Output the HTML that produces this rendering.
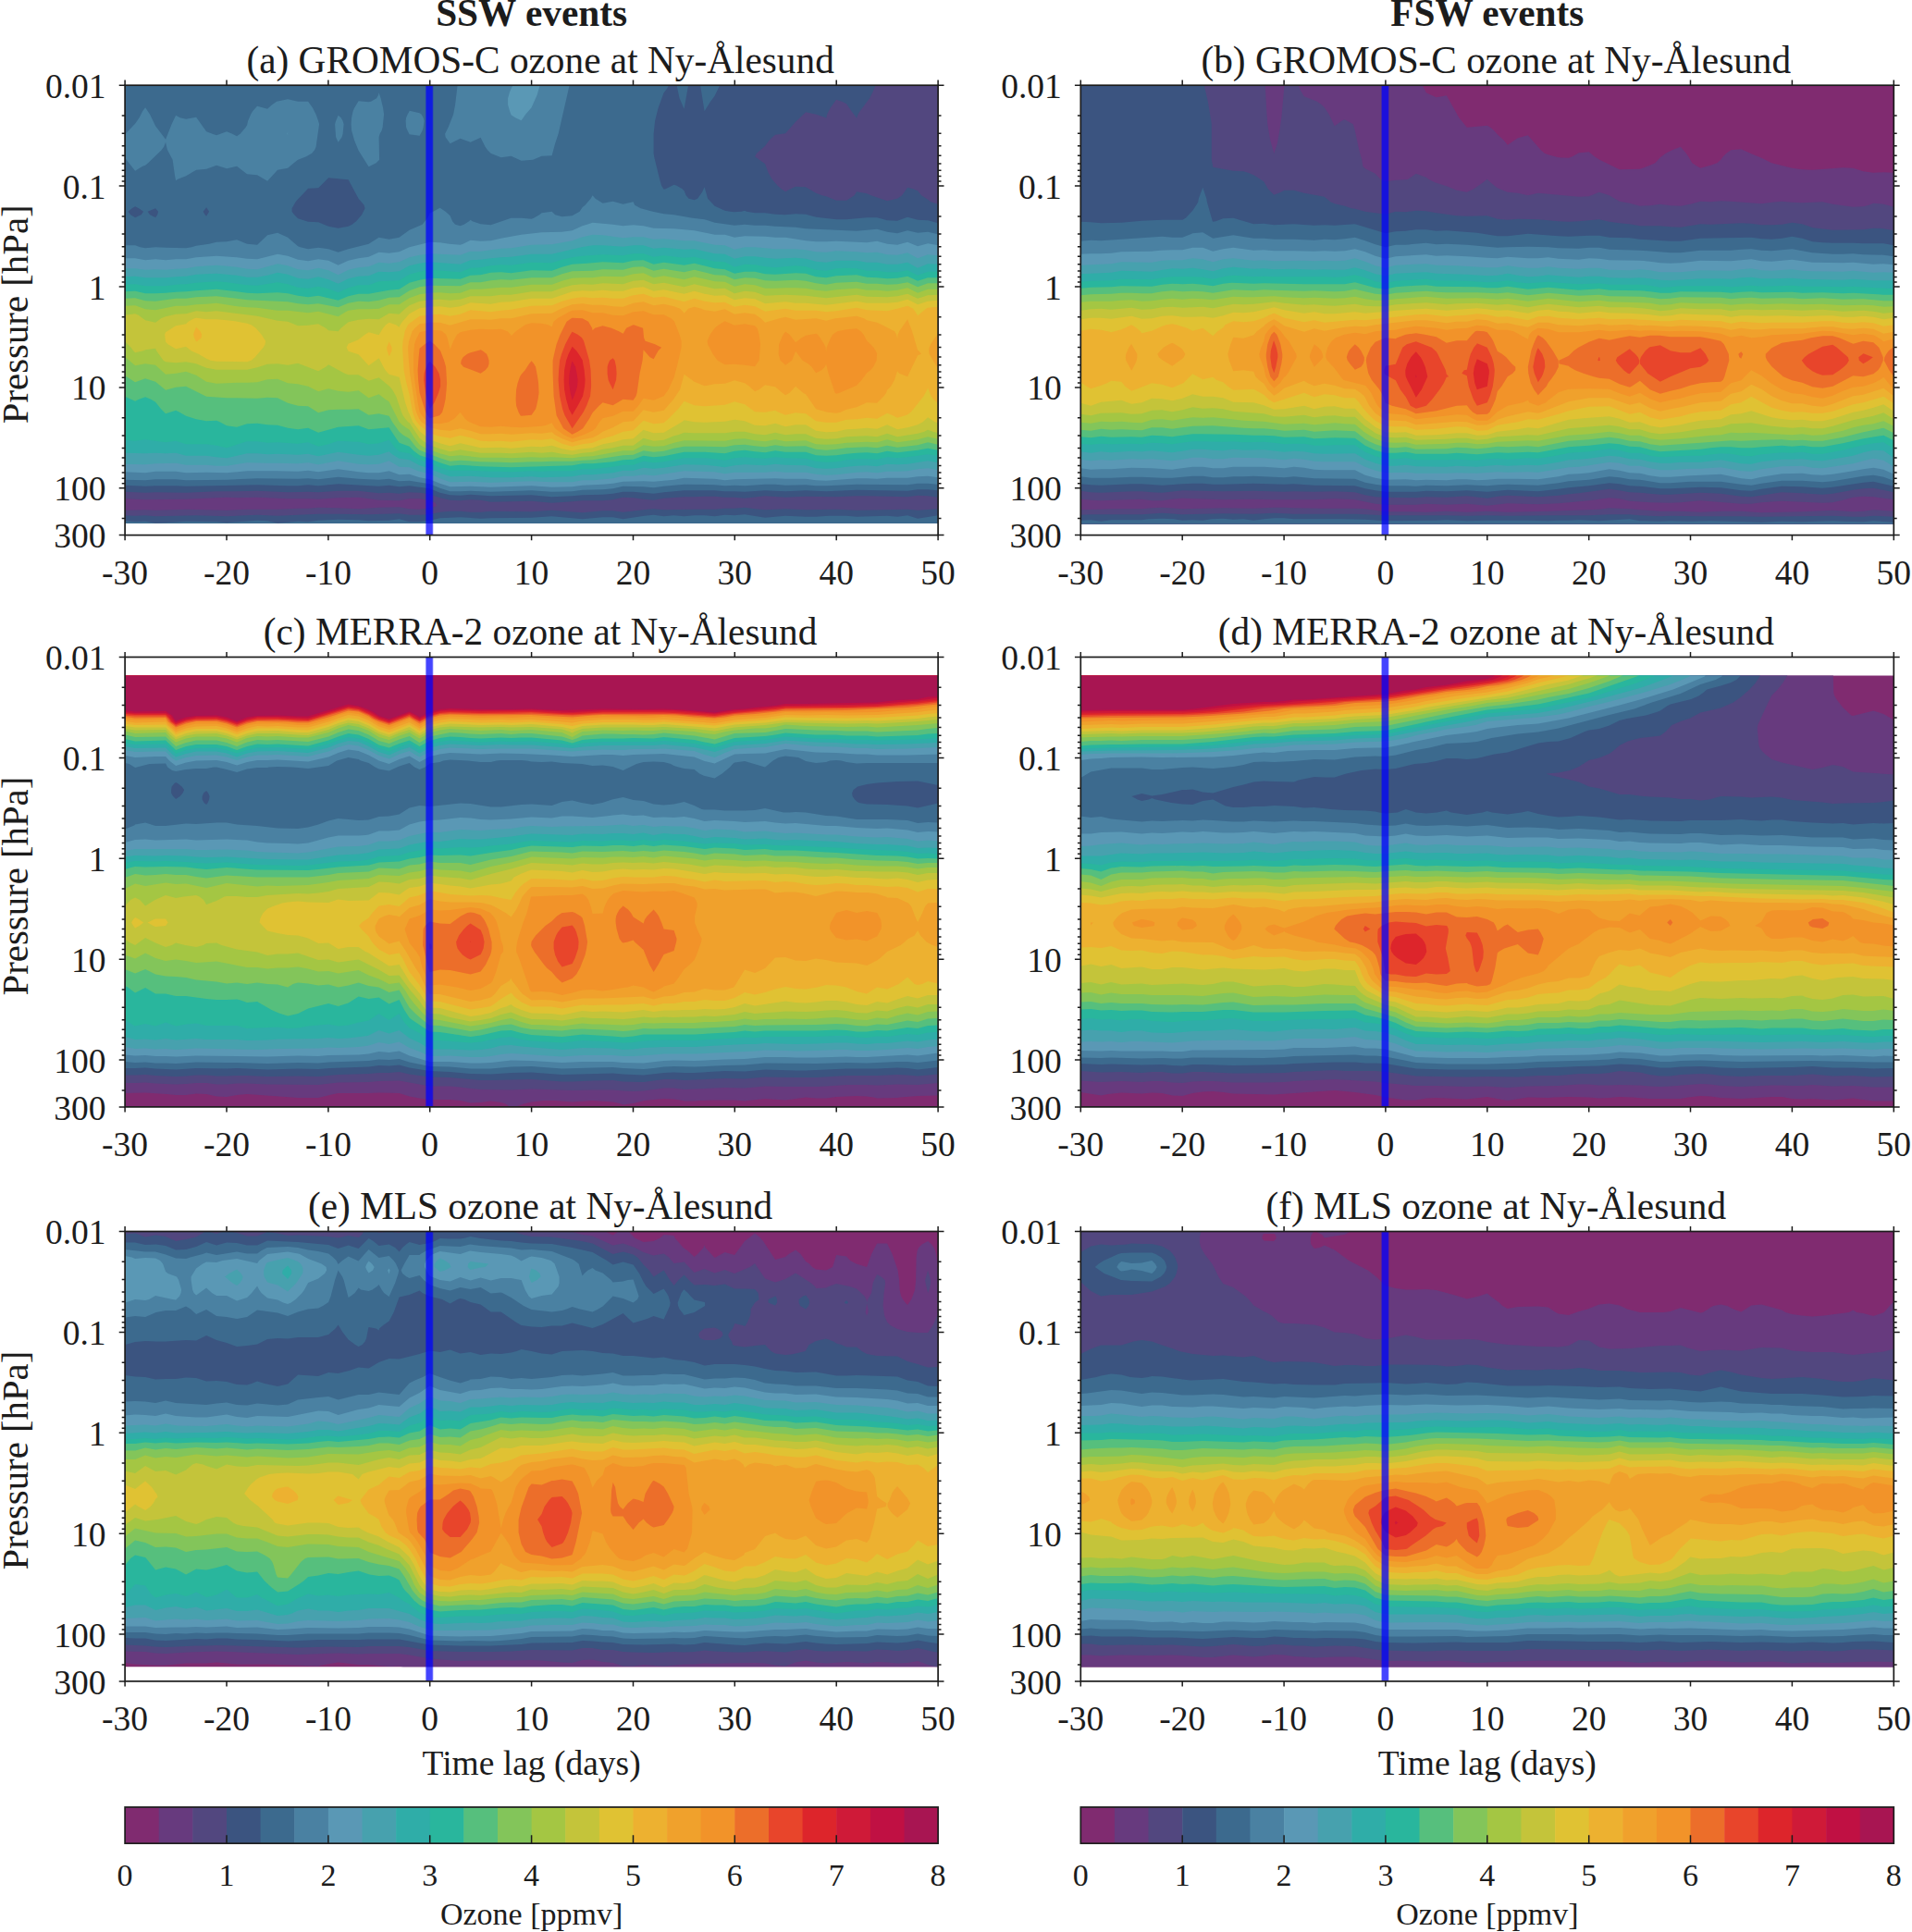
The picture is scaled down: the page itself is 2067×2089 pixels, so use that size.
<!DOCTYPE html><html><head><meta charset="utf-8"><title>Ozone composites</title><style>html,body{margin:0;padding:0;background:#fff}svg{display:block}</style></head><body><svg width="2067" height="2089" viewBox="0 0 2067 2089" font-family="'Liberation Serif','DejaVu Serif',serif" fill="#1c1c1c">
<rect width="2067" height="2089" fill="#fff"/>
<g transform="translate(135.1,92.2)" shape-rendering="geometricPrecision">
<clipPath id="cpa"><rect x="0" y="0" width="879" height="473.8"/></clipPath>
<g clip-path="url(#cpa)">
<rect x="-2" y="-2" width="883" height="490.4" fill="#802B70"/>
<g transform="scale(0.5)" fill-rule="evenodd">
<path fill="#673A7E" d="M0 0h1758v973h-1758z"/>
<path fill="#52477F" d="M0 0h1758v973h-1758v-54l44-1l22 1l66-2l88 2l44-2h66l44-2h22l22-2l43 1l44 2l44-3l44-1l22 4l22 1l22-3l15-4l-3-7l-12-5l-22-4h-22l-22 4l-44-1l-44-6l-44 1l-43 3l-22-1h-44l-66-3l-44 1l-22-1l-88 4l-88 1l-44-2z"/>
<path fill="#3B5480" d="M0 0h1623l-6 14l-7 14l-21 28l-4 7l-3 8l-11-15l-11-16l-10-5l-12-4l-13 18l-7 14l-2 9l-1-2l-20-7l-23-5l-22 21l-22 25l-22 3l-6 5l-7 7l-9 12l-18 16l-4 7l22 16l7 19l8 14l12 14l8 7l9 6l11-6l11-5l22 1l22 13l13 5l9 2l22 9h22l17-11l5-8l22 4l9 4l35 12l22-5l10-7l12-17l12 3l10 4l8 10l14 9l6 5l16 5v634l-22-3l-22-1l-22 3l-88-2h-22l-44 2l-66-1l-44 2l-44-3l-44 5l-22-2h-21l-22-2h-22l-22 1h-22l-44 3l-22 4l-22-2l-22-3l-22-1l-22 5l-22 2h-44l-22 2l-44 3l-44-4l-88 2l-22-4l-22-1l-22 2l-22-1l-22-5l-22-8l-22-3l-22-1l-22 3l-22-2l-22 1l-44-5h-44l-43 3l-22-1l-44 1l-66-3l-44 1h-44l-66 3l-66-1l-22 1l-44-2zM1130 917l13-1l22 2l66-1h44l22-2h21l22-2l22 3l22 2l44-2l44 2l66-1l44 2l110-2l22 2l44-3v57h-1758v-43l22 1l22-1l22 2l88-2l66 2l66-3l44 2l88-4h43l66 1l66-2l22 3h22l22-1l22-5l22-2h22l22 2h22l22-2l88 1l44-3l66 5l44-4h22l22 3z"/>
<path fill="#3C6A8E" d="M0 0h1176l-4 7l-7 9l-12 33l-7 28l-3 28v42l1 7l12 49l4 14l5 8l4-1l18-9l6 2l12 7l4 4l4 10l6 7l12 3l7-3l10-14l5-11l7 25l15 16l22 10l11 2l10 1l15-1l7-2l4 2l18 3h22l22 3l22 1l22-2l22 1l22 6l44 5h22l44-4h22l22 6l22 1l22-8l22 6l22 1l22 6v578l-22-2h-22l-22 3l-110-2l-66 3l-44-2l-44 2l-44-2l-44 3l-22-1h-21l-22-2h-66l-44 4l-22 3l-44-4h-22l-22 4l-22 2l-44 1l-22 2l-44 2l-44-4l-88 2l-44-3l-22 2l-22-1l-22-5l-22-9l-44-6l-22 2l-22-3l-22 2l-88-5l-43 4l-22-2l-22 2h-22l-66-2l-154 3l-22-1h-44l-22 1l-44-2zM22 262l-7 4l-8 7l5 7l10 6l13-6l5-7l-10-7zM66 266l-17 7l5 7l12 6l4-6l2-7zM176 264l-7 9l4 7l3 3l6-10zM440 200l-22 22l-22 1l-14 15l-8 8l-5 6l-4 7l-4 7v7l5 7l8 8l22 7l22 1l22 9l21 4l22-4l8-4l9-7l12-14l7-14l-2-7l-12-14l-22-41zM1193 0h25l-9 51l-10-23zM1244 0h42l-11 23l-9 12l-13 21zM1123 931l20-2l22 3l22-2l22 2l22-2h22l22 2l22-3l21 1l22-2l44 7l44-4l44 2h22l28-2h38l22 2l66-2l22 2l22-3l22 7l44-7v43h-1758v-31l22 2l22-1l22 4l22-1l44-3l66 1l22 2l66-5l22 1l22 5l44-4l22 1l22-3l43-2l44 1l22 2l44-1l22-3l22 6h22l22-3l22-5l44-2l44 3l22-1l88-1l44-3l66 6l44-4h22l22 4z"/>
<path fill="#4A81A2" d="M719 0h242l-24 105l-7 21l-7 26l-22 1l-19 8l-25 2l-22-10l-22 3l-22-9l-7-7l-5-7l-10-20l-22 10l-22-8l-8 4l-14 7l-10-14l-1-7l7-14l11-28l4-21zM548 21l1-5l4 12l5 21l2 14l-3 28l-2 7l-4 7l-2 7l1 49l-7 7l-16 8l-22-35l-9-22l-6-21l-1-14l1-14l3-14l3-7l9-15l22 2l5-1l12-7zM328 35l24-5l22 5h22l10 14l7 14l5 14l2 7l-1 7l-6 42l-3 7l-6 7l-12 7l-18 7l-9 7l-13 11l-22 4l-22 24l-22-13l-22-2l-22-17l-22 5l-22-7l-22 8l-22 2l-22 13l-18 7l-4 3l-2-10l-5-35l-11-21l-2-7l-2-10l-4 10l-5 7l-29 28l-6 5l-6 2l-16 10l-22-28v-51l22-23l9-13l7-14l6-8l10 15l12 25l22 29l13-33l9-19l9 5l13 3l22-4l22 31l13 5l9 3l22-8l12 5l10 5l7-5l12-14l3-5l2-9l6-14l4-7l10-11l22 6l10-9zM615 56v-1l22 5l4 3l4 7l2 7l-2 14l-2 7l-6 11l-22-3l-4-8l-3-7l-1-14l1-7l3-7zM459 70l2-5l6 5l4 7l2 7l-2 21l-2 7l-8 11l-5-11l-1-14l-1-14l2-7zM1007 245l4-7l6 7l16 10l22-4l22 6l22-5l3 7l13 7l26 7l24 5l22 2l40 7l26 3l22 7l22 3l21 3l22-2l22 2h22l22 2l44 2l22 3l110 5l44-4l22 6l22 3l22-6l22 5l22-2l22 5v541l-22-2h-22l-22 3l-110-1l-66 3h-22l-22-2l-44 1l-22-2h-22l-44 3l-22-1l-21 1l-22-2l-66-1l-44 4l-22 3l-22-2l-44-1l-22 5l-22 2l-44 1l-22 3l-44 1l-44-3l-88 3l-44-2l-22 1h-22l-22-7l-22-9l-44-7l-22 1l-22-5l-22 2l-44-2l-44-4l-43 5l-22-2l-22 1l-88-1l-66 3l-88 1l-22-2h-44l-22 2l-44-1v-507h22l11 4l11 2l22-2l22 1l44 1l12-2l10-3l28-4l16-4l22-1l22-4l22 9l22 2l22-21l22-5l22 10l22 19l5 2l17 4l22-3l22 3l21 7l22-7l44-11l22-14l22 4l22-4l22-16l28-12l11-14l5-10l22-12l12 8l10 9l5 12l6 7l11 3l8-3l11-7l3-3l4 3l18 6l22 2l44-15h22l22 2l5-2l12-7l5-4l22-3l7 7l15 4l22-2l16-9l6-9l6-5zM893 952l30-2l7 2l6 7v14h-76l9-14l10-4z"/>
<path fill="#5A98B5" d="M835 7l4-7h58l-6 21l-12 27l-13 15l-9 13l-13-6l-9-6l-3-8l-4-14v-14l4-14zM351 105l1-5v5v3zM999 301l12-4l44 4l22 3l22-2l22 2l22 5l44 1l44 4l44 9h22l21 6l22-3l44 1l22 2h22l44 7l22 2h22l22-1l66 3l22-3l22 6l22 2l22-6l22 9l22-6l22 4v502l-22-3l-22 1l-22 3h-44l-22 2l-22-1h-22l-66 5l-22-1l-22-3h-44l-22-1l-88 2l-21 2l-22-3l-66-2l-22 4l-44 4l-22-1l-44 1l-22 4l-22 2l-44 2l-22 3l-44 1l-44-3l-88 3l-44-2l-44 1l-22-7l-22-9l-22-4l-22-7l-22 1l-22-8l-22 4h-22l-22-2l-44-6l-43 6l-22-3l-22 2l-44-1h-66l-44 4l-44-1l-44 1l-22-3h-44l-22 3l-44-2v-462h22l22 4l22-2l22 2l22-2h22l22-4l44-3l44 3l22 3l22 1l44-11l22 4l22 8l8 1l14 2l22-4l22 3l21 10l22-10l22-5l22-3l22-10l22 2l22-3l22-10l44-11l22 1l20 3l24 2l6-2l16-8l22 2l22-1l22-5l44-8l44-5l44-1l22-3l22-10z"/>
<path fill="#47A1AE" d="M986 329l25-6l22 1l44 6l22-2h22l22 5l22-1l44 4h22l44 9l22 1l21 9l22-5h22l44 4h44l22 2l22 4l22 1l22-3l44 2l22 2l22-1l22 5l22 1l22-5l22 12l22-8l22 2v464l-22-4l-22 2l-22 4l-22 1h-22l-22 3l-22-2l-22 1l-44 5l-22 1l-22-2l-22-4h-44l-22-2l-22 2h-66l-21 3l-22-4l-66-2l-66 10l-22-2l-22 3h-22l-22 5l-42 4h-24l-22 4h-44l-44-2l-88 3l-44-2l-44 1l-22-8l-22-10l-22-5l-6-2l-16-7l-22-1l-22-13l-22 7l-22 1l-22-1l-44-7l-43 8l-22-4l-22 2l-44-1h-22l-44-1l-44 7h-22l-22-2h-44l-22-4l-44 1l-22 2l-44-1v-423h22l22 3l22-1l22 1l22-2l22-1l22-4l44-3l44 4l22 4l22 1l44-12l22 4l22 8l22 2l22-5l22 5l21 10l22-11l22-5l22-2l22-9l22 2l22-3l22-10l22-5l22-3l66 3l22-8h22l44-6l22-1l44-7l44-1l44-8z"/>
<path fill="#2FADA8" d="M987 350l24-4h22l44 3l22-3h22l22 7l22-2l44 4l22-1l44 10l22 1l21 10l22-5h22l22 3l22 2l44-2l22 2l22 6l22 2l22-4h44l22 4h22l22 4h22l22-4l22 12l22-9l22 1v429l-22-4l-44 7l-22 1l-22-1l-22 5l-22-2l-22 1l-22 2l-22 3l-22 1l-22-1l-22-6l-44-1l-22-2l-22 3l-44-2l-22 2l-21 4l-22-3l-22-2l-44-1l-44 7l-22 2l-22-2l-22 6h-22l-22 5l-44 4h-22l-22 4l-66 2l-22-2l-44 2h-44l-44-3l-44 1l-22-8l-22-9l-22-7l-22-12l-22-3l-15-9l-7-6l-22 7l-22 2l-22-2l-44-6l-43 9l-22-5l-22 2l-44-2l-22 1l-22-2h-22l-44 10l-22-2l-22-3h-44l-22-6l-22 1l-22-1l-22 1l-44-1v-381l22-1l22 3h22h22l22-2l22-1l22-4l44-2l44 4l22 4h22l22-4l22-6l22 4l22 8l22 2l22-5l22 6l21 9l22-11l22-5l22-1l22-9l22 1l22-2l22-12l22-5l22-3l66 5l22-9l22-1l22-3l22-2l22-1l44-6h44z"/>
<path fill="#29B69D" d="M1112 364h9l22 7l22-3l44 5l22-2l44 10l22 1l21 11l22-6l22 1l22 4l22 2l44-4l22 2l22 7l22 2l22-5l22-1l22 1l22 5h22l22 3h22l22-4l22 11l22-8h22v398l-22-3l-44 6l-22 2l-22-2l-22 5l-22-1h-22l-22 2l-22 4l-22 1l-22-2l-22-6l-44-1l-22-2l-22 3l-22-1l-22-2l-22 2l-21 5l-22-3l-22-2h-44l-44 8l-22 2l-22-3l-22 8h-22l-22 4l-44 5h-22l-22 4h-44l-22 1l-22-1l-44 2l-22-1h-22l-44-2h-44l-22-6l-22-10l-22-7l-10-5l-12-9l-22-4l-9-8l-13-17l-22 7l-22 2l-22-5l-44-2l-21 7l-22 5l-22-9l-22 3l-44-3l-22 1l-22-3h-22l-44 14l-22-5l-22-3h-44l-22-7l-22 3l-44-6l-22 3l-22-2v-336l22-1l22 4h44l22-3l22-1l22-3l44-3l22 2l44 6l22 1l44-7l22 4l22 7l22 2l22-4l22 5l21 8l22-10l22-6h22l22-8l44-2l22-13l22-6l22-4l66 5l22-9l22-1l22-4l22-2l22 1l44-6l44 1l22-7l22-5l22-3l44-3l44 2l22-4z"/>
<path fill="#56BF7D" d="M999 385l34-3l44 2l22-5l22-1l22 9l22-4l44 6l22-4l44 11l22 2l21 9l22-4h22l22 5l22 1l44-3l22 1l22 7l22 2l22-4l44-2l22 5l22 1l22 2l22-1l22-4l22 10l22-7h22v373l-22-4l-22 4l-44 5l-22-3l-22 5l-22-2l-22 1l-22 2l-22 3l-22 1l-22-1l-22-7h-44l-22-3l-22 4l-22-2l-22-3l-22 2l-21 5l-44-3h-44l-44 9l-22 2l-22-3l-22 8l-22 1l-22 4l-44 4h-22l-22 4l-132 4l-66-2l-44-3l-22 2l-22-7l-22-9l-22-7l-12-9l-10-10l-22-8l-7-10l-15-23l-44 4l-22-8l-44 3l-43 12l-22-10l-22 3l-22-3l-22-6l-22-1l-22-3l-22 1l-22 7l-22-3l-15-8l-7-3l-22 1l-22-4l-22-7l-14-8l-8-4l-22 7l-10-10l-12-15l-10-6l-12-5l-14 5l-8 4l-22-10v-227l22-1l22 5h22l22-1l22-2l22-1l22-2l44-3l66 8l22 1l44-2l22 2l22 5l22 3l22-3l43 10l22-9l22-5h22l44-8l22-2l22-14l22-6l22-4l66 2l22-8l22-1l22-5l22-1l22 2l44-6l44 1l22-8l22-6z"/>
<path fill="#83C55A" d="M1120 392l23 9l22-4l44 7l22-5l44 11l22 1l21 9l22-4l22 1l22 5l22 1l44-2l22 2l22 5l22 3l22-4l44-2l22 4h22l22 2l22-1l22-4l22 10l22-8h22v349l-22-5l-22 6l-44 5l-22-4l-22 5l-22-2l-44 2l-22 3l-22 2l-22-2l-22-7l-44 1l-22-3l-22 4l-22-2l-22-3l-22 1l-21 4l-44-1h-44l-22 4l-22 6l-22 2l-22-3l-22 9l-22 1l-66 10l-22 1l-22 2h-44l-22 1h-22l-44 2l-22-1l-44-1l-44-3l-22 2l-22-7l-44-17l-6-5l-6-7l-10-13l-14-8l-8-7l-15-21l-7-13l-22-5l-22 3l-22-13l-22 1h-22l-21 1l-22 6l-22-14l-22-1l-22-6l-22-11l-22-1l-22 2l-66-1l-44-3l-44-22l-22 2l-22 6l-22-18l-22-7l-22 8l-22-14v-167l22-1l22 6l22 1l44-6h22l22-3l44-2l66 8l88 4l22 4l22 2l22-2l43 8l22-9l22-4l22 1l22-3l22-6l22-1l22-14l22-8l22-3l66 1l22-8h22l22-4l22-2l22 1l44-5h44l22-8l22-6l44-1l22-3l44 1l22-6z"/>
<path fill="#A4C643" d="M1080 413l19-5l22-2l22 10l22-4l44 8l22-6l44 10l22 1l21 10l22-5l22 2l22 7h22l22-1h22l22 1l22 4l22 2l22-3l44-3l22 4h22l22 2l22-2l22-5l22 11l22-8h22v324l-22-5l-22 6l-44 6l-22-6l-22 6l-22-1l-44 2l-22 3l-22 1l-22-1l-22-8l-44 2l-22-4l-22 4l-22-2l-22-4l-22 1l-21 4l-88-1l-22 5l-22 7l-22 1l-22-3l-22 12h-22l-66 12l-22 1l-22 3l-44-2l-22 1l-22-1l-44 2l-22-1h-44l-44-5l-22 2l-22-6l-22-8l-10-4l-12-7l-11-14l-11-18l-15-10l-7-7l-22-44l-8-5l-14-11l-22 8l-22-16l-22 3l-22-2l-21-5l-22 6l-22-11l-22-5l-22-2l-22-9l-22 1l-22 6l-22 1h-22l-44 2l-22-4l-22-14l-22-8l-22 4l-22 2l-22-20l-22-3l-22 4l-22-19v-110l22-1l22 8l22 2l44-9h22l22-3l22-1l22-2l44 7l22 2l22 1l44 6h22l44 5l22-3l43 11l16-10l6-3l22-3h22l22-1l22-9h22l22-14l22-8l22-3l22-1l22 2l22-1l22-8h22l44-4h22l44-6h44l22-8l22-6l22-1h22l22-3l44 1z"/>
<path fill="#C4C43A" d="M1086 427l13-4l22-2l22 9l22-3l44 9l22-6l22 5l22 5l22-1l21 11l22-5l22 2l22 8l44-2l44 2l44 5l66-7l22 4l44 1l22-2l22-5l22 10l22-7l22-1v299l-11-3l-11-4l-8 4l-14 4l-44 7l-22-7l-22 7l-22-2l-44 2l-22 4l-22 1l-22-2l-22-9h-22l-22 2l-22-5l-22 5l-22-2l-22-5h-21l-22 3h-66l-22-1l-13 5l-9 2l-22 9l-22 2l-22-6l-22 16h-22l-22 5l-22 3l-22 6l-22 2l-22 4l-22-2l-22-4l-22 2l-22-2l-44 3l-22-1h-44l-44-7l-22 4l-22-6l-22-8l-13-8l-9-7l-22-33l-3-2l-6-7l-5-7l-3-7l-12-35l-8-14l-6-7l-23-19l-22 7l-22-13h-22l-8-3l-35-19l-6 5l-16 9l-44-17l-22 4l-22-3l-22 1l-22 7l-22 5h-66l-22-4l-22-9l-22-4l-22 2l-22-2l-5-3l-5-7l-10-14l-2-5l-22 3l-4 2l-18 4l-4-4l-5-7l-13-13v-57l22-3l7 3l15 11l22 5l12-9l10-4l22-5l22-1l22-6l22 2l22-2l88 11l44 10l22 2l22 9l22-1l22-3l16 9l6 5l21 2l6-7l16-13l22-5l22-2l22 1l22-13l22 2l13-12l9-7l22-9l22-3l22-1l22 2l22-2l22-7h22h22l22-3h22l44-7h44l22-8l22-6l22-2l22 1l22-3l44 2z"/>
<path fill="#E0C233" d="M1090 441l9-3l22-2l22 9l22-3l44 9l22-6l22 6l22 4l22-1l21 10l22-4l22 2l22 10l44-4l22 3h22l44 4l66-8l22 4h44l22-2l22-6l22 11l22-7l22-2v265l-7-2l-15-10l-11 10l-11 6l-22 6l-22 4l-22-10l-22 9l-22-2l-22 2l-22 1l-22 5l-22 1l-22-3l-22-13h-22l-22 4l-22-7l-22 5l-22-1l-22-9l-22-3l-21 4l-44 2l-22-1l-22-4l-5 4l-39 23l-22 1l-22-7l-22 19l-22 2l-22 6l-22 4l-22 8l-22 2l-22 4l-22-4l-22-7l-22 3l-22-1l-44 4l-22-2l-44 1l-44-10l-22 6l-22-6l-22-8l-22-18l-15-20l-7-18l-2-3l-7-21l-13-55l-22-6l-2-2l-6-7l-4-7l-10-19l-22 16l-22-24l-22-7l-4-8l4-8l22-9l14-11l8-5l22 6l9-15l6-7l7-5l15 5l7 5l2-5l5-7l15-17l22-12l22-3l22-1l22 3l22-3l22-8l44 3l22-4l22-1l44-7h44l44-15l22-2l22 1l22-2l22 2h22zM150 504l4-1l22 3h22l22 2l23 3l21 4l9 3l10 7l12 14l9 14l-1 7l-4 7l-18 21l-8 7l-9 3l-66-1l-13-2l-9-4l-17-10l-16-7l-11-9l-22 5l-17-10l-5-5l-2-16l2-5l22-14l22-4l5-5z"/>
<path fill="#EDB130" d="M1095 455l4-1l22-3l22 8l22-2l44 11l22-7l22 6l22 3l22-1l21 10l22-4l22 3l22 11l44-6l22 4h44l22 3l22-2l44-7l22 5l44 2l22-5l22-6l12 6l5 7l5 8l18-15l4-2l22-2v209l-10-9l-5-7l-7-17l-9 17l-22 28l-6 7l-7 5l-5 2l-17 5l-10-5l-12-5l-22 12l-22-2l-22 3l-22 1l-22 6h-22l-22-3l-22-16l-22-2l-22 5l-15-6l-7-4l-22 4l-22-1l-22-16l-22-6l-21 7l-44 3l-22-2l-22-9l-13 17l-21 21l-10 9l-22 2l-22-7l-22 21l-22 3l-22 9l-22 6l-22 9l-22 3l-22 5l-22-6l-22-11l-22 3l-22-1l-44 5l-22-2l-22 1l-22-1l-22-7l-22-5l-22 6l-22-4l-22-6l-13-11l-9-7l-6-7l-4-7l-5-14l-7-38l-8-32l-4-21l-3-49l1-14l3-14l1-7l7-14l3-3l15-11l7-5l22-3l22-1l22 4l22-4l22-9l44 4l22-3l22-2l44-8l44-1l22-9l22-6l22-3l22 2l22-1l22 2h22zM153 525l1-2l2 2l7 7l3 7l-1 7l-8 7l-3 1l-4-8l-2-7l2-7zM569 560l2-6l6 13v7l-6 12l-4-12l-1-7z"/>
<path fill="#F0A12C" d="M1113 469l8-1l22 8l22-3l22 5l13 5l7 7l2 3l9-10l13-4l15 4l7 3l22 3l22-5l21 11l22-3l22 3l13 9l9 9l31-9l13-3l22 6l44-3l22 5l20-5l46-5l16 5l6 4l22 5l11 5l27 14l4 7l2 9l1-9l3-7l18-26l10 26l12 41l2 1l6 7l-8 3l-22 46l-18-7l-4-5l-6 19l-8 14l-8 8l-2 6l-5 7l-15 15l-22-1l-22 10l-22 5l-13 6l-9 2l-19-2l-25-7l-22-32l-6-3l-16-14l-13 14l-9 5l-7-5l-15-13l-22-4l-13 10l-9 4l-12-11l-10-7l-22-6l-21 7l-22 1l-22 4l-22-9l-22-16l-9 33l-14 21l-21 24l-22 4l-22-5l-22 24l-22 2l-22 12l-22 9l-10 7l-12 6l-22 4l-22 6l-22-8l-15-8l-7-6l-22 3l-22-1l-44 3l-22-2l-22 1h-22l-22-7l-22-5l-22 5l-22-2l-22-5l-18-12l-5-7l-6-14l-2-7l-12-77l-3-35l-1-21l2-14l7-21l6-7l10-9l22-3h22l22 6l44-13h22l22 1l22-3h22l44-10l44-1l20-10l24-9l22-2l22 3h22l22 3l22 1l22-8zM1757 539l1-1v75l-19-32l-1-7l1-7l3-7l9-14z"/>
<path fill="#F29329" d="M960 490l7-3l22-1l22 6h22l22 5l22 1l22-8l22-2l22 8h22l16 8l7 7l11 28l4 14v14l-8 35l-8 30l-12 26l-10 14l-22 9l-22-4l-11 16l-11 12h-22l-22 10l-22 5l-7 8l-9 14l-6 5l-20 9l-24 8l-18-8l-19-14l-7-12l-12 5l-10 2l-44 3l-22-1l-22-2l-22 2l-22-1l-25-10l-9-7l-10-14l-13 14l-9 5l-2 2l-20 4l-22-1l-5-3l-12-14l-5-8l-4-20l-6-42l-3-28v-35l2-21l2-7l9-19l8-2l14-3l22 1l5 2l8 7l3 7l6 25l7-18l8-14l7-5l22-5l22-2l22 1l22-1l14 5l7 7l1 3l10-10l20-14l14-4l22 1l14 3l8 4l4-11l8-7zM1295 511l2-1l21 9l22-3l22 4l5 5l4 14l3 21l-3 35l-9 13l-22-3l-22-2l-21 1l-16-9l-10-14l-11-21l-1-7l3-7l3-7l10-14l9-7zM1540 532l20-4l22-2l9 6l6 7l7 13l15 15l4 7l3 6l-1 15l-7 14l-6 7l-8 6l-11 15l-11 12l-37 16l-7 2l-3-2l-7-21l-7-21l-5-20l-3 6l-7 7l-12 6l-9-13l-8-7l-12-7l-15-20l-8 20l-14 10l-11-10l-4-14l1-21l9-21l5-6l9 6l13 17l13-10l9-5l22-4l4 2l5 7l9 14l3 7l1 10l1-10l9-21l4-7z"/>
<path fill="#EC6E2A" d="M965 504l2-1l22 1l13 7l8 14l1 5l5-5l17-5l19 5l16 7l9 5l7-12l15-7h1l20 7l2 21l3 7l21 7l14 7l-7 7l-10 18l-8-4l-14-16l-2 23l-6 28l-6 42l-2 7l-6 9l-22-2l-22 13l-22-6l-8 7l-14 15l-7 13l-14 21l-11 7l-12 6l-19-13l-15-28l-3-21l-3-21l-2-49v-28l3-14l5-21l8-21l14-28zM659 553l10 7l13 14l8 21l4 14l2 35l-1 14l-2 21l-3 14l-4 14l-6 7l-21 6l-9-13l-13-42l-3-28l-1-21l2-28l2-19l11-9zM762 574l7-2l4 2l9 7l3 7l2 7v7l-2 7l-6 7l-10 7l-37-14l-6-7l1-7l4-7l9-7l7-3zM874 602l5-6l5 6l4 7l4 21l2 14l1 21l-2 14l-3 14l-2 7l-9 13l-22 2l-2-1l-4-7l-5-14l-1-14l1-21l3-14l5-14l3-5l8-9z"/>
<path fill="#E8452B" d="M963 539l4-6l12 6l9 7l4 7l12 42l3 21l1 28v7l-2 21l-8 21l-7 14l-24 35l-16-28l-5-14l-6-28l-2-21l-1-14l1-21l2-21l4-14l8-21zM1048 595l7-5l4 5l3 14l1 14l-1 14l-7 21l-7-14l-3-7l-2-14v-14l2-7zM655 602l4-5l12 12l8 14l3 14v14l-4 14l-9 21l-10 14l-9-35l-4-28l1-14l2-7z"/>
<path fill="#DD252B" d="M966 567l1-2l9 9l5 7l8 13l4 22l2 21l-1 14l-4 21l-11 21l-12 20l-7-13l-6-21l-4-21l-1-21l1-21l4-21l5-14z"/>
<path fill="#CF1A38" d="M965 602l2-6l7 13l3 14l2 14l-1 14l-2 7l-5 14l-4 9l-4-16l-3-21l1-21z"/>
</g>
</g>
<rect x="324.8" y="0" width="8.6" height="486.4" fill="#0000ff" fill-opacity="0.3"/>
<rect x="325.6" y="0" width="7" height="486.4" fill="#0000ff" fill-opacity="0.62"/>
<rect x="0" y="0" width="879" height="486.4" fill="none" stroke="#1c1c1c" stroke-width="1.7"/>
<path d="M0 486.4v5.6M0 0v-5.6M109.9 486.4v5.6M109.9 0v-5.6M219.8 486.4v5.6M219.8 0v-5.6M329.6 486.4v5.6M329.6 0v-5.6M439.5 486.4v5.6M439.5 0v-5.6M549.4 486.4v5.6M549.4 0v-5.6M659.2 486.4v5.6M659.2 0v-5.6M769.1 486.4v5.6M769.1 0v-5.6M879 486.4v5.6M879 0v-5.6M0 0h-6.4 M879 0h6.4M0 32.8h-3.4 M879 32.8h3.4M0 52h-3.4 M879 52h3.4M0 65.6h-3.4 M879 65.6h3.4M0 76.1h-3.4 M879 76.1h3.4M0 84.7h-3.4 M879 84.7h3.4M0 92h-3.4 M879 92h3.4M0 98.3h-3.4 M879 98.3h3.4M0 103.9h-3.4 M879 103.9h3.4M0 108.9h-6.4 M879 108.9h6.4M0 141.7h-3.4 M879 141.7h3.4M0 160.9h-3.4 M879 160.9h3.4M0 174.5h-3.4 M879 174.5h3.4M0 185h-3.4 M879 185h3.4M0 193.6h-3.4 M879 193.6h3.4M0 200.9h-3.4 M879 200.9h3.4M0 207.2h-3.4 M879 207.2h3.4M0 212.8h-3.4 M879 212.8h3.4M0 217.8h-6.4 M879 217.8h6.4M0 250.6h-3.4 M879 250.6h3.4M0 269.8h-3.4 M879 269.8h3.4M0 283.4h-3.4 M879 283.4h3.4M0 293.9h-3.4 M879 293.9h3.4M0 302.5h-3.4 M879 302.5h3.4M0 309.8h-3.4 M879 309.8h3.4M0 316.1h-3.4 M879 316.1h3.4M0 321.7h-3.4 M879 321.7h3.4M0 326.7h-6.4 M879 326.7h6.4M0 359.5h-3.4 M879 359.5h3.4M0 378.7h-3.4 M879 378.7h3.4M0 392.3h-3.4 M879 392.3h3.4M0 402.8h-3.4 M879 402.8h3.4M0 411.4h-3.4 M879 411.4h3.4M0 418.7h-3.4 M879 418.7h3.4M0 425h-3.4 M879 425h3.4M0 430.6h-3.4 M879 430.6h3.4M0 435.6h-6.4 M879 435.6h6.4M0 468.4h-3.4 M879 468.4h3.4M0 486.4h-6.4M879 486.4h6.4" stroke="#1c1c1c" stroke-width="1.5" fill="none"/>
<text x="0" y="539.6" font-size="37.5" text-anchor="middle">-30</text>
<text x="109.9" y="539.6" font-size="37.5" text-anchor="middle">-20</text>
<text x="219.8" y="539.6" font-size="37.5" text-anchor="middle">-10</text>
<text x="329.6" y="539.6" font-size="37.5" text-anchor="middle">0</text>
<text x="439.5" y="539.6" font-size="37.5" text-anchor="middle">10</text>
<text x="549.4" y="539.6" font-size="37.5" text-anchor="middle">20</text>
<text x="659.2" y="539.6" font-size="37.5" text-anchor="middle">30</text>
<text x="769.1" y="539.6" font-size="37.5" text-anchor="middle">40</text>
<text x="879" y="539.6" font-size="37.5" text-anchor="middle">50</text>
<text x="-20.5" y="13.6" font-size="37.5" text-anchor="end">0.01</text>
<text x="-20.5" y="122.5" font-size="37.5" text-anchor="end">0.1</text>
<text x="-20.5" y="231.4" font-size="37.5" text-anchor="end">1</text>
<text x="-20.5" y="340.3" font-size="37.5" text-anchor="end">10</text>
<text x="-20.5" y="449.2" font-size="37.5" text-anchor="end">100</text>
<text x="-20.5" y="500" font-size="37.5" text-anchor="end">300</text>
<text x="449" y="-13.6" font-size="41.3" text-anchor="middle">(a) GROMOS-C ozone at Ny-Ålesund</text>
<text transform="translate(-105,247.6) rotate(-90)" font-size="40.8" text-anchor="middle">Pressure [hPa]</text>
</g>
<g transform="translate(1168.3,92.2)" shape-rendering="geometricPrecision">
<clipPath id="cpb"><rect x="0" y="0" width="879" height="474.2"/></clipPath>
<g clip-path="url(#cpb)">
<rect x="-2" y="-2" width="883" height="490.4" fill="#802B70"/>
<g transform="scale(0.5)" fill-rule="evenodd">
<path fill="#673A7E" d="M0 0h739l8 16l22 10l22-4l27 48l17 21l44-4l7 4l8 7l6 7l15 14l8 10l22-15l22-6l28 32l8 7l8 3l22 6l22 1l8-3l14-8l22-2l12 10l11 7l43 21l44-1l17-6l16-7l11-12l12-9l14-7l18-7l12 14l5 7l8 14l11 7l7 4l22-6l14-5l8-7l5-7l7-7l10-7l22-2l22 10l22 9l22 11l44 11l22 3l22 1l66-5l22 1l22 7l22 3l22-1l22 1v784h-1758z"/>
<path fill="#52477F" d="M0 0h399l3 56l2 28l6 35l8 28l7-21l5-28l4-28l6-66l3-4h27l7 14l6 10l28 11l10 7l6 6l10 15l12 25l15-11l7-3l18 10l4 14l9 42l6 21l2 14l5 5l22 11l11 12l11 5l22-3l22-1l5-1l17-12l22 8l5 4l14 7l25 8l22 9l22 4l15-7l20-14l9-7l7 7l15 12l22 9l22 2l22 5l22-5l88 8l22-1l22-9l22 7l22 13l22 4l22 6l22-1l22-3l22 3l22 1l21-4l22-6l22 1l22-2l22 1l66 5l22-3l22-2l22 2l22 1l44-2l22 5l44 6l22-1l12-3l10-4l22 2l22 6v633l-22-3l-22-3l-22-1l-22 2l-22 6l-22 5l-22 1l-88-4l-44 3l-22 3h-22l-88-7l-43 4l-22 1l-44-1l-44-3l-22-5l-22-2l-44 6l-66 6l-44 2l-66-2l-44 5l-44-4l-44 2l-44-2l-22 2h-66l-22-2l-44-9l-44-2l-44 2h-87l-44-1l-66 1l-88-3l-22 2l-22 3h-22l-22-3l-88 3l-22-1l-22-2zM40 917l26-1h66l22-2l22-1l44 3l88-2l66 1l44-2h22l21 1l66 1h66l22 1l44 6h44l44 1l44-2l44 2l44-2l44 2l88-2l110-4l22-3l44 2l22 2l44 3h44l43 2l44-2h44l44 3l88-2l66-3l44 3l22-1l22-3l44 3v52h-1758v-55z"/>
<path fill="#3B5480" d="M0 0h267l8 35l7 42l1 7v77l3 16l44 8l22 1l10 3l12 5l22 14l9 16l13 13l15-6l7-4h21l22 6l44 8l13 11l9 4l22 5l14 5l8 1l22 6l44 6l22-6l22 1l22-3l22 1l22 4l44 6l22 1l44-1l22 7l22 2l22-2l44 1l44 4l22 1l22-1l44-4l22 5l22 3l22 2l22 4h44l22 2l22 1l43-7l22 1l66-3l22 1l22 3h22l22-1l22-4l22 3l23 8l43 5l66-1l22-3l22 1l22 4v566l-44-9l-22 1l-22 3l-44 8l-22 2l-44-3l-44-2l-66 10l-22-1l-44-6l-44-2l-65 4h-22l-44-4l-22-1l-22-4l-22-3l-66 9l-22 2l-22 3l-44 3l-66-3l-22 2l-22 4l-44-5l-44 3l-44-1l-22 2l-66-1l-22-1l-22-4l-22-6l-44-2l-44 1l-44-1l-21 1l-66-2l-66 1l-44-1l-44-1l-44 5l-22-1l-22-2h-22l-66 3l-22-1l-22-3zM0 931v-2l22-1h110l44-3l44 3l88-2l66 1l44-2l43 2h132l66 3h132l44 1l44-1l44 1l88-1h88l44-2h44l22 2l44 2l22-1l65 1h88l44 1l154-2l44 2h22l22-2l44 2v40h-1758z"/>
<path fill="#3C6A8E" d="M263 224l1-3l8 24l1 7l12 42l1 1l6-1l16-6l22-1l44 13l22-1l22 3l43-2l44 3l22-1l22 1l44-3l66 20l22-4l22-1l22-3h22l22 3l22-1l66 5l44 7h22l44-5l66 5l22 1l44-2h22l22 4l44 1l22 3l66 4h22l43-6l110-2l22 3l22 1l22-2l22-4l22 4l22 7l22 2l22 1h44l22 1h44l22 4v521l-22-5l-22-5l-22 2l-66 10l-22 2l-44-3l-44-1l-44 6l-22 4l-22-1l-44-6l-44-1l-65 3h-22l-44-5l-22-1l-22-4l-22-2l-44 6l-44 4l-22 3l-44 5l-66-3l-22 2l-22 2l-44-3l-44 2l-44-1l-22 2h-66l-22-3l-22-4l-22-6l-88-1l-44-3l-21 1l-66-2l-66 2h-22l-22-2h-22l-22 1l-44 3l-44-3h-22l-66 3l-22-1l-22-2v-567l22 1l22 2l44-1l44-4l44-2h44l7-4l15-16l8-12l4-7l1-7zM146 938l30-1l25 1l19 3l22-1l22 1l19-3l25-1l22 2l22-1l22 3l22-3l22-2h22l21 2h104l50 1l44 3l110-1l22-1l44 2l44-1h88l44 1l22-1h22l22-1l44 2l66-4l22 4l44 1l22-1l43 1l44-1l110 3l44-2l44 1l66-2l22 1l44 1l22-2l44 3v28h-1758v-32l22-1l22 3l22-3h66z"/>
<path fill="#4A81A2" d="M238 322l4-2l22-2l22 13l44-7l44 7h22l22 2h43l44 2l22-2l22 1l22-2l22-3l22 7l22 8l22 6l22-5h22l44-4l22 3l22-1l44 2l66 6l22-1l44-1l44 1l22 2l44 1l22-2h22l22 4l66 2l66 5h22l43-5h66l22-2l22-1l22 3l22 1l44-4l44 8l44 3h22l22-1l22 2l44 1l22 3v485l-22-8l-22-4l-22 2l-66 11l-22 2l-44-3h-44l-44 6l-22 4l-22-2l-44-6h-66l-43 3h-22l-44-7l-22-1l-22-4l-22-2l-44 7l-44 3l-22 4l-44 5l-66-2l-22 1l-22 2l-44-2l-44 2l-44-1l-22 2l-22-1h-44l-22-3l-22-4l-22-8l-88-1l-44-4l-21 2l-66-3l-22 1h-22l-22 2h-22l-22-3h-22l-44 4h-22l-44-2h-22l-44 2h-44l-22-3v-509l22-2l22 1l132-9l22 2h22z"/>
<path fill="#5A98B5" d="M172 357l26-1h22l22-5h22l22 8l22-5l22-3l44 6l22-1l22 2h43l44 1l22-1l22 1l22-1l22-4l22 6l22 9l22 6l22-5l66-4l22 3l22-1l44 2l44 3l22 1l22-3l44 3h22l22-2l22 3l44 2l22-3l22 1l22 3l66 1l22 2l22 3l22 1l22-1l43-5l66 1l44-4l22 4l22 1l44-4l44 6l66 1l22-1l44 4l22-1l22 2v453l-22-10l-22-4l-22 3l-22 4l-44 7l-22 2l-22-1l-22-3l-44 1l-44 7l-22 5l-22-2l-44-9l-66 3l-43 3h-22l-22-3l-22-5l-22-1l-22-5l-22-3l-44 8l-22 2l-22 1l-22 5l-44 6l-44-1h-44l-22 2l-22 1l-22-2h-22l-22 2l-44-1l-22 1l-22-2l-44 1l-22-4l-22-6l-22-11h-66l-22-1l-22-4l-22-2l-21 3l-44-3h-66l-22 3h-22l-22-3h-22l-44 6l-44-3l-44-1l-44 3h-22l-22 1l-22-3v-463l22-1h22l22-1l22-3l66-1z"/>
<path fill="#47A1AE" d="M191 378h29l22-4l22 2l22 6l22-6l22-2l44 5l22-1l22 2l65-1l22 1l22-1l22 1l22-1l22-5l22 7l22 9l22 5l22-6l66-3l22 3l44 1l66 4h22l22-4l22 3l22 2h22l22-3l22 3l44 2l22-2h22l22 4l44 1l22-2l22 2l22 4h22h22l43-4l66 1l22-3l22-2l22 4l22 1l44-3l22 3l22 1l66 1l22-2l44 4l22-1l22 1v420l-22-14l-22-4l-22 5l-22 6l-66 10l-22-1l-22-4l-44 1l-44 6l-22 5l-22-1l-44-8l-44 3h-22l-43 3h-22l-22-4l-22-5h-22l-22-6l-22-2l-44 7l-22 3l-22 1l-22 4l-44 7l-22-1l-44 1l-22-1l-44 3l-44-1l-22 1h-44h-22l-22-2l-44 1l-22-5l-22-8l-22-11h-66l-22-1l-22-4l-22-2l-21 3l-44-4l-66-1l-22 3h-22l-22-3h-22l-22 4l-22 3l-44-4l-22 1l-22-1l-44 3l-22-1l-22 2l-22-3v-420l66-3l22-4l66 1l22-4z"/>
<path fill="#2FADA8" d="M178 399l20-3l22 1l22-2l22 3l22 4l22-6l22-3l44 4l22-1l22 2l43-1l44 2l22-1l22 1h22l22-5l22 6l22 8l22 4l22-5l66-3l22 3l66 2l44 3l22-1l22-4l22 4l22 3l22-1l22-3l22 2l44 3l22-2h22l22 3l44 1l22-1l22 2l22 3l22 1l65-4h44l22 1l22-3l22-1l22 3h22l44-1l22 2l88 2l22-2l44 3h44v384l-22-16l-22-1l-22 5l-22 7l-66 11l-22-1l-22-3l-22 1h-22l-44 5l-22 5l-22-1l-22-4l-22-4l-44 5h-43l-22 2h-22l-22-3l-22-5l-22-1l-22-5l-22-2l-44 6l-22 2l-22 1l-22 5l-44 7l-22-1l-44 2l-22-2l-44 4l-44-2l-22 2l-66-1l-22-3l-22 2h-22l-22-6l-22-8l-22-13l-66 1l-22-1l-22-4l-22-1l-21 2l-44-5l-44 1l-22-2l-22 3l-22-1l-22-2h-22l-22 4l-22 3l-44-4l-22 2l-22-1l-44 3l-22-2l-22 3l-22-3v-384l66-3l22-4l66 2z"/>
<path fill="#29B69D" d="M314 413l16-2l44 3l22-1l22 1h109l22 1l22-1l22-4l22 6l22 8l22 4l22-5l66-4l22 3l66 1l44 3l22-1l22-3l22 4l22 2l44-3l22 2l44 3l44-2l22 3h66l22 2l22 4l22-1l22-2h21h66l22 2l44-3l22 2l66-2l22 2h44l44 1l22-1l88 5v346l-22-14l-22 2l-22 4l-44 11l-44 8h-22l-22-4l-22 2l-22-1l-44 4l-22 4l-22-1l-22-4l-22-1l-44 5h-22l-65 3l-22-3l-22-6h-22l-22-6l-22-3l-44 6l-44 3l-22 5l-44 7l-22-1l-44 3l-22-2l-22 1l-22 3l-44-2l-22 1h-22h-44l-22-4l-22 2h-22l-22-6l-22-9l-22-15h-44l-22 1h-22l-22-4h-22l-21 1l-22-3l-22-2l-44 1l-22-2l-22 1l-44-1h-22l-44 6l-22-2l-22-1l-22 3l-22-1l-44 1l-22-1l-22 2l-22-2v-350l22-2l44-1l22-3l66 1l22-4l22-2h22h22l22 1l22 4z"/>
<path fill="#56BF7D" d="M327 427l47 2l22-1l87 2h44h22h22l22-4l44 12l22 3l22-5l44-3l22-1l22 3l88 1l22 2h22l22-3l44 6l44-4l66 6l44-3l22 3l66 1l22 2l22 3h22l22-3l87 1l22 2l22-2l22-1l22 2l66-1l22 2l44-1l44 2l22-1l66 4h22v315l-22-11l-44 7l-44 10l-44 8h-22l-22-3l-22 2l-22-2l-44 3l-22 2h-22l-22-2h-22l-22 2l-22 3l-87 5l-22-4l-22-6l-22-1l-22-5l-22-2l-44 5l-44 3l-66 12l-22-1l-44 2l-22-1l-44 4l-44-3l-22 2h-66l-22-4l-22 2h-22l-22-6l-22-10l-22-16l-44-1l-44 2l-22-4l-43 1l-22-3l-22-1h-22l-44-2l-66-1h-22l-44 6l-22-2l-22-1l-22 4l-22-1l-44 1l-22-2l-22 3l-22-2v-321l22-2l44-1l22-2l66 1l22-4l22-2l22 1l22-1l22 2l22 3l22-5z"/>
<path fill="#83C55A" d="M164 448l12-2l22-2l22 2l22-1l22 1l22 3l44-7l22 1l22 1l22-2l22 1l65 2l22-1l44 2l22-1l22-4l44 10l22 2l22-4l66-4l22 2l22 1h66l44 2l22-2l44 6l44-5l66 6l44-2l22 3l66 1l22 2l22 3l22-1l22-3l87 1l22 3l22-2l22-1l22 2l44-1h22l22 2l44-2l44 3l44-1l44 4h22v286l-22-11l-44 9l-44 11l-44 8h-22l-22-2l-22 1l-22-2l-44 1l-44 2l-22-1l-66 5l-87 6l-22-3l-22-6l-22-1l-22-5l-22-3l-44 5l-44 3l-66 13l-22-2l-44 2l-22-1l-22 3l-22 2l-22-2l-22-1l-22 3l-66 1l-22-5l-22 2l-22-1l-22-7l-13-6l-9-5l-22-17l-44-2l-44 3l-22-4l-43 2l-22-3l-22-2h-22l-22-1l-66-5l-44 1l-44 6l-22-3h-22l-22 6l-44-2l-22 1l-22-2l-22 4l-22-2v-291l22-2l44-1l22-2h22l22 1h22z"/>
<path fill="#A4C643" d="M186 462l12-1l22 2l22-2l22 1l22 2l44-7l22 1h22l44-2l22 2l43 2l22-1l44 2l22-1l22-3l22 5l22 3h22l22-3l66-5l44 4l66-1l44 3l22-2l44 6l44-6l66 7l44-3l22 3l66 2l22 1l22 4l22-1l22-4l43 2h44l22 3l22-2l22-1l22 2l44-2l22 1l22 1l44-1l44 3l44-1l22 1l22 3l22-1v259l-22-11l-22 6l-22 3l-22 5l-22 7l-44 9l-22 1l-22-3l-22 2l-88-5l-22 1l-22-1l-22 5l-22 1l-65 7l-44 3l-22-3l-22-7h-22l-22-5l-22-3l-44 5l-44 3l-66 12l-22-1l-44 2l-22 1l-22 4l-22 1l-22-3h-22l-22 2l-66 2l-22-5l-22 1l-22-1l-22-8l-14-8l-11-7l-19-16l-22-1l-22-2l-44 4l-22-3l-43 2l-44-6l-44-2l-44-5l-22-2l-22 1l-22-1l-44 7l-22-3l-22 1l-22 7l-22-1l-22-2l-22 1l-22-1l-22 4l-22-2v-260l22-2h44l22-2l22-1l22 3l22-1l22-3z"/>
<path fill="#C4C43A" d="M410 469l8-1l22 3l43 4l22-1l22 2l22 1l22-2l22-2l22 4l22 1h22l22-4l66-4l44 4l22-2l44-1l44 4l22-2l44 7l22-4l22-3l66 7l44-3l22 3h44l44 4l22 4l22-2l22-4l43 2h44l22 4l22-3h22l22 1l44-1l44 2l44-2l44 4l44-2l22 2l22 4l22-2v231l-22-14l-22 7l-44 9l-44 13l-22 5h-22l-22-3l-22 2l-44-4l-44-7l-44 2l-22 7l-44 4l-43 7l-44 4l-22-3l-22-7h-22l-22-6l-22-3l-88 7l-66 15l-22-1l-44 3l-22 1l-22 5l-22 2l-22-4h-22l-22 2l-66 2l-22-6l-22 1l-22-1l-22-9l-4-3l-18-12l-22-20h-22l-22-3l-22 1l-22 3l-22-5l-43 4l-22-1l-22-6l-66-5l-22-5l-22-2l-22 1l-22-3l-22 6l-22 4l-22-4l-22 1l-22 7l-22 1l-22-3l-44 1l-22 5l-22-3v-224l22-3l22-1l22 2l44-4l22 4l22-1l22-4l22-1l22 2l44-2l22 3l44-9l22 1l22-1z"/>
<path fill="#E0C233" d="M406 483l12-3l22 6l43 7l22-3l22 4h22l44-4l22 3l22-2l22-1l22-3l66-4l44 4l66-5l22 2l22 3l22-1l44 7l22-6l22-2l22 4l22 1l22 3l44-4l22 3l44 1l44 3l22 3l22-1l22-4l43 2l44 1l22 4l22-3h22l22 1l44-1l44 2l44-2h22l22 3h22l22-2l22 2l22 5l22-3v202l-22-15l-22 7l-22 6l-22 4l-44 14l-22 5h-22l-22-3l-22 1l-27-3l-17-3l-44-14l-22 6l-22 2l-22 10l-44 3l-22 4l-21 5l-44 6l-22-4l-22-8l-22 1l-22-8l-22-5l-44 3l-44 4l-66 19l-22-2l-22 4l-44 5l-22 7l-22 1l-22-5h-22l-44 4l-44 1l-22-7l-22 1l-22-1l-22-11l-14-11l-9-7l-21-22h-22l-22-5l-22 1l-22 5l-22-7l-43 7l-22 1l-22-9l-22-6l-44-1l-22-9l-22-3h-22l-22-5l-22 9l-22 5l-22-4l-22-1l-22 9l-22 3l-22-8l-44 4l-22 8l-22-6v-181l22-3h22l22 2l44-6l22 6l22-1l22-5l22-1l22 3h22l22-1l22 3l22-5l22-7l22 1l22-2z"/>
<path fill="#EDB130" d="M407 497l11-4l10 4l12 6l43 9l22-4l22 5l22-2l44-4l22 1l110-12l22-1l44 5l22-2l22-1l22-3l22 2l22 5l22-1l44 8l22-8l22-1l22 4l44 3l44-3l22 3l44-1l22 2l22 1l22 2h22l22-3l21 1l66 2l22 5l22-4l44 3l22-1h66l44-3h22l22 3l22 1l22-2l22 2l22 7l22-3v170l-22-15l-44 13l-22 4l-44 15l-22 4h-22l-22-3l-22 1l-22-4l-11-3l-11-3l-44-24l-22 13l-22 4l-22 13l-44 3l-22 4l-21 6l-44 7l-22-5l-22-11l-22 4l-44-17l-44 1l-44 9l-22 7l-44 12l-22-1l-22 6l-44 7l-22 11l-22 1l-22-8l-22-1l-44 5l-44 2l-22-7h-22l-22-1l-4-2l-18-10l-12-11l-13-14l-10-14l-9-10h-22l-22-6l-22-2l-22 6l-22-9l-65 21l-12-7l-10-10l-22-12l-44 2l-12-8l-10-9l-15-5l-7-6l-22 5l-22-12l-20 20l-24 10l-22-7l-22-3l-44 17l-14-10l-8-10l-22-2l-9 5l-13 5l-22 7l-9-5l-13-9v-111l22-4l22 2l15 3l7 2l22-6l22-10l11 7l8 7l3 4l22-5l22-10l9-3l13-2l10 2l22 7l12 6l22-6l22 17l10-10l12-8l4-6l18-8l22 2l22-2l22-7z"/>
<path fill="#F0A12C" d="M408 511l10-5l9 5l13 9l43 13l22-7l22 5l44-8l22-2l22 1l22-4l88-10h22l44 6l22-3h22l22-5l22 2l22 7l22-1l22 5l22 4l22-10h22l22 5l44 2l44-4l22 3l44-2l22 3l22-1l44 3l22-2l43 1l44 3l22 5l22-4l22 3h22l22-2h66l44-4h22l22 4l22 1l22-2l22 2l22 10l22-4v139l-22-17l-44 14l-22 3l-44 17l-13 4l-9 2l-22-2l-22-5h-22l-22-6l-22-10l-22-15l-22-10l-22 15l-22 5l-22 16l-44 3l-43 10l-22 4l-22 5l-22-7l-22-12l-22 5l-44-15h-44l-44 8l-59 23l-7 2l-22-3l-44 10l-22 7l-7 5l-15 6l-22 1l-22-7l-22-1l-88 7l-22-8l-44-2l-22-15l-13-16l-7-14l-4-7l-8-7l-12-8l-22-1l-22-7l-22-4l-22 5l-14-6l-8-5l-43 16l-12 10l-10 6l-14-13l-8-13l-11-8l-7-7l-4-11l-22-3l-22 2l-9-23l-3-14l6-21l6-15l22 2l22-7l7-8l15-11l2-3zM109 560l1-1v1l12 21v7l-1 7l-3 7l-8 15l-12-22l-1-7l1-7l6-14zM191 560l7-3l6 3l11 7l5 4l6 10l-3 7l-3 3l-22 16l-20-12l-9-7l-3-7l6-7l7-7z"/>
<path fill="#F29329" d="M410 525l8-7l15 14l5 7l2 3l10 11l4 7l12 21l1 7l-19 35l-6 7l-2 1l-9 13l-13 11l-10-11l-8-14l-4-19l-9-23l-1-7l4-14l6-14l3-14l5-7zM698 525l27-4l44 4l22 4l22-3l22-1l22-6l22 2l22 8h22l13 3l31 17l3-10l6-7l13-7l22 2l22 7h44l44-5l22 3l44-3l22 2l22-1l44 2l22-1l43 1l44 5l22 8l22-4l22 5l22-2l22-4l66-3l44-6l22 1l44 8l22-3l13 2l9 1l11 6l11 8l22-6v108l-6-5l-16-20l-8 6l-14 7l-22 7l-22 2l-22 8l-22 10l-22 6l-22-3l-22-6l-22-2l-22-8l-22-13l-22-17l-22-12l-22 22l-22 6l-22 19l-44 3l-22 5l-21 6l-22 4l-22 5l-22-8l-22-13l-22 8l-22-7l-22-9l-44-1l-44 1l-22 7l-22 17l-5 5l-17 7l-19-7l-3-5l-11 5l-33 7l-22 13l-16 15l-6 4h-22l-9-4l-13-8l-22-1l-88 10l-22-9l-44-4l-17-16l-4-7l-10-21l-5-7l-6-7l-2-2l-44-11l-3-1l-6-7l-13-18l-16-17l-3-7v-7l4-14l4-7l5-7l8-7l19-7l23-4l22 3l22-6l22-2l22-1zM502 567l3-7l9 7l6 7l3 7l1 7l-5 7l-14 14l-7-14l-3-7l1-7z"/>
<path fill="#EC6E2A" d="M853 532l4-1l15 1l7 2l9 12l4 7l9 22l10 6l9 7l12 14l8 7v7l-6 7l-11 7l-13 21l-9 11l-4 17l-6 14l-7 14l-5 4l-22 1l-9-5l-7-7l-6-8l-22 1l-44 11l-44 6l-22-10l-30-7l-14-6l-5-15l-8-14l-17-21l-7-14l-3-14l-2-14l1-7l9-21l10-12l22-9l22 2l3-2l19-7l22-3l19 3l25 5l22 13l22-5h22l11-13zM412 539l6-6l6 6l3 7l5 14l4 21v7l-2 14l-5 21l-2 7l-9 10l-8-10l-2-7l-4-14l-3-21v-7l3-21l5-14zM985 546l4-6l10 6l7 7l15 21l12 21v14l-7 14l-10 14l-5 6l-4 8l-18 19l-9-12l-7-14l-5-21l-1-14l7-35l5-14zM1166 546l21-4l22 3l22-4h22l22 3h65l22 4l22 5l7 7l10 21l1 14l-10 35l-3 7l-5 4l-22 1l-22 2l-22 5l-21 7l-22 5l-22 6l-22-9l-22-19l-18 12l-4 2l-22-7l-22-11l-22-2l-12-3l-22-7l-18-7l-12-7l-2-2l-21-5v-7l21-10l11-11l10-7l23-12l22-8l22 4zM1579 546l25-4h22l14 4l30 13l22-6l22 3l12 11l9 21v7l-6 14l-5 7l-10 8l-22 6l-22-2l-44 23l-22 4l-22-3l-22-9l-22-5l-19-8l-25-22l-10-13l-3-7v-7l13-13l22-11l27-4l17-2zM586 567l7-7l8 7l5 7l7 14v7l-2 7l-5 7l-13 6l-11-13l-5-7l-2-7l2-7l3-7zM1756 567l2-1v64l-10-14l-11-21l1-7l4-7l5-7zM1422 581l6-5l4 5l-4 10l-4-3z"/>
<path fill="#E8452B" d="M417 553l1-1v1l5 14l3 14v7l-4 21l-4 13l-5-13l-3-21l1-14zM705 560l20-6l34 13l10 9l3 5l17 35l2 9l5 5l-5 1l-6 13l-9 14l-16 21l-13 14l-22 6l-12-6l-10-19l-12-16l-10-20l-22-12l-2-3l-1-7l3-9l22-4l9-22l6-14zM856 560l1-2l22 9l10 21l4 14l2 14l-1 14l-3 21l-6 21l-6 14l-22 7l-8-14l-5-14l-5-14l-4-23l-11-5l5-7l6-1l4-20l4-14l7-14zM1229 567l2-1l22-4l22 12l22 4h21l22-10l11 13l7 14l-6 7l-12 7l-22 3l-43 18l-22 11l-27-18l-17-21v-7l2-7l10-14zM1600 567l4-2l22-4l9 6l24 21l2 7l-4 7l-7 7l-9 7l-15 10l-22 1l-12-4l-10-5l-12-9l-6-7l-5-7l6-7l9-7zM986 574l3-6l9 13l5 14l1 14l-4 14l-3 7l-8 12l-8-19l-3-14l4-21zM1181 574l6-4l4 4l8 7l6 7l3 7l-1 7l-20 22l-4-1l-9-7l-13-14l-4-7l3-7zM1691 581l1-1l3 1l18 7l-9 7l-12 7l-9-7l-1-7zM1120 588h2l1 7l-2 1l-3-1z"/>
<path fill="#DD252B" d="M720 581l5-5l10 12l4 7l6 14l5 21l-13 28l-12 17l-19-38l-3-7l-1-7v-7l4-14l8-14zM856 595l1-3l22 10l4 14v7l-4 28l-22 7l-5-14l-3-21l1-7l1-7z"/>
<path fill="#CF1A38" d="M724 630l1-4l1 4l-1 2z"/>
</g>
</g>
<rect x="324.8" y="0" width="8.6" height="486.4" fill="#0000ff" fill-opacity="0.3"/>
<rect x="325.6" y="0" width="7" height="486.4" fill="#0000ff" fill-opacity="0.62"/>
<rect x="0" y="0" width="879" height="486.4" fill="none" stroke="#1c1c1c" stroke-width="1.7"/>
<path d="M0 486.4v5.6M0 0v-5.6M109.9 486.4v5.6M109.9 0v-5.6M219.8 486.4v5.6M219.8 0v-5.6M329.6 486.4v5.6M329.6 0v-5.6M439.5 486.4v5.6M439.5 0v-5.6M549.4 486.4v5.6M549.4 0v-5.6M659.2 486.4v5.6M659.2 0v-5.6M769.1 486.4v5.6M769.1 0v-5.6M879 486.4v5.6M879 0v-5.6M0 0h-6.4 M879 0h6.4M0 32.8h-3.4 M879 32.8h3.4M0 52h-3.4 M879 52h3.4M0 65.6h-3.4 M879 65.6h3.4M0 76.1h-3.4 M879 76.1h3.4M0 84.7h-3.4 M879 84.7h3.4M0 92h-3.4 M879 92h3.4M0 98.3h-3.4 M879 98.3h3.4M0 103.9h-3.4 M879 103.9h3.4M0 108.9h-6.4 M879 108.9h6.4M0 141.7h-3.4 M879 141.7h3.4M0 160.9h-3.4 M879 160.9h3.4M0 174.5h-3.4 M879 174.5h3.4M0 185h-3.4 M879 185h3.4M0 193.6h-3.4 M879 193.6h3.4M0 200.9h-3.4 M879 200.9h3.4M0 207.2h-3.4 M879 207.2h3.4M0 212.8h-3.4 M879 212.8h3.4M0 217.8h-6.4 M879 217.8h6.4M0 250.6h-3.4 M879 250.6h3.4M0 269.8h-3.4 M879 269.8h3.4M0 283.4h-3.4 M879 283.4h3.4M0 293.9h-3.4 M879 293.9h3.4M0 302.5h-3.4 M879 302.5h3.4M0 309.8h-3.4 M879 309.8h3.4M0 316.1h-3.4 M879 316.1h3.4M0 321.7h-3.4 M879 321.7h3.4M0 326.7h-6.4 M879 326.7h6.4M0 359.5h-3.4 M879 359.5h3.4M0 378.7h-3.4 M879 378.7h3.4M0 392.3h-3.4 M879 392.3h3.4M0 402.8h-3.4 M879 402.8h3.4M0 411.4h-3.4 M879 411.4h3.4M0 418.7h-3.4 M879 418.7h3.4M0 425h-3.4 M879 425h3.4M0 430.6h-3.4 M879 430.6h3.4M0 435.6h-6.4 M879 435.6h6.4M0 468.4h-3.4 M879 468.4h3.4M0 486.4h-6.4M879 486.4h6.4" stroke="#1c1c1c" stroke-width="1.5" fill="none"/>
<text x="0" y="539.6" font-size="37.5" text-anchor="middle">-30</text>
<text x="109.9" y="539.6" font-size="37.5" text-anchor="middle">-20</text>
<text x="219.8" y="539.6" font-size="37.5" text-anchor="middle">-10</text>
<text x="329.6" y="539.6" font-size="37.5" text-anchor="middle">0</text>
<text x="439.5" y="539.6" font-size="37.5" text-anchor="middle">10</text>
<text x="549.4" y="539.6" font-size="37.5" text-anchor="middle">20</text>
<text x="659.2" y="539.6" font-size="37.5" text-anchor="middle">30</text>
<text x="769.1" y="539.6" font-size="37.5" text-anchor="middle">40</text>
<text x="879" y="539.6" font-size="37.5" text-anchor="middle">50</text>
<text x="-20.5" y="13.6" font-size="37.5" text-anchor="end">0.01</text>
<text x="-20.5" y="122.5" font-size="37.5" text-anchor="end">0.1</text>
<text x="-20.5" y="231.4" font-size="37.5" text-anchor="end">1</text>
<text x="-20.5" y="340.3" font-size="37.5" text-anchor="end">10</text>
<text x="-20.5" y="449.2" font-size="37.5" text-anchor="end">100</text>
<text x="-20.5" y="500" font-size="37.5" text-anchor="end">300</text>
<text x="449" y="-13.6" font-size="41.3" text-anchor="middle">(b) GROMOS-C ozone at Ny-Ålesund</text>
</g>
<g transform="translate(135.1,710.5)" shape-rendering="geometricPrecision">
<clipPath id="cpc"><rect x="0" y="20" width="879" height="466.4"/></clipPath>
<g clip-path="url(#cpc)">
<rect x="-2" y="-2" width="883" height="490.4" fill="#802B70"/>
<g transform="scale(0.5)" fill-rule="evenodd">
<path fill="#673A7E" d="M0 0h1758v948l-44 1l-38 3l-6 1l-44 1l-7-2l-15-2l-22-1l-44 2l-22 3h-22l-22-2l-44 6l-44-3l-37 4l-7 1l-22-2h-43l-33 1l-11 1h-22l-3-1l-19-3l-22-1l-42 4l-24 6l-22 3l-5-2l-17-4l-44-3l-44 3l-37-3h-24l-27 3l-17 4l-18 7h-12l-9-7l-10-3l-22-3l-22 3l-22 1l-22-5l-22-2h-44l-22-3l-22-4l-22-7l-44-1l-22 1h-66l-10 2l-33 8h-22h-22l-110-8l-22 2l-22 4l-22-1l-22-5l-22-1l-22 3h-22l-20-2l-46-3l-44 1z"/>
<path fill="#52477F" d="M0 0h1758v921l-44 4l-44-1l-44 2l-22-1h-44l-44 3l-22 1h-66l-44-1l-44 4l-43-1l-22 1l-44 2l-22 1l-22-3h-22l-44 6l-22 1l-22-1l-22-2h-44l-44 1l-88-3l-44 2l-66-1l-22-2l-22-3l-22-2h-44l-44-8l-22-4l-44 1l-22 2l-66 1l-43 5l-110-1l-44-2h-22l-22 2h-22l-22-3h-22l-22 2l-22 1l-44-2l-22-2l-22 1h-22z"/>
<path fill="#3B5480" d="M0 0h1758v902l-44 4l-22-2l-22-1l-44 2h-66l-66 4h-44l-66-1l-44 4l-43-1l-66 3l-22 1l-22-2h-22l-44 6l-44-1l-22-3l-44 1l-44 2h-22l-66-5l-88 2h-22l-66-6l-44-1l-44-6l-22-5l-22 2h-22l-22 2l-66 2l-43 4l-44-1l-66 1l-44-2h-22l-22 1h-22l-22-2h-22l-22 2l-22 1l-44-2l-22-2l-22 1h-22z"/>
<path fill="#3C6A8E" d="M0 0h1758v277l-44-9l-44 1l-44 3l-22 3l-20 5l-9 7l-3 7l1 7l5 7l4 4l5 3l17 3l44 1l44 3l22 4l44-10v571l-44 5l-22-3l-22-1l-44 2h-66l-88 4h-22l-66-2l-44 4l-43-1l-66 4h-22l-22-1l-22 1l-44 5l-44-2l-22-2l-110 3l-66-5l-44 1l-44 3l-44-1l-44-4l-44-2l-44-7l-22-6l-22 2l-22-1l-22 3l-84 3l-25 2l-44-1l-66 2l-66-3l-22 1l-66-1l-44 3l-44-2l-22-2l-22 1h-22zM110 271l-3 2l-6 7l-1 7v7l4 7l6 6l9-6l6-7l3-7l-5-7l-9-7zM176 289l-6 5l-3 7v7l4 7l5 4l3-4l3-7l1-7l-3-7z"/>
<path fill="#4A81A2" d="M0 0h1758v229h-154l-22 1l-22-3l-11-3l-11-1l-14 1l-8 3l-22 2l-22-4l-16-8l-28-3l-15 3l-12 7l-17 14l-44-13l-22 3l-4 3l-6 7l-17 14l-16 10l-22-5l-11-5l-11-9l-22-2l-12-3l-10-3l-7-4l-15-4l-22-1l-22 1l-15 4l-29 14l-22-8l-22-3l-22 1l-23-4l-43-2l-22-3l-22 1l-22-1l-10-2l-12-1h-44l-10 1l-12 3h-22l-27-3l-39-2l-15 2l-7 3l-22 3l-10 8l-12 5l-11-5l-11-9l-22 7l-22 10l-22-4l-8-4l-14-9l-17-5l-5-3l-22-4l-25 7l-18 11l-44 6l-33-3l-33-1l-19 1l-3 1h-22l-22 3l-22 7l-22-6l-22-5h-6l-16 3h-22l-22 2l-22 4l-8-2l-10-7l-4-8l-35 1l-31 8l-13-8l-9-2zM1053 308l24-5l22 6l22 2l22 7l22 2l22-2l22-5l22 8l16 8l6 1h22l22 2h43l22-1l22-4l40 9h13l13-1l22 1l44 7l22 1l44 7h44h22l44 2l22 6l22-2l22 1v514l-44 5l-22-2h-22l-66 3l-44-1l-66 2l-110-1l-44 4l-43 1l-66 3l-44-1l-22 1l-22 3l-22 2l-44-2l-22-2l-44 1l-66 2l-66-5l-44 1l-44 4h-44l-44-4l-44-1l-44-9l-22-7l-22 2l-22-1l-22 3l-87 3l-22 2l-44-1l-66 2l-66-2h-22l-66-1l-44 3l-22-1h-22l-22-2l-22 1l-22-2v-503l20-8l2-2l22-4l22 7h22l44-5l22 1l44-3h22l22 4l44 3l44 5l44 1l22-3l22-6l22-8l21-5l44 4l22-1l22-7l22-1l22-4l22-14l22-5l22 2l66-7l22 1l44 7h22l44-5l22-1l44 3l22-8l22-3l20 5l24 4l21-4z"/>
<path fill="#5A98B5" d="M0 0h1758v210l-66 2h-66l-22-2h-22l-44-3l-44-1l-66-7l-44 9l-44 1l-22 1l-43 20l-22-5l-22-9l-66-7l-66 2l-22 2l-22-2h-22l-66 4l-44-3l-66-3l-44-1l-44 2l-66-3l-22 3l-22 5l-22 12l-22-13l-22 7l-22 10l-22-7l-22-12l-22-9l-22-3l-22 7l-21 9l-44 10l-66-4l-22 1h-22l-22 4l-22 7l-22-7l-22-4l-44 1l-22 4l-22 7l-14-11l-8-9h-22l-44 2l-22-4zM1048 343l7-1l22-2l22 3l22-1l22 5l22-1l22 1l22-2l22 4l22 6l22-2l43 2l22 2l44-2l22 3l22 2l22-1l22 2l44 4h22l44 4l44 2l22-1l22 2l22 2l22 5l22-2l22 1v478l-44 6l-22-2l-88 5h-22l-22-1l-66 2h-44l-22-1h-44l-44 4l-43 1l-66 3l-44-1l-22 1l-44 5l-44-1l-22-2h-66l-44 2l-66-4l-44-1l-44 5l-22 1h-22l-44-3h-44l-44-13l-22-10l-22 3l-22-2l-22 5l-22 2l-65 1l-22 2l-44-1l-66 2l-154-2l-44 2l-22-1h-22l-22-2l-22 1l-22-2v-459l22-6l22-1l22 2l66-2l22 2l66-2l44 2l22 4l22 2l44 1l22 1l22-2l44-12l21-4h44l15-1l7-1l22-8h22l22-2l22-12l22-6l22-3l22-1l44-5l22 1l22 3l22 1l44-2l44-4l44 2l22-4h22l44 3z"/>
<path fill="#47A1AE" d="M0 0h1758v195l-66 3l-66 1l-22-2h-22l-44-3l-44-1l-66-6l-44 8l-24 1l-42 3l-21 8l-22 10l-22-6l-22-8l-66-5l-22 1h-44l-22 2l-44-1l-44 2l-22 2l-88-6h-22h-22h-22l-44 1l-66-3l-22 3l-22 6l-22 11l-11-6l-11-7l-22 7l-22 10l-22-7l-22-12l-22-9l-22-3l-22 6l-21 9l-44 11l-66-4l-22 1h-22l-22 4l-22 7l-22-7l-22-4l-44 1l-22 4l-22 7l-10-7l-12-13h-22l-44 1l-22-4zM1047 364l30-2l22 3l22-2l22 4l22-2l22 1h22l22 4l22 5l22-3l43 2l22 4l44-2l22 3l22 2l22-1l66 4h22l44 4l44 2l22-1l44 4l22 5l22-2l22 2v443l-22 2l-22 4l-22-2l-44 4l-44 2h-22l-22-2h-22l-44 2l-44 1l-22-1l-44-1l-22 2l-131 6h-66l-22 2l-44 3h-22l-22-2h-66l-44 3l-110-7l-22 2l-22 4l-22 2h-22l-44-3l-44 1l-22-10l-22-8l-22-13l-22 5l-22-4l-22 7l-22 3l-44 2l-21-1l-22 2l-88 1l-22 1l-22 1l-132-3l-44 3l-22-2l-22 1l-22-2l-22 1l-22-4v-424l22-4h110l22 2h22l44-1l44 2l22 3l22 1l66 2l22-2l65-12l44-1l22-3l22-8h22l22-2l22-9l44-9l22 1l44-6l44 2l22-2l44-2l22-4l22-2l44 2l22-1l88-1z"/>
<path fill="#2FADA8" d="M0 0h1758v185l-66 3l-66 1l-22-1h-22l-44-3l-44-1l-66-4l-44 7l-66 4l-43 14l-44-10l-66-6l-22 2h-110l-44 3l-22 3l-22-2l-66-5h-44l-22-1l-44 2l-66-3l-22 3l-22 5l-22 12l-22-13l-22 7l-22 10l-22-7l-22-12l-22-10l-22-2l-22 6l-22 9l-43 11l-66-4l-44 1l-22 4l-22 8l-22-8l-22-4h-44l-22 5l-22 7l-8-6l-14-14l-66 1l-22-4zM855 385l24-3l88 3l22-3l44 1l22-2h22l22 2l22-3l22 5l22-4l22 2h22l22 4l22 5l22-3l43 2l22 3l44-2l22 3l22 1l22-1l88 4l44 4l44 2h22l44 3l22 5l22-1l22 1v413l-22 2l-22 4l-22-2l-44 5h-22l-22 2l-22-1l-22-2h-22l-44 2l-44 1l-66-2l-22 2h-22l-109 6h-66l-44 2l-22 3l-22 1l-22-3l-66-1l-44 4l-88-7l-22-3l-22 1l-22 6l-22 3l-22 1l-44-2h-44l-22-14l-22-10l-22-17l-22 7l-22-7l-22 11l-3 1l-41 5l-22 1l-21-2l-22 2l-66 1h-22l-22 2l-44 1l-22-2h-66l-22-2l-44 3l-22-3l-22 3l-22-2l-22 1l-22-6v-389l22-3l44 1l22-1l44 1l22 2l22 1l44-1l88 5l66 1h22l65-10l44-2l22-3l22-7l44-2l22-8l44-8l22 1l44-6l22 1h22l66-6z"/>
<path fill="#29B69D" d="M0 0h1758v175l-44 3l-88 2l-22-1h-22l-88-3l-66-4l-44 7l-66 4l-43 13l-44-9l-66-6l-22 2h-110l-44 3l-22 5l-22-4l-66-5l-44 1l-22-1l-44 2l-66-4l-22 3l-22 6l-22 12l-22-14l-22 8l-22 9l-22-7l-22-12l-22-9l-22-3l-22 7l-21 8l-44 11l-66-4l-22 1h-22l-22 5l-22 7l-22-7l-22-5l-44 1l-22 4l-22 8l-22-21l-66 1l-22-3zM863 399l16-2l88 3l22-3l44 1l22-2h22l22 2l22-3l22 3l22-3l44 3l44 6l22-2l43 1l22 3l44-1l22 2l44 1l88 4l44 3l88 4l22 2l22 4l22-1l22 2v385l-22 1l-22 5l-22-2l-44 6l-22-1l-22 3l-22-1l-22-3h-22l-44 2h-110l-22 2l-22-1l-22 2l-87 5l-66-1l-44 2l-22 3l-22 1l-22-2l-66-3l-44 5l-66-4l-22-3l-22-6l-22 2l-44 9l-22 2l-66-5h-22l-22-16l-22-11l-10-11l-5-7l-7-13l-22 14l-22-14l-22 15l-22 4l-22 6l-22 2l-21-4l-44 4l-22 4l-22 1l-22-3l-66 3l-22-6h-66l-22-5l-22 2l-22 4l-22-8l-22 8l-22-5l-23 5l-21-14v-339l22-4l44 1l22-1l44 2l22 2l22 1l44-2l66 5l88 2l22-1l65-8l45-1l21-3l22-7l44-2l22-7l22-4l22-5l22 1l44-3l22 1l22-1l22-3l44-4z"/>
<path fill="#56BF7D" d="M0 0h1758v165l-22 1l-22 3l-88 3l-22-2h-44l-22-2h-44l-66-4l-22 4l-22 3l-66 4l-43 13l-22-4l-22-5l-66-6l-22 3l-44-1l-22 1h-44l-22 1l-22 2l-22 7l-22-6l-66-6h-22l-22 1l-22-1l-44 2l-22-1l-22-2l-22-1l-22 3l-22 6l-22 12l-22-13l-22 7l-22 9l-22-6l-22-13l-22-9l-22-3l-22 7l-21 8l-44 12l-66-4l-22 1l-22-1l-22 5l-22 8l-22-8l-22-4h-44l-22 4l-22 8l-22-21l-66 2l-22-5zM1164 406l45 3l44 6l22-3l43 2l22 3l44-2l22 3h44l66 4l22 1l88 6l44 1l22 2l22 4l22-1l22 1v360l-22 1l-22 6l-22-2l-44 7l-22-1l-22 3h-22l-22-3l-22-1l-44 2h-110l-22 2l-22-2l-22 3l-87 5h-110l-22 4l-22 2l-22-2l-66-4l-44 5l-66-4l-22-4l-22-6l-22 1l-44 10l-22 3l-66-10l-22-1l-39-26l-5-4l-11-17l-11-22l-22 9l-22-14l-22 3l-22-5l-22 14l-22 7l-21-6l-44 11l-22 11l-22 5l-19-6l-16-7l-31-18l-22 2l-14-5l-8-2l-22 1h-22l-22-2l-44-6h-22l-22-5h-22l-22-13l-22 11l-16-12l-6-3v-252l13-4l9-2l22 1l44-1l44 1l22 3l22 2l44-4l66 5l110 1l22-2l43-5l66-4l22-6l44-2l22-6l22-3l22-5l22 1l44-1l22 2l44-7l44-6l22-5l22-4l88 3l22-3l44 1l22-2h22l22 2l22-3l22 3z"/>
<path fill="#83C55A" d="M0 0h1758v153l-22 2l-22 3l-88 4l-22-2h-44l-22-1l-44-1l-66-3l-22 4l-22 4l-66 2l-43 13l-44-8l-66-6l-22 3l-22 1l-22-1h-22l-22-1h-22l-22 2l-22 2l-10 5l-12 4l-22-7l-66-7h-22l-22 2l-22-2l-44 2l-22-1l-22-2l-22-1l-44 9l-22 13l-22-14l-22 7l-22 9l-22-6l-22-13l-22-9l-22-3l-22 7l-21 9l-44 11l-66-4l-22 1l-22-1l-22 5l-22 9l-22-8l-22-5h-44l-22 5l-22 8l-22-21l-66 1l-22-5zM878 420l67 2l22 2l22-4l44 1l22-1l22-1l22 2l22-2l22 2l22-3l44 3l22 3l22 4l22-4l43 2l22 3l44-2l22 3h44l66 4h22l44 4l44 2l44 1l22 2l22 4l22-2h22v336l-22 1l-22 7l-22-3l-44 9l-22-1l-22 4l-22-1l-22-3l-22-1l-44 2l-110 1l-22 1l-22-2l-22 4l-87 4h-66l-22 1l-22-1l-22 4l-22 2l-22-2l-66-3l-22 1l-22 3l-66-3l-22-4l-22-7l-22 2l-44 10l-22 3l-66-12l-22-1l-16-12l-16-14l-12-12l-22-38l-22 5l-22-11l-22-3l-22-7l-22 6l-22 4l-21-6l-22 2l-22-4l-22-2l-11 3l-11 7l-22-6l-22-1l-22-3l-22 3l-22-3l-22 2l-22-4l-44-4l-22-5l-22-2l-22-1l-22-4l-22-11l-22 9l-22-9v-198l22-8l22 3l22-1l22-2l22 2h22l22 4l22 3l44-6l66 4h110l44-5l21-4l66-3l22-8l44 2l22-8l22-2l22-6l22 3h44l22 4l44-11l44-7z"/>
<path fill="#A4C643" d="M0 0h1758v143l-44 4l-88 5l-22-2l-44 1l-88-2l-44-3l-22 5l-22 3h-22l-44 4l-19 3l-24 6l-22-2l-22-4l-66-4l-22 2h-22l-22-1l-22 1l-44-1l-44 3l-22 12l-22-10l-66-6l-44 2l-22-2l-44 2l-66-4l-22 3l-22 6l-22 12l-14-8l-8-5l-22 7l-22 9l-22-6l-22-14l-22-8l-22-4l-22 7l-21 9l-44 11h-22l-44-3l-22 1l-22-1l-22 4l-22 9l-22-8l-22-4h-44l-22 4l-22 8l-12-9l-10-12l-66 2l-22-5zM873 434l6-2l22 1l66 3l22-3l44 1l22-2h22l22 1l22-2l22 3l22-4l44 4l22 2l22 4l22-3l43 2l22 2l44-1l22 2l44 1l22 2l44 2l22-1l44 4l22 1l22 1h44l22 2l22 4l22-3h22v311l-22 1l-22 7l-22-4l-22 5l-22 7l-22-2l-22 5l-22-1l-22-3l-22-2l-22 1l-22 2l-22 1l-44-1l-22 1h-22l-22 2l-22-3l-22 4l-43 3h-22l-22 2h-66l-22 1l-22-1l-22 4l-22 1l-44-2h-22l-22-2l-44 6l-44-3h-22l-22-6l-22-8l-22 4l-22 6l-22 4l-22 3l-66-13l-22-2l-15-13l-19-21l-10-13l-9-15l-13-17l-22 3l-22-11l-22-8l-22-11l-44 7l-21-5l-22 1l-22-6l-22-4l-22 2h-22l-22 2l-22-3h-22l-66-13l-44 3l-22-4l-22-3l-22 3l-22-6l-22-11l-22 12l-22-8v-143l22-11l22 5l44-7l22 3l22-1l44 9l44-10l66 7l22-2l22 1l66-2l44-6l21-4l66-4l22-8l44 2l22-7l22-3l22-6l22 3l44 2l22 4l44-13l44-9z"/>
<path fill="#C4C43A" d="M0 0h1758v135l-22 2l-22 2l-88 5l-22-1l-44 1l-132-3l-44 6l-66 5l-43 8l-44-5l-66-4l-22 1h-22h-22h-66l-44 3l-17 6l-5 3l-6-3l-16-5l-66-5l-44 1l-22-1l-44 1l-66-2l-22 2l-22 6l-22 12l-22-13l-22 7l-22 9l-22-7l-22-12l-22-9l-22-3l-22 6l-21 9l-44 12l-22-1l-44-3h-44l-22 5l-22 8l-22-8l-22-5l-44 1l-22 4l-22 8l-12-10l-10-11l-66 1l-22-3zM869 448l10-3l66 3l22 2l22-4l22 2h22l22-3l22-1l22 1l22-1l22 2l22-3l54 5l34 6l22-4l22 1l21 1l22 2l44-2l22 3l22-1l22 1l22 3l22 1l22 1l22-1l44 4h22l22 1h44l22 2l22 5l22-4h22v284h-22l-22 7l-22-4l-22 5l-22 7l-22-2l-22 6l-22-1l-22-4l-22-2l-22 1l-22 2l-22 1l-44-1l-22 2l-22 1l-22 2l-22-4l-22 6l-43 4l-22-1l-22 2h-22l-22 1l-22-1l-22 2l-22-2l-22 3l-22 2l-44-2h-22l-22-2l-44 7l-22-2l-44-1l-22-6l-22-9l-22 5l-22 8l-22 4l-22 3l-44-9l-22-7l-22-1l-14-15l-8-12l-22-26l-22-30l-22 1l-22-13l-44-22l-44 6l-21-6l-22 1l-44-15l-22 2h-22l-22 3l-22-7l-44-6l-33-9l-11-5l-22 1l-7 4l-15 4l-24-4l-20-5l-9 5l-13 4l-22-9l-22-11l-22 16l-14-7l-8-7v-71l12-13l10-5l10 5l12 13l21-13l23-10l22 6l17-3l27-3l7 3l9 7l6 10l22-8l17-9l5-1h22l22 2h22l22-4l66-4l22 1l22-2l22-3l21-6l66-4l22-11l22 1l22 3l22-9l22-2l22-7l22 3l44 3l22 4l44-13l44-11z"/>
<path fill="#E0C233" d="M0 0h1758v128l-22 2l-22 3l-88 5l-22-1l-44 1l-132-2l-44 6l-66 4l-43 8l-44-4l-66-5l-22 2h-22l-22-1h-66l-44 3l-22 7l-22-5l-66-6l-44 2l-22-1l-44 1l-66-3l-22 3l-22 5l-22 13l-22-14l-44 17l-22-7l-22-13l-22-9l-22-3l-22 7l-21 8l-44 12h-22l-44-4l-44 1l-22 5l-22 8l-22-8l-22-5h-44l-22 5l-22 8l-22-21h-66l-22-3zM873 462l6-2l22 1l44 2l22 3l22-5l22 4l22-1l22-4l22-2l22 2l22-1l22 1l22-3l22 1l44 7l22 4l22-4l22 2h21l22 1l44-1l22 3l22-1l22 1l22 3l22 2h22l22-2l44 4h22l22 2l22 1l22-2l22 3l22 6l22-5l22-1v250h-22l-22 7l-22-5l-22 7l-22 8l-22-3l-22 8l-22-2l-22-5l-22-3h-22l-22 3l-22 2l-22-1l-22-3l-66 10l-22-5l-22 8l-21 4l-22 1l-22-1l-22 2h-22l-22 1h-22l-22 3l-22-4l-44 5l-44-2l-22 1l-22-2l-44 9l-22-3l-44-1l-22-7l-16-7l-6-5l-11 5l-11 3l-22 10l-22 5l-22 3l-66-18l-22-1l-7-9l-15-22l-22-26l-22-36l-22 3l-44-28l-7-3l-15-10h-22l-22 4l-21-13l-22 1l-22-11l-22-6l-22-1l-22-4l-22-5l-17-18l1-7l3-7l4-7l9-9l12-5l20-7l12-2l22-2l22 2l44 1l21-7l22 3l44-1l22-17l22 1l22 4l14-10l8-5l22-3l22-8l22 3l22 3l22 2l22 4l44-8l22-2l22-6l6-8l14-7zM18 567l4-4l8 4l10 7l-9 7l-9 5l-4-5l-4-7zM63 567l3-1h22l5 8l-5 7l-22 2l-5-2l-12-7z"/>
<path fill="#EDB130" d="M0 0h1758v121l-22 2l-22 3l-88 5l-66 1l-88-1l-44-1l-44 6l-66 5l-43 7l-110-8l-22 2h-22l-22-1h-66l-44 3l-22 5l-22-4l-66-5l-44 2l-22-1l-44 1l-66-3l-22 3l-22 5l-22 12l-22-13l-44 17l-22-7l-22-13l-22-9l-22-3l-22 6l-21 9l-44 12l-22-1l-44-3h-44l-22 5l-22 8l-22-8l-22-4h-44l-22 4l-22 8l-22-21l-66 1l-22-3zM1069 476l8-1l22 1h44l22-3l22 1l22 4l22 3l22 5l22-4l22 3l87-2l22 4l22-2l22 2l22 4l22 2l22-1l22-3l22 1l22 3h22l44 4l22-1l22 3l22 9l22-7h22v205l-22-5l-12 6l-10 2l-7-2l-15-15l-19 15l-25 11l-22-4l-22 14l-22-5l-22-9l-22-4l-22-1l-19 5l-25 4l-22-1l-22-4l-22 5l-22 7l-22 5l-22-5l-22 12l-21 6h-22l-22-2l-22 4h-22l-22 4h-22l-22 5l-22-5l-44 3h-44l-22 1l-22-1l-44 8l-22-4h-22h-22l-22-10l-14-11l-8-9l-22 13l-13 10l-9 6l-22 4l-22 3l-66-17l-22-1l-11-16l-11-19l-22-28l-15-30l-7-11l-22 4l-22-12l-9-9l-6-7l-7-12l-16-16l-5-7l6-7l15-10l8-11l14-15l22-3l22 4l22-19l22-5l22-10l44 8l44 3l22-1l22 1l22 5l22 4l8-14l11-14l8-7l17-11l44 1l44 3l22-4l22 5l22-1l22-5z"/>
<path fill="#F0A12C" d="M0 0h1758v114l-22 2l-22 3l-88 6l-66 1l-44-1l-44 1l-44-1l-44 6l-66 5l-43 7l-110-8l-22 1h-22l-22-1h-66l-44 3l-22 4l-22-2l-66-5l-44 1l-22-1l-44 1l-66-3l-22 3l-22 6l-22 12l-22-13l-44 16l-22-7l-22-13l-22-9l-22-3l-22 7l-21 8l-44 12h-22l-44-3l-22 1l-22-1l-22 5l-22 8l-22-8l-22-5l-44 1l-22 4l-22 8l-17-15l-5-7l-66 2l-22-4zM1074 490l47 1l44-2h22l22 5l22 2l22 6l22-1l22 3l65-2h22l7 2l15 6l22-2h22l19 3l25 6l44-11l22 1l22 2h22l17 2l5 1l19 6l3 2l22 1l24 11l6 7l8 21l6 13l7-13l9-21l6-7l22-1v96l-12-4l-13-7l-13-14l-6-11l-7 11l-15 8l-6 6l-9 7l-29 14l-15 14l-7 5l-22 11l-22-5l-44-2l-22-5l-22-3l-22 5l-22-1l-22-7l-22 1l-22 23l-22 10l-22-7l-22 36l-2 2l-19 6h-22l-22-3l-22 7l-22 1l-22 7l-22 2l-22 6l-22-6l-88 4h-44l-44 8l-22-4l-22-1l-22 1l-20-14l-6-7l-5-7l-11-14l-2-6l-4 6l-18 11l-13 17l-9 8l-22 6l-22 3l-66-16h-22l-12-22l-10-22l-9-13l-20-35l-15-23l-22 6l-22-16l-1-2l-5-7l-2-7v-7l8-15l12-6l10-3l18 3l4 2l22-20l22-6l22-13l22 5l22 2h44l22 1l6 1l16 4l7 3l25 14l12 9l11-16l7-14l6-14l12-14l8-7h44l44 1l22-3l22 6l22-1l22-6z"/>
<path fill="#F29329" d="M0 0h1758v107l-22 2l-22 4l-44 2l-44 4l-66 1l-44-1l-44 1l-44-1l-22 4l-22 3l-66 4l-43 7l-110-8l-22 2h-22l-22-1h-66l-48 3l-18 2l-88-6l-44 2l-22-1l-44 1l-66-3l-22 3l-22 5l-22 13l-22-14l-44 17l-22-7l-22-13l-22-9l-22-3l-22 6l-21 9l-44 12h-22l-44-4l-22 1h-22l-22 4l-22 9l-22-8l-22-5h-44l-22 5l-22 8l-12-10l-7-7l-3-5l-66 1l-22-3zM1057 511l20-6l44 3l22-2l22 1l22-2l19 6l25 9l3 5l3 7v7l-5 21v7v7l5 14l10 21l-1 7l-10 28l-5 11l-10 10l-12 10l-12 18l-10 13l-22 6l-2 2l-20 10l-8-3l-14-7l-22-4l-12 4l-10 1l-22 4l-22 3l-22-3l-22 1l-22 6l-22 5l-22-6l-22-2l-22 1l-3-3l-24-70l-6-14v-7l2-14l4-14l9-28l8-21l9-35l67-3h22l22-3l8 6l5 7l5 14l4 16l22-1l4-15l7-14l5-7zM710 546l37-5l22 3l21 9l6 7l5 7l3 7l6 21l3 17l4 11l1 7v7l-5 6l-10 36l-8 21l-4 5l-22 12l-22 4l-30-7l-36-6l-22 2l-16-38l-6-24l-7-11l-15-19l-8-23l-2-7l10-22l22-7l22-13l22 2l22-1zM1538 553l22-6l22 6l22-4l22 4l8 14l2 14l-1 7l-9 16l-22 10l-22-4l-22 2l-22-5l-10-12l-4-7v-7l2-7z"/>
<path fill="#EC6E2A" d="M0 0h1758v102l-22 2l-44 5l-132 6l-132 1l-66 7l-44 3l-21 4l-22 2l-44-2l-37-4l-29-1l-44 1l-88-1l-22 1l-44 4l-88-5l-110 1l-66-2l-22 2l-22 6l-22 12l-22-13l-44 16l-22-7l-15-7l-7-5l-22-10l-22-2l-43 14l-44 12h-22l-22-2l-66-1l-22 5l-22 8l-22-8l-22-5h-44l-22 5l-22 8l-16-12l-6-9l-66 1l-22-3zM1076 539l1-1l11 8l6 7l5 9l22 14l3-9l5-7l14-14l6 7l5 7l6 14l5 14l22 3l6 18l-1 7l-5 19l-22 8l-12 22l-10 16l-9-16l-13-32l-19-17l-3-4l-12 4l-10 2l-3-2l-5-7l-6-21l-2-14v-7l1-7l3-7l4-7zM740 553l7-1l8 1l14 5l7 9l4 7l6 14l7 28v14l-1 7l-2 7l-10 21l-11 15l-22 6l-44-9l-22-1l-22 5l-3-9l-12-49l1-35l4-7l10-9l22 4l22 1l23-17zM947 553l20-2l6 2l12 7l4 4l5 17l6 35l-2 14l-3 14l-11 28l-4 7l-4 7l-9 9l-22 9l-12-11l-10-12l-11-9l-6-7l-21-28l-6-11l-1-3l1-8l9-13l7-7l14-14l14-10l11-11l11-7z"/>
<path fill="#E8452B" d="M0 0h1758v98l-44 5l-88 6l-66 2l-132 1l-22 4l-88 7l-43 7l-88-7h-22h-132l-66 3l-88-4l-44 1h-66l-66-1l-22 1l-22 6l-22 11l-14-7l-8-5l-44 16l-22-7l-10-4l-12-8l-22-9l-22-3l-87 26h-22l-44-3l-44 1l-22 4l-22 8l-22-8l-22-5l-44 1l-22 4l-22 8l-12-9l-5-7l-5-5h-66l-22-2zM740 581l7-5l22 14l5 12l3 14l-2 14l-3 7l-3 6l-22 11l-7-3l-10-7l-6-7l-5-7l-2-7l-1-7l6-14l11-14zM962 581l5-1l1 1l5 7l3 7l4 14l1 7l-1 14l-7 21l-6 12l-22 7l-9-12l-6-14l-3-14v-7v-7l5-14l4-7l9-11zM658 623l1-5l4 5v7l-4 3z"/>
<path fill="#DD252B" d="M0 0h1758v95l-44 5l-88 7l-66 2l-132 1l-22 3l-88 8l-43 6l-88-6l-22-1h-132l-66 4l-22-1l-66-4l-44 1l-66 1l-66-2l-22 2l-22 6l-22 11l-10-5l-12-8l-44 17l-22-7l-22-12l-22-10l-22-3l-87 27l-22-1l-44-2h-44l-22 4l-22 8l-22-8l-22-4h-44l-22 4l-22 8l-9-6l-5-7l-8-8h-66l-22-2zM747 616v-2l1 2l-1 1z"/>
<path fill="#CF1A38" d="M0 0h1758v92l-44 5l-88 7l-66 2l-132 1l-44 6l-66 6l-43 5l-88-6h-22h-132l-66 3h-22l-66-4l-110 1l-66-1l-22 1l-22 6l-22 12l-22-13l-28 10l-16 7l-22-8l-22-12l-19-8l-25-4l-87 26h-22l-44-3h-44l-22 5l-22 8l-22-8l-22-5l-44 1l-22 4l-22 8l-5-4l-12-14l-5-3h-66l-22-2z"/>
<path fill="#C01043" d="M0 0h1758v88l-44 6l-88 7l-66 2l-132 2l-62 7l-48 4l-43 6l-88-7h-22h-132l-66 4l-22-1l-66-4l-44 1l-66 1l-66-2l-22 2l-22 6l-22 11l-11-7l-11-5l-44 16l-22-7l-18-11l-26-11l-22-2l-87 26l-22-1l-44-2h-44l-22 5l-22 7l-22-7l-22-5h-44l-22 5l-22 7l-2-1l-10-14l-10-5h-66l-22-2z"/>
<path fill="#A81552" d="M0 0h1758v85l-22 1l-22 5l-44 2l-44 5l-154 3h-44l-22 4l-44 4l-22 3l-22 1l-43 7l-66-6l-44-2l-44 1l-88-1l-88 3l-66-3l-44 1h-66l-66-2l-22 2l-22 6l-22 11l-6-4l-16-8l-44 16l-22-7l-12-8l-14-7l-18-6l-22-4l-87 26h-22l-44-2l-44 1l-22 3l-22 9l-22-9l-22-4l-44 1l-22 3l-22 8l-4-5l-4-7l-14-9l-66 1l-22-3z"/>
</g>
</g>
<rect x="324.8" y="0" width="8.6" height="486.4" fill="#0000ff" fill-opacity="0.3"/>
<rect x="325.6" y="0" width="7" height="486.4" fill="#0000ff" fill-opacity="0.62"/>
<rect x="0" y="0" width="879" height="486.4" fill="none" stroke="#1c1c1c" stroke-width="1.7"/>
<path d="M0 486.4v5.6M0 0v-5.6M109.9 486.4v5.6M109.9 0v-5.6M219.8 486.4v5.6M219.8 0v-5.6M329.6 486.4v5.6M329.6 0v-5.6M439.5 486.4v5.6M439.5 0v-5.6M549.4 486.4v5.6M549.4 0v-5.6M659.2 486.4v5.6M659.2 0v-5.6M769.1 486.4v5.6M769.1 0v-5.6M879 486.4v5.6M879 0v-5.6M0 0h-6.4 M879 0h6.4M0 32.8h-3.4 M879 32.8h3.4M0 52h-3.4 M879 52h3.4M0 65.6h-3.4 M879 65.6h3.4M0 76.1h-3.4 M879 76.1h3.4M0 84.7h-3.4 M879 84.7h3.4M0 92h-3.4 M879 92h3.4M0 98.3h-3.4 M879 98.3h3.4M0 103.9h-3.4 M879 103.9h3.4M0 108.9h-6.4 M879 108.9h6.4M0 141.7h-3.4 M879 141.7h3.4M0 160.9h-3.4 M879 160.9h3.4M0 174.5h-3.4 M879 174.5h3.4M0 185h-3.4 M879 185h3.4M0 193.6h-3.4 M879 193.6h3.4M0 200.9h-3.4 M879 200.9h3.4M0 207.2h-3.4 M879 207.2h3.4M0 212.8h-3.4 M879 212.8h3.4M0 217.8h-6.4 M879 217.8h6.4M0 250.6h-3.4 M879 250.6h3.4M0 269.8h-3.4 M879 269.8h3.4M0 283.4h-3.4 M879 283.4h3.4M0 293.9h-3.4 M879 293.9h3.4M0 302.5h-3.4 M879 302.5h3.4M0 309.8h-3.4 M879 309.8h3.4M0 316.1h-3.4 M879 316.1h3.4M0 321.7h-3.4 M879 321.7h3.4M0 326.7h-6.4 M879 326.7h6.4M0 359.5h-3.4 M879 359.5h3.4M0 378.7h-3.4 M879 378.7h3.4M0 392.3h-3.4 M879 392.3h3.4M0 402.8h-3.4 M879 402.8h3.4M0 411.4h-3.4 M879 411.4h3.4M0 418.7h-3.4 M879 418.7h3.4M0 425h-3.4 M879 425h3.4M0 430.6h-3.4 M879 430.6h3.4M0 435.6h-6.4 M879 435.6h6.4M0 468.4h-3.4 M879 468.4h3.4M0 486.4h-6.4M879 486.4h6.4" stroke="#1c1c1c" stroke-width="1.5" fill="none"/>
<text x="0" y="539.6" font-size="37.5" text-anchor="middle">-30</text>
<text x="109.9" y="539.6" font-size="37.5" text-anchor="middle">-20</text>
<text x="219.8" y="539.6" font-size="37.5" text-anchor="middle">-10</text>
<text x="329.6" y="539.6" font-size="37.5" text-anchor="middle">0</text>
<text x="439.5" y="539.6" font-size="37.5" text-anchor="middle">10</text>
<text x="549.4" y="539.6" font-size="37.5" text-anchor="middle">20</text>
<text x="659.2" y="539.6" font-size="37.5" text-anchor="middle">30</text>
<text x="769.1" y="539.6" font-size="37.5" text-anchor="middle">40</text>
<text x="879" y="539.6" font-size="37.5" text-anchor="middle">50</text>
<text x="-20.5" y="13.6" font-size="37.5" text-anchor="end">0.01</text>
<text x="-20.5" y="122.5" font-size="37.5" text-anchor="end">0.1</text>
<text x="-20.5" y="231.4" font-size="37.5" text-anchor="end">1</text>
<text x="-20.5" y="340.3" font-size="37.5" text-anchor="end">10</text>
<text x="-20.5" y="449.2" font-size="37.5" text-anchor="end">100</text>
<text x="-20.5" y="500" font-size="37.5" text-anchor="end">300</text>
<text x="449" y="-13.6" font-size="41.3" text-anchor="middle">(c) MERRA-2 ozone at Ny-Ålesund</text>
<text transform="translate(-105,247.6) rotate(-90)" font-size="40.8" text-anchor="middle">Pressure [hPa]</text>
</g>
<g transform="translate(1168.3,710.5)" shape-rendering="geometricPrecision">
<clipPath id="cpd"><rect x="0" y="20" width="879" height="466.4"/></clipPath>
<g clip-path="url(#cpd)">
<rect x="-2" y="-2" width="883" height="490.4" fill="#802B70"/>
<g transform="scale(0.5)" fill-rule="evenodd">
<path fill="#673A7E" d="M0 0h1629l-2 42l1 35l2 7l4 7l14 18l18 17l4 1l44-11l22 7l17 10l5 5v822h-44l-44-6l-44 4l-44-3l-22 1l-22-1l-22-4h-22l-66 4l-44-2l-22-3l-22-1l-27 3l-16 3h-66l-38-3l-28-1l-22 2l-22 1l-22-2l-44-1l-31 1l-13 1l-44-1l-44 7l-44-8l-44 5l-44-2l-22-1l-22 1l-22 4h-22l-44-6l-22-5l-44-6l-44-4l-131 9l-88-2l-22-3l-22-2l-22 1l-22 3l-22 6l-22-1l-22-5l-22-1l-22 2l-44-2l-29 3l-15 3l-44-7z"/>
<path fill="#52477F" d="M0 0h1549l-18 35l-13 21l-11 14l-13 13l-4 8l-10 21l-16 35l-1 7l3 35l2 7l5 7l7 7l14 11l22 7l66 15l22-4l22-6l22 4l22 11l88 6v676h-44l-44-3l-44 1l-44-3l-22 2h-22l-22-1h-22l-66 3l-44-2l-22-3l-22-1l-65 5l-22 1l-22-1l-22-2l-44-1l-22 1h-22l-22-2h-22l-44 3l-66 1l-44 3l-44-3l-44 1l-66-2h-44l-66-6l-22-3l-88-5l-88 4l-21 2l-44 1h-66l-44-3h-22l-22 1l-22 3l-22-1l-22-3h-22l-22 2l-44-2l-44 2l-44-3z"/>
<path fill="#3B5480" d="M0 0h1485l-17 42l-9 14l-13 14l-16 14l-2 2l-17 12l-27 12l-44 10l-22 12l-21 7l-19 8l-13 14l-12 9l-44 5l-26 7l-18 9l-14 12l-8 6l-22 9l-22 5l-22 14l-19 8l-25 5l-26 2l4 2l66 16l22 10l22 4l44 13h22l22 3l22 2l22 1l22 1l22 3h21l22 3l19-2l25-7l44 1l22 2l44-2l22 2l22 5l66 5l22 3l22-1l66-1l22-2l22-3v597l-44 1l-44-3l-44 1l-44-4l-44 3h-66l-44 2l-44-2l-22-3l-22-1l-43 2l-22 3h-22l-22-3l-22-5l-44-3l-22 4l-22 2h-44l-44 4h-44l-44 3l-66-1l-44 1l-110-2l-66-9l-22-2h-66l-22-2l-88 4l-21 2l-88 1h-22l-66-3h-22l-22 3h-22l-22-3h-22l-22 2l-44-2l-44 1l-44-3z"/>
<path fill="#3C6A8E" d="M0 0h1447l-14 28l-8 14l-7 7l-12 6l-22 7l-30 8l-8 7l-10 7l-16 7l-45 11l-6 3l-16 11l-8 3l-23 7l-41 7l-16 4l-22 11l-22 7l-22 3l-9 3l-31 14l-26 7l-22 1l-22 3l-66 20l-29 4l-37 9l-22 2l-22-2h-22l-22 6l-22 4l-25 2l-41 10l-22 2l-22-1l-30 3l-33 7l-25 8h-22l-22-1l-34 7l-10 4l-43-1l-22-1l-22 2l-22 6l-22 5l-44 13l-22-2l-22-6l-14 1h-8l-44 10l-22 3l-22-5l-22 6l13 7l9 3l15-3l7-3l8 3l34 7l24 3l22 1l22-8l22-3l27 14l17 3h22l22-2h22l22-2l43 2l22 3l22-1l36 4l30 2l44 1l22 2l8 2l14 2l26-2l18-7l22 7l22 2l23-2l21-4l10 4l34 5l34-5l10-3l10 3l34 4l30-4l14-3l22 6l22 4l22 3l22-1l22-2l44 3l44 6l22-1l44 3l66 1l21-2h66l44-2l22 2l22 1l22-2h22l22 3l44 3l44 2l22-1l22 3l44-3l22 1l22-1v530l-44 1l-44-2h-44l-44-3l-44 2l-110 2l-44-1l-22-2l-22-1l-43 1l-22 2h-22l-44-6l-44-2l-22 2l-22 2l-44 1l-44 2l-44 1l-44 3l-44 1h-110l-66-2l-66-11l-22-1h-22l-22-2h-44l-88 3l-21 2l-44 1l-66 1l-66-2h-22l-22 3l-22-1l-22-2l-44 1l-66-2l-22 1l-44-2z"/>
<path fill="#4A81A2" d="M0 0h1410l-15 28l-9 14l-13 7l-33 10l-43 20l-62 19l-38 14l-54 13l-110 29l-44 8l-44 4l-44 7l-13 2l-31 8l-22 2l-44 2l-37 9l-29 5l-44 11l-22 3l-22-1l-44 2l-22 3l-22 3l-44-1l-44 4l-43 2l-22-1l-22 1l-22 6l-22 4l-44 4l-44-3l-22 1l-44 4h-22l-22-3h-66l-44 8l-22 13zM0 350v-6l22 3l22-2l22 5l66 6l22-2l22 1l44-2l22 1l22-2l22 1l44 3h22l22-2l44 2l43-2l22 1h22l88 4l22 3l44 3l22-1l22-4l22 4l22 1l44-2l44 3l44-3l44 6l44-1l44 2l22 3l44-2l66 4l22 4l22-1l44 4l66 1l21-2h22l44 4l44-1l22 1l22 1l44-1l66 5h66l22 4l44-2l22 3l22 1v480h-44l-132-3l-154 2l-88-3l-43 1l-22 2h-22l-44-6l-44-2l-22 3l-44 2l-110 3l-44 3l-66 2h-88l-66-3l-66-13l-22-2h-22l-22-2l-132 3l-21 2l-44 2l-132-1h-22l-22 2h-22l-22-1l-44 1l-66-2l-22 1l-44-1z"/>
<path fill="#5A98B5" d="M0 0h1376l-14 23l-13 19l-31 13l-37 15l-72 22l-44 12l-110 28l-22 4l-44 8l-44 3l-44 5l-22 3l-22 6l-22 3l-44 5l-65 13l-45 10l-22 4h-22l-44 1l-44 4h-44l-57 2l-30 4l-22-1l-22 2l-44 5l-44 3l-110 1l-44-1l-66 1l-22 2l-22 1l-22 3zM255 378l9-1l44 3h22l22-1l22-2l44 4l43-4l22 1l22-1l22 1l66 3l22 5l22 1l22 1l22-2l22-4l22 4l22 1l44-2l44 3l44-2l44 5l44-1h44l22 3l44-1l66 3l22 4l22-1l22 3l22 1l66 1l21-2h22l44 5l44-2l44 3h44l66 3l66 1l22 4l44-1l22 3l22 1v445l-22-1l-22 2l-66-3l-44 1l-22-1l-154 1l-44-1l-22-2h-22l-43 1l-22 2h-22l-44-6l-44-2l-22 3l-44 3l-110 2l-22 2l-44 1l-44 2h-88l-66-2l-66-17l-22-2h-22l-22-4l-66 3h-66l-21 3l-22 1l-154 1h-22l-22 3h-22l-22-1h-88l-22-1l-22 1l-44-1v-469h22l22-3l44-1l44 4l22-2l22 1l44-3l22 1z"/>
<path fill="#47A1AE" d="M0 0h1342l-15 28l-5 7l-6 7l-16 7l-25 10l-66 20l-72 19l-38 9l-44 12l-22 5l-44 6l-110 9l-26 8l-18 3l-44 6l-23 5l-38 7l-27 7l-22 4l-22 3l-66 2l-44 4l-44 1l-44 1l-43 5l-44 2l-22 3l-66 5l-88 3h-132l-44 1l-22 2zM459 399l24 1l22-2h44l44 2l22 6l22 2h22l44-6l22 4l22 1l22-2h22l22 2h22h44l44 4l88-1l22 3l44-1l66 3l22 3l22-1l22 3l22 1l66 1l21-2l22 1l44 4h44l44 1h44l132 4l22 4h44l22 4h22v409h-22l-22 2l-66-3l-44 1l-44-1l-88 2l-88-2l-22-1h-44h-21l-22 2h-22l-44-6l-44-2l-22 3l-22 1l-22 2h-44l-22 1l-44 1l-22 3l-22 1h-22l-44 4l-44-2l-44 1l-44-2h-22l-22-7l-22-9l-22-6l-22-2l-22-1l-22-6l-44 4h-88l-21 3l-22 2h-44l-44-2l-44 1l-44 1l-44 4l-44-2l-22-1h-22l-22 2l-22-2l-22 1l-22-1l-22 1v-423l22-1l22-3l44-3l44 4l22-2l22 1l44-2h22l22-1l44 2l44-1l22-3l44 5z"/>
<path fill="#2FADA8" d="M0 0h1321l-10 14l-12 14l-9 7l-13 7l-37 14l-31 11l-88 24l-88 22l-34 6l-10 2l-110 9l-44 10l-66 12l-110 22l-66 2l-44 4l-88 2l-43 4l-44 2l-44 6l-66 5l-66 2l-132 1l-66 2zM455 420l6-1l22 1l22-2l44-1l44 2l22 4l22 2h22l44-5l22 3l22 1l22-1h22l22 2h22l44-1l22 3l22 1l22-1l66 1l22 3l44-2l66 3l22 3l22-1l22 3l88 2l21-1l22 1l44 3h44l44 2l176 3l22 3l44 3l22 3l22 1v375h-22l-22 2h-22l-44-3l-44 2l-44-2l-88 2l-110-3h-65l-22 2h-22l-44-6l-44-3l-22 3l-22 1l-22 3l-44-1l-22 2l-44 1l-22 3l-22 1h-22l-44 4l-44-2l-44 1l-44-2h-22l-22-8l-22-10l-22-7l-22-3l-22-1l-22-7l-44 4l-44-1l-44 1l-43 5l-44-1l-44-4l-44 3l-44 1l-44 4l-44-1l-22-4h-22l-22 3l-22-3h-22l-22-2l-22 2v-378h44l44-6l44 2l22-2h44l22-1h22l22-1l44 2l44-1l22-3l44 4z"/>
<path fill="#29B69D" d="M0 0h1299l-8 7l-20 14l-21 14l-13 7l-35 14l-103 32l-110 24l-110 10l-132 26l-88 19l-66 2l-44 3l-88 3l-43 4l-22 1l-22 1l-88 10l-66 3l-154 2l-66 2zM198 441l22-1l22 1l22-1l22 1h22l44-1l22-2l44 3l22-2l21-2h22l22-1l44-1l44 1l22 3l22 1l22-1l44-4l22 3l22 1l22-1l66 3l44-1l44 3l44-1l44 1l22 3l44-2l88 5h22l22 2l109 2l66 4l264 5l88 8l22 1v348h-22l-22 2l-22-1l-44-3l-44 1l-44-2l-66 1l-22 1l-44-2l-88 1l-43-2l-22 2h-22l-44-5l-44-3l-22 3h-22l-22 4h-22l-22-2l-22 2h-22l-22 1l-22 3l-22 2l-22-1l-22 3l-22 1l-44-2l-44 1l-44-2h-22l-22-8l-22-10l-22-8l-22-4l-22-2l-22-9l-44 2h-22l-66 1l-43 3h-44l-44-6l-22 1l-44 4h-22l-44 3l-44-2l-22-4h-22l-22 3l-22-3l-22 1l-22-3l-22 2v-337l22 1l22 3l22-6l22-2l44 1l22-2z"/>
<path fill="#56BF7D" d="M0 0h1266l-51 35l-13 7l-103 36l-110 24l-66 8l-44 4l-132 26l-22 5l-66 14l-66 2l-44 4l-88 3l-43 4h-22l-22 1l-88 10l-66 5h-88l-44 1h-22l-44 1l-22 2zM75 455l13-2l44 1l22-2l66-1l22 1l22-1l22 2l66-1l22-1l44 2h22l21-3l22 1l66-2l44 1l22 2l22 1l66-5l22 3l22 1l22-1l66 2l44-1l34 3l76 1h22l22 2l44-2l88 4h22l22 2l109 2l66 3l264 6l88 8l22 1v323h-22l-22 3l-44-2l-22-3l-44 3l-22-1l-22-3h-66l-22 2l-44-3l-88 2l-43-1l-22 2l-22-1l-44-4l-44-3l-22 3h-22l-22 4h-22l-22-2l-22 2l-44 1l-22 4l-22 1l-22-1l-44 4l-44-2l-44 2l-66-3l-22-7l-22-11l-20-7l-24-6l-22-4l-22-10l-66 1l-87 3h-66l-44-5h-22l-44 4h-44l-22 1l-44-1l-22-3h-22l-22 1l-22-2l-22 1l-22-3l-22 1v-305l22 2l22 5l22-8z"/>
<path fill="#83C55A" d="M0 0h1231l-22 17l-28 18l-14 7l-24 10l-44 15l-44 12l-44 8l-22 5l-66 10l-44 5l-71 12l-149 30l-66 2l-44 5l-88 3l-43 6l-22-1l-22 2l-22 2l-66 7l-66 4h-88l-44 2l-22-1l-22 1h-22l-22 2zM680 462l23-1l22 2h22l22-1l66 3l44-2l22 2l66 1l44 1l22 2l44-2l88 3l22-1l22 3l109 2l66 4l132 3l132 2l110 12v290l-22-1l-22 3h-22l-44-5l-44 5l-22-1l-22-4h-22l-22 2h-22l-22 2l-44-2l-88 2l-22-1l-21 1l-22 3h-22l-88-6l-22 3h-22l-22 4h-22l-22-1l-22 2h-44l-22 4l-22 2h-22l-22 3l-22 2l-44-2l-44 2l-66-3l-22-9l-22-11l-44-13l-22-6l-22-11h-66l-66 3h-43l-44 1l-44-7l-22 1l-44 5l-44-1l-22 1l-44-1l-22-2h-44l-22-2l-22 2l-22-4l-22 1v-276l22 2l22 9l22-11l22-4h44l22-2l66-2l22 2h22l22 4l22-3l66-2l22 1l22 2h22l21-3l22 1l66-2l44 1l22 1l22 1z"/>
<path fill="#A4C643" d="M0 0h1203l-51 35l-13 7l-40 14l-44 13l-110 22l-22 4l-44 4l-29 6l-59 9l-132 25l-66 3l-44 5l-66 3h-22l-43 6h-22l-22 2l-22 3l-44 4l-88 6h-88l-44 1h-22l-44 1l-22 1zM544 476l49-1l22 2h22l66-4l22 2h22l22-1l66 2l44-1l22 2h66l44 2l22 2l44-2l44 2l44 1l22-1l22 3h66l131 6l242 5l22 2l22 2l66 8v258l-22-3l-22 3h-22l-44-4l-22 4l-22 2l-22-1l-22-5h-22l-22 4l-22-1l-22 1h-22l-22-1l-110 3l-43 6h-44l-66-4l-22 3h-22l-22 5l-22 1l-22-2l-22 3h-44l-22 4l-22 2h-22l-22 4l-22 3l-44-2l-44 2l-44-3l-22-1l-22-9l-22-11l-22-6l-44-15l-8-5l-14-11h-22l-44-1l-66 5l-43-2l-44 2l-44-9l-22 1l-44 6l-44-2h-66l-22-2h-44l-22-3l-22 4l-22-5l-22 1v-241l22 3l22 7l22-9l22-5h44l22-3l66-1l22 2h22l22 4l22-3l22-1h22l22-1h22l22 3h22l21-3z"/>
<path fill="#C4C43A" d="M0 0h1176l-11 8l-22 18l-22 12l-22 8l-22 6l-22 7l-132 29l-44 5l-30 5l-190 33l-66 4l-44 4l-66 4h-22l-43 6h-22l-22 1l-66 8l-44 4l-44 2h-88l-44 2l-22-1l-66 2zM539 490l54-2l44 2l66-5l22 2h22l22-2h22l22 2l22 1l44-2l22 2l88 1l44 3l44-3l44 3l66-1l22 3h66l65 4h22l66 3l220 4l44 4l66 11v219l-22-6l-44 1l-22-4l-22 1l-22 7l-22 3l-22-2l-15-4l-7-3l-22 1l-22 5l-22-1l-44 1l-22-1l-44 2l-44-2l-22 4l-43 13l-44-2l-66-10l-22 9l-22 2l-22 9l-22 1l-22-1l-22 3l-44 1l-22 4l-22 2h-22l-22 4l-22 4l-44-3l-44 4l-44-3h-22l-44-21l-22-5l-40-17l-10-7l-8-7l-8-10l-22-1l-22-2l-22-1l-44 6h-22l-21-4h-22l-44 3l-44-10h-22l-22 5l-22 2l-44-3l-66 3l-22-3l-44 2l-22-5l-22 5l-22-5l-22 2v-205l22 2l22 5l22-6l22-5l22-1l22 1l22-3l22-1h22l22-1l22 3h22l22 3l22-2l22-2l22 1l22-1h22l22 3l22 1l21-4z"/>
<path fill="#E0C233" d="M0 0h1155l-12 11l-22 14l-22 10l-44 15l-44 9l-88 22l-110 17l-66 11l-22 5l-66 11l-66 3l-22 2l-22 3l-66 3l-22 1l-43 5h-22l-22 2l-88 9l-66 5h-88l-44 2l-22-1l-66 2zM568 504l25-1h44l44-4l22-1l22 2h22l22-3h22l22 2l22 1l44-2l22 2l66 1l66 3l44-3l44 2l66-2l22 3h66l65 4l22-1l44 3l66 2l88 2h44l22 2l22-1l44 5l44 9l22 6v164l-22-3l-44-1l-22-4l-33 2l-33 6l-22-4l-22-7l-22 2l-22 6l-22-1l-22 2l-22 2h-22l-44 3l-44-1l-22 6l-43 16l-22-2h-22l-22-6l-22-2l-22-5l-22 14l-22 6l-22 14l-22 2l-22-1l-22 6l-44 2l-22 4l-22 3h-22l-22 5l-22 4l-44-3l-44 4l-44-3l-22-1l-44-18l-22-4l-40-21l-8-7l-5-7l-4-7l-9-23h-22l-22-3h-22l-44 6l-22-2l-21-5l-44 3l-66-2l-22-2l-44 4l-44-5h-22l-22 4h-22l-22-5l-44 3l-22-8l-22 4l-22-5l-22 4v-154l22 2l22 4l44-9l22-1l22 1l22-3l22-1l22 1l22-2l22 2h22l22 2l44-3l22 1h44l44 4l21-4l44-1z"/>
<path fill="#EDB130" d="M0 0h1137l-16 11l-19 10l-25 9l-22 10l-66 16l-66 18l-44 8l-66 9l-66 11l-22 5l-66 11l-88 5l-22 3l-66 4h-22l-43 6h-22l-22 1l-88 9l-66 5h-88l-44 2l-22-1l-66 3zM695 511l52 1l22-3h22l22 3h22l44-1l22 2l88 1l44 2l44-3l44 1l66-2l22 3l22-1h44l65 3h22l44 2l66 3l88 2l44-1l22 2h22l44 6l30 8l36 13v118l-66-3l-22-5l-44 2l-22 2l-22-3l-22-6h-22l-22 4l-44-2l-22 2h-44l-44 1l-22-2l-22 7l-21 11l-22 15l-22-6l-22-5l-22-16l-22 4l-22-6l-9 8l-13 14l-8 7l-14 7l-22 16l-22 4h-22l-22 6l-22 1l-22 2l-22 7l-22 4l-22 1l-22 6l-22 6l-22-1l-22-2l-44 4l-22-1l-22-3l-22-1l-44-14l-22-3l-29-18l-9-7l-6-7l-7-14l-5-14l-10-15l-22-1l-22-3h-22l-22 2l-22 1l-22-3l-21-5l-44 1l-22-2l-44 6l-22-6l-22-3h-22l-44-7l-22-1l-22 5l-22-2l-22-5l-22 1l-22-1l-22-9l-22 4l-22-2l-22 1v-97l22 1l22 4l22-2l22-6l22-2l22 1l22-3l22-1h22l22-2l22 2h22l22 1l44-4l22 2h44l44 6l21-4l44-1l66-4l66-2l44-5z"/>
<path fill="#F0A12C" d="M0 0h1118l-19 10l-22 7l-22 12l-40 13l-26 6l-22 8l-44 11l-44 9l-66 8l-66 11l-22 5l-66 10l-88 5l-22 3l-66 4h-22l-43 7h-22l-22 2l-88 8l-66 5h-88l-44 2l-22-1l-66 2zM677 525l26-2l44 2l22-3l22-1l22 3l22 1l22-2l22 1l22 2h22h66l44 3l44-3l44 2l44-1l22-3l22 3l22-3h22l22-1l43 2l22 4l22-3l44 3l66 2h44l44 1l22-1h22l22 3l22 1l44 10l22 8l44 12v84l-66-3l-22-6l-22 1l-22-1l-22 1l-22-2l-22-5h-22l-22 3l-22-1l-22-2l-22 1l-44-1l-22 1l-22-1l-22-4l-43 9l-22 10l-22-5l-22-4l-22-10l-22 5l-22-2l-22 6l-22 8l-8 11l-14 30l-16 5l-6 1h-22l-22 7l-22 2l-22 5l-22 8l-22 5l-22 2l-44 15l-22 1l-22-3l-22 1l-22 3l-22-1l-22-3l-22-2l-44-10l-22-2l-12-8l-16-14l-5-7l-4-7l-5-14l-8-14l-5-7l-11-9l-22-2l-22-3l-22-1l-44 1l-22-3l-21-4l-22 1l-22-1l-22-7l-23 7l-21 4l-14-4l-8-4l-22-9l-66-1l-22-4l-22 2l-44-5l-22-1l-22-9l-12-11l-5-7l-1-7l5-7l6-7l9-7l20-7l44-2h44l22-4l22 2l44 1l44-8l22 4l22 3l22-2l32 6l12 5l8-5l13-3l22-3h22l66-6l66-4zM21 574h6l-5 6z"/>
<path fill="#F29329" d="M0 0h1092l-15 4l-22 12l-22 8l-44 17l-18 8l-26 7l-22 5l-66 12l-41 4l-25 3l-44 8l-44 8l-44 7l-66 3l-44 5l-66 3h-22l-43 8l-22 1l-110 9l-66 4h-44l-88 2l-22-1l-66 3zM668 539l13-2l22-1l44 2l22-3h22l22 4l22 2l22-2l22 2l22 4l22-2l44 1l22-1l21 3l23 9l22-9l22-2l23 2l7 7l14 11l22 6l22 1l22-17l22 5l6-6l16-13l22-2l22-4l23 5l14 7l11 7l17 17l22-10l22 1l10 6l7 7l3 7l-20 11l-22 1l-22-10l-22 15l-21 11l-13 7l-9 4l-15-4l-7-3l-22-4l-22-20l-22 7l-22-11l-22-1l-22 5l-11 6l-33 25l-22 10l-44 37l-3 5l-7 7l-12 5l-35 9l-31 12l-2 2l-20 8l-22 9l-22 2l-22-4l-22 1l-22 4l-22-2l-22-5l-22-1l-44-6l-22-1l-13-12l-10-14l-4-14l-3-7l-3-7l-5-7l-14-14l-12-7l-24-3l-22-5l-39-6l-5-3l-44-11l-19-7l-2-2l-3 2l-19 7l-12-7l-8-7l8-7l12-3l22 8l43-14l22-10l3-2l24-7l48-7l35-3l22-1zM1565 546l17-5l22 1l22 8l22 1l5 2l12 7l5 6l22 3l22 5l22 2l22 4v46l-22-2l-22-4l-22-1l-8-3l-14-13l-10 6l-12 5l-22-4l-22 6l-22-3l-22-7h-22l-22 3h-22l-12-7l-10-16l-14-5l14-9l11-19l11-5l22-1l22 1l22-1zM325 560l5-4l4 4l6 7l5 7l3 7v7l-3 7l-9 14l-6 4l-6-4l-6-7l-7-14v-7l3-7l4-7zM131 567h3l20 4l6 3l-1 7l-5 1l-22 3l-17-4l-4-7zM215 567l5-3l22 4l7 6l2 7l-9 7l-22 2l-11-9v-7z"/>
<path fill="#EC6E2A" d="M0 0h1063l-8 4l-22 7l-44 18l-19 13l-16 7l-26 7l-27 5l-21 2l-23 5l-22 3l-44 4l-22 4l-35 5l-31 6l-22 4l-22 2l-66 3l-44 6l-109 6l-22 4l-66 7l-88 6l-44 2l-154 1l-66 1zM663 553l18-2h22l22 1l22 4l22-4h22l22 10l22 1l22-2l22 6l14 7l4 7l4 11l15-11l7-3l22 17l22-5l22-2l5 7l7 14l-2 7l-4 14l-6 14l-22-4l-22-19l-29 9l-12 7l-3 3l-5 32l-7 28l-3 7l-7 3l-22 2l-19-5l-3-2l-22 1l-22 5l-22-3l-22-4l-22 1l-22-1l-22-3l-22-1l-11-14l-2-14l-6-21l-3-7l-6-7l-10-7l-13-7l-15-5l-11-2l-11-7l-23-21l3-7l6-7l7-7l12-7l17-3l22-3l22 2zM1583 567l21-2l14 9l-2 7l-12 6l-22-3l-6-3l-3-7zM1268 574l7-7l5 7l-5 7z"/>
<path fill="#E8452B" d="M0 0h1030l-41 17l-35 25l-16 7l-15 4l-88 14l-44 5l-79 12l-31 5l-22 3l-88 5l-22 4l-22 2l-44 2l-22 1l-65 5l-44 7l-66 5l-66 3l-154 1l-66 2zM666 574l15-2l44 3l22 7l22-3l23 2l3 7v7l-6 35l5 21l5 28l-8 6l-22 1l-22-2l-22 7l-22-1l-22-4h-10l-12-2l-5-33l-12-35v-21l1-7l8-7zM611 588l4-7l11 7l-11 6zM835 595l22 1l7 13l5 14l2 14l-1 14l-7 21l-3 7l-3 3l-3-3l-4-14l-4-35l-2-7l-3-7l-6-8l-3-6z"/>
<path fill="#DD252B" d="M0 0h1001l-15 7l-19 13l-28 22l-16 7l-36 7l-104 14l-124 19l-88 6l-66 5l-44 3l-65 4l-101 12l-31 2l-44 2l-154 1l-66 1zM691 602l12-3l22-1l13 11l5 7l3 7l1 7l1 7l-3 7l-4 7l-7 7l-9 7l-22-3l-18-11l-8-7l-5-7l-2-7l1-7l2-7l5-7l3-4z"/>
<path fill="#CF1A38" d="M0 0h978l-29 21l-24 21l-18 7l-28 5l-110 15l-110 17l-88 6l-131 10l-59 3l-95 11l-39 3l-27 1l-154 1l-66 1zM725 630v5z"/>
<path fill="#C01043" d="M0 0h959l-14 11l-27 24l-10 7l-18 7l-121 17l-110 17l-198 13l-21 3l-66 3l-44 4l-66 8l-44 3h-154l-66 1z"/>
<path fill="#A81552" d="M0 0h942l-40 35l-10 7l-13 5l-44 5l-44 8l-44 5l-22 5l-22 2l-44 8l-176 12h-22l-21 3l-22 2h-22l-66 4l-85 11l-25 2h-154l-66 1z"/>
</g>
</g>
<rect x="324.8" y="0" width="8.6" height="486.4" fill="#0000ff" fill-opacity="0.3"/>
<rect x="325.6" y="0" width="7" height="486.4" fill="#0000ff" fill-opacity="0.62"/>
<rect x="0" y="0" width="879" height="486.4" fill="none" stroke="#1c1c1c" stroke-width="1.7"/>
<path d="M0 486.4v5.6M0 0v-5.6M109.9 486.4v5.6M109.9 0v-5.6M219.8 486.4v5.6M219.8 0v-5.6M329.6 486.4v5.6M329.6 0v-5.6M439.5 486.4v5.6M439.5 0v-5.6M549.4 486.4v5.6M549.4 0v-5.6M659.2 486.4v5.6M659.2 0v-5.6M769.1 486.4v5.6M769.1 0v-5.6M879 486.4v5.6M879 0v-5.6M0 0h-6.4 M879 0h6.4M0 32.8h-3.4 M879 32.8h3.4M0 52h-3.4 M879 52h3.4M0 65.6h-3.4 M879 65.6h3.4M0 76.1h-3.4 M879 76.1h3.4M0 84.7h-3.4 M879 84.7h3.4M0 92h-3.4 M879 92h3.4M0 98.3h-3.4 M879 98.3h3.4M0 103.9h-3.4 M879 103.9h3.4M0 108.9h-6.4 M879 108.9h6.4M0 141.7h-3.4 M879 141.7h3.4M0 160.9h-3.4 M879 160.9h3.4M0 174.5h-3.4 M879 174.5h3.4M0 185h-3.4 M879 185h3.4M0 193.6h-3.4 M879 193.6h3.4M0 200.9h-3.4 M879 200.9h3.4M0 207.2h-3.4 M879 207.2h3.4M0 212.8h-3.4 M879 212.8h3.4M0 217.8h-6.4 M879 217.8h6.4M0 250.6h-3.4 M879 250.6h3.4M0 269.8h-3.4 M879 269.8h3.4M0 283.4h-3.4 M879 283.4h3.4M0 293.9h-3.4 M879 293.9h3.4M0 302.5h-3.4 M879 302.5h3.4M0 309.8h-3.4 M879 309.8h3.4M0 316.1h-3.4 M879 316.1h3.4M0 321.7h-3.4 M879 321.7h3.4M0 326.7h-6.4 M879 326.7h6.4M0 359.5h-3.4 M879 359.5h3.4M0 378.7h-3.4 M879 378.7h3.4M0 392.3h-3.4 M879 392.3h3.4M0 402.8h-3.4 M879 402.8h3.4M0 411.4h-3.4 M879 411.4h3.4M0 418.7h-3.4 M879 418.7h3.4M0 425h-3.4 M879 425h3.4M0 430.6h-3.4 M879 430.6h3.4M0 435.6h-6.4 M879 435.6h6.4M0 468.4h-3.4 M879 468.4h3.4M0 486.4h-6.4M879 486.4h6.4" stroke="#1c1c1c" stroke-width="1.5" fill="none"/>
<text x="0" y="539.6" font-size="37.5" text-anchor="middle">-30</text>
<text x="109.9" y="539.6" font-size="37.5" text-anchor="middle">-20</text>
<text x="219.8" y="539.6" font-size="37.5" text-anchor="middle">-10</text>
<text x="329.6" y="539.6" font-size="37.5" text-anchor="middle">0</text>
<text x="439.5" y="539.6" font-size="37.5" text-anchor="middle">10</text>
<text x="549.4" y="539.6" font-size="37.5" text-anchor="middle">20</text>
<text x="659.2" y="539.6" font-size="37.5" text-anchor="middle">30</text>
<text x="769.1" y="539.6" font-size="37.5" text-anchor="middle">40</text>
<text x="879" y="539.6" font-size="37.5" text-anchor="middle">50</text>
<text x="-20.5" y="13.6" font-size="37.5" text-anchor="end">0.01</text>
<text x="-20.5" y="122.5" font-size="37.5" text-anchor="end">0.1</text>
<text x="-20.5" y="231.4" font-size="37.5" text-anchor="end">1</text>
<text x="-20.5" y="340.3" font-size="37.5" text-anchor="end">10</text>
<text x="-20.5" y="449.2" font-size="37.5" text-anchor="end">100</text>
<text x="-20.5" y="500" font-size="37.5" text-anchor="end">300</text>
<text x="449" y="-13.6" font-size="41.3" text-anchor="middle">(d) MERRA-2 ozone at Ny-Ålesund</text>
</g>
<g transform="translate(135.1,1331.5)" shape-rendering="geometricPrecision">
<clipPath id="cpe"><rect x="0" y="0" width="879" height="470.7"/></clipPath>
<g clip-path="url(#cpe)">
<rect x="-2" y="-2" width="883" height="490.4" fill="#802B70"/>
<g transform="scale(0.5)" fill-rule="evenodd">
<path fill="#673A7E" d="M0 0h1039l16 8l12-8h22l13 14l19 9l22-2l14-7l8-7l22 2l2 5l6 7l12 14l10 7l14 13l7-6l13-14l2-6l2 6l20 22l22-12l21 6l22-30l22-17l12 10l6 7l26 40l22-6l7-6l15-9l11 9l11 16l8 5l6 7l8 5l22 2l14-7l8-26l22 3l8 9l13 7l23 7l10-28l12-23h22l11 23l12 35l3 21l1 21l3 14l4 7l5 7l5 5l8-12l3-7l5-14l2-21l1-49l2-14l3-7l7-7l13-7l8 7l5 7l3 7l3 14l3 30v887h-1140l-1-21l-9-7l-15-5l-22 1l-44-4h-22l-44-5l-37 6l-6 2l-110-4h-66l-22-2l-22-2l-22 2h-44l-44 4h-22l-44-2l-22-3z"/>
<path fill="#52477F" d="M0 0h964l25 7l22 3l44 20l22-4l26 9l18 10l22 7l22-4l11 8l11 13l22-3l22 23l22-8l22 9l22-7l21 8l33-14l11-8l5 8l17 25l22 8l22-7l22-13l34 22l8 7l2 4l22-1l5-3l17-6l29 6l15 5l17 16l4 7l1 6l2-6l8-14l3-21l3-7l6-12l9 5l8 7l1 7l-3 21l-2 28l1 7l2 14l6 14l7 7l15 8l22 6l22 2h22l11-16l11-26v766l-22-6l-22-8l-22 4l-22 1l-22-2l-22-1l-22 3l-22-2l-22-1l-44 3l-22-2l-22-4l-22 4l-22 8l-22-2l-22-4l-22-1l-65 1l-22 1l-22-1l-22 2h-22l-44 4l-44-3l-22 3h-22l-22-7l-22-2l-22-5l-22 1l-22 6l-22-1l-44-4l-22-1l-44 1l-22-1l-22 1h-44l-22 1l-66-5l-44-8l-22-3h-66l-22 1l-44-2l-87 3l-176-7l-61 2l-49 3l-22-1l-22-3l-44-1zM1604 156l-3 19l3 7l3-7v-7zM1736 84l2 7l4 14v7l-3 14l-3 7l-5-21l-1-7z"/>
<path fill="#3B5480" d="M0 7v-1l22-2l22 8l22-4l22 3l22 10l22-4l22-5l20-12h5l19 5l16-5h14l14 3l22 7h22l22-9l22 3l22 5l22-1l44 2l22 1l21 3l22-5l22 4l7-6l5-7h28l4 3l22-3l22 3l4-3h242l21 7l19 4l44 1l64 9l24 5l44 23l22-5l22 6l9 6l6 7l7 9l12 12l10 14l22-14l13 21l9 12l10-12l12-11l10 11l12 11l22-1l22 2l22-3l21 10h22l22 1l7 8l2 14l-9 7l-9 14v7l-1 7l-6 14l-4 7l-2 2l-5-2l-17-4l-1 4l-3 7l-6 7l-4 7l3 7l5 7l2 7l4 2l22 3l22-3l22-2l13 14l9 5l22 3l12-1l10-2l21-5l8-14l15-8l22-5l16 6l6 4l11 3l11 5h22l11 9l11 6l22 4l44 1l22 11l22 6l22 7l22-1v618l-22-5l-22-5l-22 4l-22 2l-22-2l-22-1l-22 4l-44-1l-44 1l-22-1l-22-4l-22 3l-22 4l-44-3l-44 3h-22l-43-2l-22-2l-22 3l-22 1l-22-1l-44 2l-44-1l-22-1l-22-4h-22l-22-4h-22l-22 5l-88-1l-44 3l-44 1h-66l-66-2l-44-8l-22-2h-66l-22 2l-65-1l-66 2l-176-5l-22 1h-22l-66 3l-22-1l-22-2l-22-1l-22-1zM1253 210l-10 7l-3 7l3 7l10 4h22l12-4l6-7l-2-7l-11-7l-5-2zM1406 140h1l3 7v7l-4 6l-15-6v-7zM1466 140l6-2l7 9l1 7l-2 7l-6 7l-12-7l-3-7v-7zM1555 154l5-5l4 5l-4 3z"/>
<path fill="#3C6A8E" d="M736 14l11-3l22 4l44 5l22 1l22 3l22 2l44 1l5 1l39 7l44 10l31 18l13 9l22-6l22 6l13 19l9 18l6 10l16 16l22-11l6 9l4 7l4 14l-1 7l-3 7l-10 22l-22-7l-14 6l-30 9l-22-21l-44 24l-22 8l-44-11l-22 6h-22l-22 3l-22-1l-22-3l-12-7l-32-22h-22l-22-16l-22-5l-13-6l-9-2l-6 2l-16 9l-17-9l-28-7l-15-7l-6-5l-22 9l-22 5l-12 33l-10 19l-13 9l-8 7l-1 4l-6-4l-16-3l-1 3l-4 21l-3 7l-6 7l-8 4l-7-4l-15-11l-13-17l-9-15l-6 8l-15 13l-22 6h-44l-22 3l-22-1l-22 2l-22 11l-22 3l-22 2l-22-8l-22-6l-22-10l-22 11l-22-1l-44 3h-22l-22-1l-22 2l-22 6v-221h22l22 5l23-1l21 3l22 9l22-1l22-6l22-10l22 7l22-6l22 1l22 5h22l22-10l66 3l54 5l12 1l21 8l22-7l22 7l22-22l10 6l12 10l22-3l13 7l9 9l7-9l8-7l7-5l22 6l22-4l11-4l11-6l22 1h22zM1208 126h1l8 7l6 7l8 8l22 5l1 1v7l-23 14l-22 6l-10-13l-3-7l-1-7l8-21zM656 259l3-1l22 3l22-5l22 8l22-3l22 6l22-3l22 1l22-3l12-3l10-4l22 4l22 5l22 2l22-7l44-2l22 2l22 4l22 1l22 5h22l44 5l22-2l22 5l22 2l22 4l22 7l22-3h43l22 2l22 3l22 5l22 4l22 1l22 3l44-1l44 8h22l22-1l88 3l22 8l22 3l22 9l22 1v556l-22-3l-22-4l-22 4l-22 2l-44-2l-22 3l-66 2l-22-1l-22-2l-22-3l-44 5l-44-2l-44 5l-22-1l-65-5l-22 4l-22 1l-22-2l-66 2l-44-1l-22-4l-22-1l-22-2l-22-1l-22 4l-88 1l-22 3l-44 2l-22 1h-44h-22l-66-2l-66-12h-66l-22 1h-87l-66 3l-66-3l-44-1l-22-2h-22l-22 2l-22-1l-66 4l-22-1l-22-4h-22l-22-1v-568l22 3l22 1l22 5l22-1h22l22-3l22 1l22 7l22-1l22 2l22 6l22 1l10-3l12-5l16 5l28 6l22-5l22-20l44 3l22-8l21 2l24-6l20-7l22 2l22-13l22-8l22 1l44-11z"/>
<path fill="#4A81A2" d="M746 28l23 3l66 5l22 4l22-1l44 4l44 17l5 3l9 7l8 26l4-5l8-7l10-5l6 5l16 6l18 15l4 5l22-2l10-3l12-1l12 36l-3 7l-9 7l-22-9l-22-5v-1v1l-22 22l-10 6l-12 6l-27-6l-17-5l-12 5l-10 3l-22 3l-44-5l-17-8l-27-18l-19-10l-3-1l-22 2l-22-13l-22 4l-22-4l-22 7l-22-5l-22-8l-13-10l-9-10l-22 6l-6-3l-9-7l-3-7l7-14l11-19h22l2-2l12-7l30-11l44 2zM307 35l45-2l22 2l22 5l22 3l22 5l10 8l7 7l4 8l9-8l13-9l22 10l13-15l9-10l22 18l22-4l10 10l5 7l6 14l-1 7l-7 21l-13 29l-11-8l-5-7l-6-11l-4 4l-10 7l-8 3l-17-3l-5-4l-8 11l-9 7l-5 3l-10-38l-3-7l-9-14l-7 21l-9 35l-5 13l-12 8l-10 5l-22 2l-22 6l-22 9l-22-7l-44-6l-22 15l-22 4l-22-4l-22-2l-22-14l-22 10l-12-11l-10-6l-22 9h-22l-21 4l-23 10l-22-2l-22 3v-147l44 5h22l22 6l22 8l22 1l9-3l27-7l8-3l22 5l44-7l22 4h22l8-6zM657 308l2-1l22 8l21 7l23 6l19-6l3-2l22-1l22-5l22 1l22 4l22-2l22 2l44-4l22-4l22-1l22 2l44-4l22-3l22 7h22l22-1h22l22-3l22 1h22l44 11l22-2h22l21-2l22 1l22 4l22 7l22 2l22 1l22 3h44l44 5h44l66 3l22 2l22 6l22 1l22 7h22v517l-22-1l-22-4l-22 4l-22 1l-44-2l-22 4l-66 1l-44-3l-22-3l-44 4l-22-1l-22 1l-44 4l-22-1l-65-4l-22 4l-22 1l-22-1l-22 1l-66 1l-22-1l-22-4l-22-1l-22-2l-22-1l-22 4l-88 1l-22 4l-44 4l-22 1l-44-1l-22 1l-66-2l-44-11l-22-4l-22-1h-44l-22 2h-109l-44 3h-22l-44-3l-44-1l-22-1h-22l-22 1l-22-1l-22 2l-22-1l-22 2l-22-1l-22-3h-44v-499l22-1l22 1l22 3l22-5l22 5l66 4l22-3l22-2l22 5l22 1l22-4l44 4l22-2l22-10l44-5l22-2l21 7l44-11h22l22-5l44 5l22-25l12-6l17-7z"/>
<path fill="#5A98B5" d="M746 42l23 3l44 4l22 3l9 4l13 8l16-8l6-2l22 3l20 6l8 7l10 28v14l-2 7l-14 17l-22 3l-22 6l-6-5l-8-14l-8-21h-1l-21-4h-22l-22 5l-22-6l-22 6l-22-7l-22 9l-22-3l-18-7l-4-2l-4-5l-7-14v-7l3-7l8-9l7-5l15-6l44 6zM308 49l44-5l22 4l4 1l18 10l29 11l10 7l1 7l-4 7l-14 11l-22 9l-8 15l-5 7l-14 14l-10 7l-7 3l-10-3l-12-6l-22-4l-13-11l-5-7l-4-8l-12 15l-10 10l-22 7l-22-11h-22l-10-6l-12-11l-22 16l-5-5l-3-7l-3-21v-7l11-18l14-10l8-4l22 1l13-4l31-4l44 10l4-6zM0 56v-3l15 3l7 3l22-2l22 1l10 5l6 7l6 17l5 4l19 7l4 7l6 21l-1 7l-3 7l-8 8l-7-1l-37-8l-14 8l-8 2l-22-2l-22 7zM523 70l4-6l7 6l5 7l-3 7l-9 6l-4-6l-3-7zM568 84l3-4l2 4l-2 8zM1051 329l4-1l22 5l22 1l22-1h22l22-3l22 1l22-1l44 10l22-2l22 1l21-3l22 2l44 10l22 2h22l22 3l44-1l44 6l44 1l66 4l22 3l22 6l22-1l22 6h22v482h-22l-22-3l-22 4l-22 1l-44-1l-22 4h-22l-44 2l-44-4l-22-3l-44 2h-22l-66 5h-22l-65-3l-22 3l-22 1l-22-1l-22 2h-22l-44 1l-22-1l-22-5h-22l-22-3l-22-1l-22 5l-88 1l-22 4l-66 6l-66 1l-44-1l-22-1l-44-14l-22-4l-22-1h-44l-22 2l-44 1l-65-1l-44 3l-22 1l-44-5l-44 1l-22-3l-44 2l-22-1l-22 1h-22l-44 1l-22-3h-44v-456l22-2l22 1l22 2l22-5l22 5l44 3h22l44-6l22 5l22 2l22-4l66 2l66-13l22 1l21 8l44-12l22-3l22-7l44 4l22-19l22-11l22-15l22 9l44 8l22-7l22-1l22-4l22-1l22 3h22l22 1l22-1l44-6l22-1l22 1l44-3z"/>
<path fill="#47A1AE" d="M324 63l28-6l22 8l6 5l4 7l1 7l-1 7l-14 21l-18 18l-22-14l-22-6l-7-12l-1-7v-7l5-14l3-3zM675 63l6-5l11 5l10 7l3 7l-13 7l-11 3l-12-10v-7zM742 70l5-5l39 5l-7 7l-10 1l-22 5l-6-6zM238 84l4-2l2 2l7 7l4 7l-2 7l-5 7l-6 5l-9-5l-17-14l9-7zM877 84l2-4l10 4l8 7l2 7l-8 7l-12 6l-3-6l-2-7zM0 98v-2l1 2v7l-1 4zM1045 350l10-2l22 4l22 1l22-1l22 1l22-3l22 1h22l22 5l22 2l22-2l22 1l21-3l22 2l44 9l44 1l22 4l44-1l44 6l44 1l66 5l22 4l22 5l22-2l22 6h22v447l-22 3l-22-4l-22 5l-44 2l-22-1l-22 5h-22l-44 3l-44-5l-22-4l-22 2l-44-1l-44 6l-22 1l-21 1l-22-3h-22l-22-1l-22 3l-44 1l-22 2l-22-1l-44 2l-22-1l-22-6h-22l-22-3l-22-1l-22 5h-44l-44 1l-22 4l-66 6l-110 1l-22-1l-24-8l-20-9l-22-5l-22-3l-44 1l-22 3l-44 2l-65-2l-22 2l-22 5l-22 1l-44-8l-44 1l-22-4l-44 3l-22-3l-22 2l-22-2l-44 4l-22-7l-44 2v-417l44-2l22 2l22-4l26 4l62 1l44-4l22 3l22 2l22-2l66 2l44-6l22-6l22 2l21 5l66-14l22-6l44 4l22-19l22-10l22-15l22 9l22 1l22 4l22-8l22-1l44-4l22 2l22-2l44 1l22-2l22-4l22-1l22 1l44-1z"/>
<path fill="#2FADA8" d="M348 77l4-3l8 10v7l-8 12l-12-12l1-7zM944 371l23-2l22 2l22-1l22 1l22-5l22 3l22 2l22-1l22 1l22-3l22 2h22l22 5h22l22-2l22 2l21-4l44 6l22 5l44 1l22 4l44-2l44 7h44l66 7l22 3l22 4l22-2l22 5l22-1v415l-22 4l-22-3l-22 5l-44 3l-22-1l-22 4l-22 1l-44 4l-44-6l-22-4l-22 2l-44-2l-22 4l-22 3l-22 1l-22 1l-21-3h-22l-22-1l-22 4l-44 2l-22 3l-22-2l-44 3l-22-1l-22-8l-22-1l-22-3l-22-1l-22 6l-22-1h-22l-44 2l-22 4l-44 1l-22 3l-22 1l-22-1l-66 3l-22-2l-22-8l-22-12l-44-12h-44l-22 4l-22 1l-22 3l-21-3h-22l-22-4l-22 4l-13 6l-9 3l-22 2l-44-13l-22 3h-22l-22-6l-44 5l-22-8l-22 4l-22-5l-22 3l-22 5l-22-11h-22l-22 5v-376l44-3l22 2l22-3l22 3l44-1h22l44-2l22 2l22 1l22-1l66 2l44-4l22-4h22l21 3l66-11l22-6l22 1l22 2l22-16l22-8l22-16l22 11l22-1l22 2l22-10h22l22-2l22-3l22 2l22-2l44 1l22-1z"/>
<path fill="#29B69D" d="M952 385l15-2l22 3l22-1l22 2l22-5l44 4l22-1l22 2l22-3l44 2l22 4h22l22-2l22 2l21-4l44 6l22 4l44 2l22 3l44-1l44 7h44l22 2l22 3l22 1l22 2l22 4l22-2l22 4l22-1v387l-22 5l-22-2l-22 4l-22 1l-22 3l-22-2l-22 4h-22l-44 6l-44-7l-22-4l-22 2l-44-2l-22 5l-22 2l-44 2l-21-3h-22l-22-1l-22 4l-44 2l-22 5l-22-5l-44 5l-22-1l-22-8l-44-5l-22-1l-22 7l-22-2h-22l-44 2l-22 4h-22l-22 1l-44 4h-44l-44 3l-22-2l-22-9l-16-12l-6-6l-15-8l-7-6l-22-11l-22 4l-22-1l-22 1l-22 1l-22 3l-21-3l-22 2l-22-4l-22 9l-22 13l-22 4l-36-19l-8-6l-22 7h-22l-2-1l-20-17l-22 12l-22 5l-22-11l-8 4l-14 5l-22-6l-22 3l-22 6l-10-8l-12-18l-22-3l-19 21l-3 2v-336l22-1l22-2l22 2l22-3l22 2l44-2l44 1l22-2l44 3l22-1l66 3l28-2l38-5l22-1l21 2l44-4l22-3l22-6h22l22 2l22-13l22-6l22-15l22 10l22-1l22 2l22-13l44-3l22-5l22 3l22-3l44 2l22-1z"/>
<path fill="#56BF7D" d="M942 399l25-3l22 2h22l22 2l22-5l44 4l22-1l22 2l22-3l44 3l22 4l22-1l22-3l22 3l21-4l44 6l22 4l44 1l22 4l44-2l44 7l66 3l22 2l22 1l44 5l22-2l22 4l22-2v363l-22 6l-22-3l-22 5h-22l-22 4l-22-2l-22 3h-22l-22 2l-22 4l-44-6l-22-5l-22 3l-44-3l-22 6l-22 3l-44 1l-21-3h-22l-22-1l-22 4h-22l-22 2l-22 5l-22-5l-44 6l-22-2l-22-9l-66-5l-22 7l-22-3h-22l-44 3l-22 4l-22-1l-22 1l-44 4l-44 1l-44 3l-22-4l-22-10l-12-10l-10-12l-9-9l-5-7l-8-16l-9-5l-13-5l-22 1l-20-3l-24-8l-22 3l-22 4l-21-2l-22 5l-22 3l-10 9l-10 7l-24 15l-22 2l-13-10l-15-14l-16-20l-22 2l-22-4l-22-13l-22 6l-22 5l-22-2l-22 12l-22-12l-22-4l-22 6l-20-25l-2-2l-22-5l-10 7l-12 15v-263h22l22-3l22 2l22-2l22 2l44-2l44 1l22-1l44 3l22-1l66 2l44-2l22-3l22-2l21 2l44-4l22-2l22-4l22-1l22 2l22-10l22-4l22-13l22 9l22-2l22 2l22-13l44-7l22-6l22 2l22-2l44 1h22z"/>
<path fill="#83C55A" d="M935 413l32-5l22 3h22l22 2l22-6l44 4h22l22 1l22-2l44 3l22 4l22-1l22-3l22 3l21-4l66 9l22 2h22l22 4l44-2l44 7l66 2l22 2h22l22 2l22 3l22-2l22 4l22-3v340l-22 6l-22-4l-22 6l-22 1l-22 4l-22-3l-22 4l-22-1l-22 1l-22 4l-22-2l-22-3l-22-5l-22 3l-44-3l-22 6l-22 3h-22l-22 2l-21-3l-44-2l-22 4l-44 2l-22 6l-22-6l-44 6l-22-2l-22-8l-66-5l-22 7l-22-3l-22 1l-44 1l-22 5h-22l-22 1l-44 5l-22-1l-66 3l-22-5l-16-7l-9-7l-12-14l-16-28l-13-19l-22-7l-22-3l-22-5l-22-8l-44 1l-21-4l-44 1l-6 2l-9 7l-22 28l-7 8l-22-2l-3-6l-6-21l-3-7l-5-7l-11-7l-16-8l-22 1l-22-1l-22-9l-44 5l-22 1l-22 4l-22-9l-22-2l-22 1l-22-10l-22-5l-22 18v-212h22l22-6l22 4l22-3l22 2l44-4l44 3l22-2l44 4l22-2l66 3l44-2l44-5l21 1l44-2l22-2l22-5h22l22 3l22-9l22-3l22-11l22 7l22-1l22 2l22-14l22-4l22-6l22-7l22 2l22-2l44 2l22-1z"/>
<path fill="#A4C643" d="M940 427l27-4l22 3h22l22 2l22-7l22 4l22 2l22-1l22 1l22-3l44 3l22 6l44-6l22 3l21-4l22 4l22 2l44 5l22 1l22 3l44-3l44 8l22 1l22 1l22-1l22 2l22-1l22 2l22 4l22-2l22 4l22-3v311l-22 7l-22-6l-22 9l-22 1l-22 5l-22-4l-22 4l-44 1l-22 4l-22-1l-22-4l-22-7l-22 4l-44-4l-22 8l-19 3h-25l-22 3l-65-7l-22 6l-44 2l-22 7l-22-6l-44 6l-22-2l-22-9l-66-4l-22 7l-22-2l-66 2l-22 4h-22l-22 1l-44 5h-22l-44 3l-22-1l-22-4l-7-4l-15-10l-8-11l-4-7l-10-22l-9-13l-13-15l-66-20l-22-10l-44-2l-21-4l-44-1l-44 7l-22-2l-22-9l-22-8h-22l-22-2l-22-8h-22l-44 5l-22 1l-22-7l-44-1l-44-10l-22 18v-167h22l22-9l22 6l22-3l22 2l44-7l44 4l22-2l44 4l22-2l66 4l22-1l22-1l44-7l65 1l44-7l22-2l22 4l22-9l22-2l22-11l22 6h22l22 3l22-13l22-5l11-5l33-12l22 3l22-2l44 2l22-2z"/>
<path fill="#C4C43A" d="M946 441l21-3l22 4l44 1l22-7l22 4l22 2l22-1h22l22-2l22 2l22 1l22 6l44-6l22 2l21-4l22 6h22l44 6l22 1l22 2h22l22-3l44 9l44 3l22-2l22 1l22-2l22 2l22 5l22-3l22 5l22-4v276l-22 9l-22-10l-22 14l-22 2l-22 6l-22-4l-22 6l-44-1l-22 6h-22l-22-5l-22-11l-22 5l-44-4l-22 10l-22 5l-22 1l-22 4l-37-5l-28-7l-22 10l-22 2h-22l-22 8l-22-8l-22 5l-22 4l-22-4l-22-9l-66-3l-22 8l-22-3l-44 2l-22-1l-22 7l-22-1l-66 7l-22-1l-22 1l-22 3l-22-1l-22-5l-11-7l-7-7l-5-7l-21-41l-22-24l-29-12l-15-7l-22-7l-22-10h-22l-22-2l-21-4l-22-1h-22l-44 5l-22-2l-44-18l-30-3l-14-3l-8-4l-14-11l-22-2l-22 6l-14 7l-8 3l-22-6l-22-12l-40 8l-26 3l-22-7l-22 16v-117l22 5l22-16l22 12l22-2l22 9l22-10l14-12l8-3l15 3l7 3l22 7l22-10l22 4l22 1l22-4l88 2l22-1l44-6h21l44 5l44-12l16-3l6-1l22 4l22-9l22-1l22-11l22 6l22 1l22 3l22-10l22-5l44-22l22 3l22-3l22 2h22l22-2z"/>
<path fill="#E0C233" d="M956 455l11-1l22 3l44 2l22-8l22 5l22 1l44-2l22-2l22 2l22 1l22 8l44-8l22 3l21-4l22 6h22l44 6l22 1l22 3l22-1l22-3l44 10l44 5l22-4l22 1l22-2l22 3l22 5l22-4l22 6l22-6v231l-22 8l-22-10l-22 18l-22 6l-22 8l-22-6l-22 9l-44-6l-22 10l-22 2l-22-7l-22-15l-22 8l-22-2l-22-4l-22 12l-18 6l-4 1h-22l-22 8l-21-3l-44-12l-22 13l-22 5l-22-1l-22 10l-22-9l-22 6l-22 4l-22-4l-22-9l-22-2h-22l-22-1l-22 9l-22-3l-44 1h-22l-22 6l-22-2l-22 3l-22 4l-22 3l-22-1l-22 1l-22 4l-22-1l-22-5l-11-11l-5-7l-6-10l-12-25l-10-17l-22-21l-23-11l-21-12l-25-9l-13-7l-6-4l-22 1l-22-2l-21-8l-22-1h-22l-44 6l-22-4l-6-2l-5-7l-30-28l-18-14l-13-14l9-14l6-7l13-11l5-3l21-7l18-2l22-1l44 2l22-1l22-3h21l31 5l13 11l8-11l14-5l44-11l22 3l22-10l22-2l22-11l22 6l22 1l22 3l22-6l22-2l44-23l22 1l22-6h44zM36 546l8-6l14 13l8 12l2 2l3 7l-5 5l-5 9l-6 7l-11 8l-15-8l-7-5l-22 18v-60l22 9z"/>
<path fill="#EDB130" d="M1050 469l5-2l22 5h22l66-4l22 3l22 1l22 9l44-9l22 3l21-4l22 9l22-3l22 3l22 4l44 4h22l22-4l44 11l44 5l22-4l22 4l22-2l22 1l22 6l22-1l12 7l10 10l14-10l8-7v173l-22 4l-22-13l-9 11l-13 13l-22 6l-22 11l-22-12l-10 10l-12 9l-22-7l-22-2l-22 11l-22 4l-22-6l-22-17l-22 9l-22-1l-22-4l-22 12l-22 9h-22l-22 12l-21-2l-22-8l-22-7l-22 15l-16 8l-6 2l-22-2l-22 11l-22-8l-22 6l-22 5l-22-4l-22-10l-22-2h-44l-22 10l-22-3l-44 1l-22-1l-22 7l-22-2l-22 2l-22 5l-22 3l-22-1l-22 2l-22 5l-22-1l-15-4l-7-2l-9-12l-12-21l-10-21l-13-20l-7-8l-15-12l-22-10l-8-6l-9-14l-5-14l-10-7l-12-6l-11-15l-5-7l-2-7l18-23l22-10l10-9l12-9l22 3l22-13l22-3l22-10l22 4l22 1l22 2l22-4l22 2l22-9l22-3l22-6l22-10l44-4l66-10l22 5l22 1h22zM344 553l8-1l12 8l7 7l4 7l-2 7l-21 8l-22-5l-6-3l-6-7l1-7l5-7l6-4zM458 574l3-2l31 9l-9 6l-22 4l-3-3l-7-7z"/>
<path fill="#F0A12C" d="M942 490l25-3l22 5l22 3l22-1l22-10l22 5l44-1l22-3l22-1l22 3l22 1l22 12l44-8l22 4l21-4l11 5l8 7l3 7l9-7l13-4l35 4l9 4l22-4l22 8l22-1l18-7l4-1l44 11l22 4l22 2l22-5l7 3l6 7l4 7l2 14l3 27l10 8l11 7l-2 7l-19 5l-6 30l-6 21l-4 14l-6 8l-22-8l-22 3l-22 14l-22 4l-22-7l-22-21l-22 9l-22-2l-14-7l-8-6l-22 7l-22 28l-22 8l-2 5l-20 11l-21-3l-27-8l-17-7l-22 14l-18 14l-4 2l-22-3l-22 12l-22-8l-44 12l-22-3l-22-9l-22-3l-44 4l-22 11l-22-2l-22 1l-44-3l-22 5l-6-2l-16-8l-17-6l-5-4l-14 18l-8 7l-22 3l-22-2l-22 4l-22 7l-22-1l-22-8l-31-59l-10-14l-6-7l-21-14l-8-21l-4-7l-8-9l-2-5l-7-21l-1-7l2-7l8-14l22-1l22-17l22-5l22-13l22 4l44 1l22-2l22 7l22-5l6 3l16 10l22-14l7-10l7-7l8-6l22-6l22-2l22-5zM1668 553l2-2l22 26l6 11l-6 13l-22 18l-12-10l-5-7l-4-7v-7l4-7l5-14l4-7z"/>
<path fill="#F29329" d="M965 504h3l25 7l4 7l7 14l7 22l9-15l13-12l5-16l17-10l22 7l22 1l22-2l8-3l14-3h22l44 4l4 6l6 56l7 28l1 7l-1 49l-10 35l-7 8l-22-7l-22 17l-22-9l-16 5l-6 3l-5 4l-17 6l-22-3l-9-3l-7-7l-12-14l-9-14l-7-18l-22-7l-6 25l-8 21l-4 7l-4 3l-2 4l-20 14l-44 1l-22-3l-44-3l-10-9l-6-7l-9-21l-9-14l-10-13l-22 40l-22 9l-13 6l-9 3l-27 18l-17 7l-22-2l-22-10l-10-23l-16-28l-10-14l-7-7l-2-7l-6-35v-7l1-7l4-14l2-4l4-3l18-11l22-17l22 2l44-4l22 1l18 8l4 3l22 1l3 3l3 7l7 21l9 54l5-19l5-14l7-14l5-8l10-34l9-14l7-7l18-14l22-1l22-7zM1503 539l13-1l7 1l15 4l22 13l22 6l22 2l3 17v7l-3 12l-22-2l-22 12l-22 21l-22 2l-7-3l-15-10l-11-25l-4-14l7-21l8-19zM1252 588l1-1l10 8l2 7l-12 11l-7-11l1-7z"/>
<path fill="#EC6E2A" d="M927 539l18-3l22 4l7 13l6 14l4 21l4 21l-13 63l-6 21l-2 6l-2 1l-20 6l-22 2l-22-6l-22-3l-13-6l-9-17l-6-25v-21v-7l6-26l16-44l6-7l22 2l22-9zM1142 539h2l13 7l8 6l9 15l13 28l-1 7l-3 7l-9 14l-9 12l-22 5l-6-3l-9-7l-7-8l-10 8l-12 15l-13-15l-9-14h-22l-4-7l-1-7l2-42l3-17l5 10l3 21l3 14l4 7l7 6l10-13l12-10l12 3l10 4l4-18l4-7l8-14zM710 560l15-4l19 4l3 2l7 12l7 21l4 21l1 14l-5 21l-10 14l-24 28l-24 13l-22-3l-22-9l-8-22l-4-7l-13-14l-2-7l-1-21l1-14l3-7l4-7l20-15h22l20-13z"/>
<path fill="#E8452B" d="M934 574l11-1l8 8l5 7l7 14l2 7l-1 7l-2 14l-6 21l-6 14l-4 7l-3 3l-22 8l-10-11l-4-7l-5-14l-3-13l-9-15l9-12l6-16l10-14l6-6zM717 588l8-6l7 6l6 7l5 7l3 7l2 14l-1 7l-7 14l-15 17h-22l-12-10l-5-7l1-14l2-7l8-14l12-14z"/>
</g>
</g>
<rect x="324.8" y="0" width="8.6" height="486.4" fill="#0000ff" fill-opacity="0.3"/>
<rect x="325.6" y="0" width="7" height="486.4" fill="#0000ff" fill-opacity="0.62"/>
<rect x="0" y="0" width="879" height="486.4" fill="none" stroke="#1c1c1c" stroke-width="1.7"/>
<path d="M0 486.4v5.6M0 0v-5.6M109.9 486.4v5.6M109.9 0v-5.6M219.8 486.4v5.6M219.8 0v-5.6M329.6 486.4v5.6M329.6 0v-5.6M439.5 486.4v5.6M439.5 0v-5.6M549.4 486.4v5.6M549.4 0v-5.6M659.2 486.4v5.6M659.2 0v-5.6M769.1 486.4v5.6M769.1 0v-5.6M879 486.4v5.6M879 0v-5.6M0 0h-6.4 M879 0h6.4M0 32.8h-3.4 M879 32.8h3.4M0 52h-3.4 M879 52h3.4M0 65.6h-3.4 M879 65.6h3.4M0 76.1h-3.4 M879 76.1h3.4M0 84.7h-3.4 M879 84.7h3.4M0 92h-3.4 M879 92h3.4M0 98.3h-3.4 M879 98.3h3.4M0 103.9h-3.4 M879 103.9h3.4M0 108.9h-6.4 M879 108.9h6.4M0 141.7h-3.4 M879 141.7h3.4M0 160.9h-3.4 M879 160.9h3.4M0 174.5h-3.4 M879 174.5h3.4M0 185h-3.4 M879 185h3.4M0 193.6h-3.4 M879 193.6h3.4M0 200.9h-3.4 M879 200.9h3.4M0 207.2h-3.4 M879 207.2h3.4M0 212.8h-3.4 M879 212.8h3.4M0 217.8h-6.4 M879 217.8h6.4M0 250.6h-3.4 M879 250.6h3.4M0 269.8h-3.4 M879 269.8h3.4M0 283.4h-3.4 M879 283.4h3.4M0 293.9h-3.4 M879 293.9h3.4M0 302.5h-3.4 M879 302.5h3.4M0 309.8h-3.4 M879 309.8h3.4M0 316.1h-3.4 M879 316.1h3.4M0 321.7h-3.4 M879 321.7h3.4M0 326.7h-6.4 M879 326.7h6.4M0 359.5h-3.4 M879 359.5h3.4M0 378.7h-3.4 M879 378.7h3.4M0 392.3h-3.4 M879 392.3h3.4M0 402.8h-3.4 M879 402.8h3.4M0 411.4h-3.4 M879 411.4h3.4M0 418.7h-3.4 M879 418.7h3.4M0 425h-3.4 M879 425h3.4M0 430.6h-3.4 M879 430.6h3.4M0 435.6h-6.4 M879 435.6h6.4M0 468.4h-3.4 M879 468.4h3.4M0 486.4h-6.4M879 486.4h6.4" stroke="#1c1c1c" stroke-width="1.5" fill="none"/>
<text x="0" y="539.6" font-size="37.5" text-anchor="middle">-30</text>
<text x="109.9" y="539.6" font-size="37.5" text-anchor="middle">-20</text>
<text x="219.8" y="539.6" font-size="37.5" text-anchor="middle">-10</text>
<text x="329.6" y="539.6" font-size="37.5" text-anchor="middle">0</text>
<text x="439.5" y="539.6" font-size="37.5" text-anchor="middle">10</text>
<text x="549.4" y="539.6" font-size="37.5" text-anchor="middle">20</text>
<text x="659.2" y="539.6" font-size="37.5" text-anchor="middle">30</text>
<text x="769.1" y="539.6" font-size="37.5" text-anchor="middle">40</text>
<text x="879" y="539.6" font-size="37.5" text-anchor="middle">50</text>
<text x="-20.5" y="13.6" font-size="37.5" text-anchor="end">0.01</text>
<text x="-20.5" y="122.5" font-size="37.5" text-anchor="end">0.1</text>
<text x="-20.5" y="231.4" font-size="37.5" text-anchor="end">1</text>
<text x="-20.5" y="340.3" font-size="37.5" text-anchor="end">10</text>
<text x="-20.5" y="449.2" font-size="37.5" text-anchor="end">100</text>
<text x="-20.5" y="500" font-size="37.5" text-anchor="end">300</text>
<text x="449" y="-13.6" font-size="41.3" text-anchor="middle">(e) MLS ozone at Ny-Ålesund</text>
<text transform="translate(-105,247.6) rotate(-90)" font-size="40.8" text-anchor="middle">Pressure [hPa]</text>
<text x="439.5" y="101.5" font-size="37.5" text-anchor="middle" transform="translate(0,486.4)">Time lag (days)</text>
</g>
<g transform="translate(1168.3,1331.5)" shape-rendering="geometricPrecision">
<clipPath id="cpf"><rect x="0" y="0" width="879" height="470.9"/></clipPath>
<g clip-path="url(#cpf)">
<rect x="-2" y="-2" width="883" height="490.4" fill="#802B70"/>
<g transform="scale(0.5)" fill-rule="evenodd">
<path fill="#673A7E" d="M0 0h504l-5 7l-2 7v7l1 7l7 9l12-2l10-5l22 10l31 23l41 21l18 14l20 19l22 6l22 3h22l22-1l22 2l44 12l22 7l26-6l18-6l7 6l19 14l7 7l11 6l22-4l44-1l22 2l16 11l6 3l22 3l22-8l19-5l25-10l22-2l22 4l17 8l27 7h51l15-2l22-8l43 11l5-1l12-7l5-4l6-3l16-3l14 3l13 7l17 6l22-14l22-2l44 12l8 5l14 4l22 3l22 2l25-2l54-7l9-5l8 5l14 2l22 6l23-8l12-14l9-9v821h-1758zM396 5l-2 2l-2 7l4 6l22 1l5-7l-2-7l-3-2zM508 0h75l-12 7l-22 3l-22 4l-5-7z"/>
<path fill="#52477F" d="M0 0h260l-3 14v7l1 7l2 7l8 14l16 21l4 7l10 21l10 15l22 8l26 19l7 7l11 13l14 8l8 5l5 2l12 7l15 14l12 3h21l44 3l22 6l22 10l22 1l22 3l22 9l22 3l29-3l37-7l22 4l22 6h66l22-1l22 1l22 5l44 6l22 1l44 3h22l22 1l22-3l22-12l22 1l22 14l22 4l44-1l66-6h22l22-1l16 6l27 7l22-2l22-1l44 2l44-7l44 1l22 6l44 3h44l44 6l66-7l22-6v677l-44-1l-88 3l-44-1l-22 1l-22 1l-22-3l-22-1l-66 2l-66-4l-22 1l-43 3h-22l-22-2l-44 3l-44-4l-22 1l-154-2l-132 5l-22-1l-22-3l-22-1l-44 2l-44-2l-44 1l-66-9h-44l-44 2l-22-2l-22-1l-21-3l-22-1l-22 3l-22 2l-44-4l-44 5h-22l-44-4l-22-1l-44 1l-66-1l-44 2l-22-2h-22z"/>
<path fill="#3B5480" d="M100 28l10-2l22 1h22l22 5l17 10l6 7l5 7l5 14l1 7l-3 14l-3 7l-11 14l-10 7l-29 11l-44 7h-44l-22 3l-22-11l-22-20v-64l22-13l22-4l22 2zM114 238l18-3l22 3l22 8l22 7l15 6l29 6l44 4l22-1l44 4l22-3l29 11l15 3l22-2l43 1l22 1l44 8l22-2h22l22 2h22l22-3h44l66 1l22 3l22-1l22-3l22 1l22 5l44 6l22-1l44 1l22-2l22 1l22-1l22-3l22 2l22 4h44l44 4l66-1l22 1l21 5l22 2l22-7l22-5l22 4l22 6l44 7l22 2l66-4l44 4l22 4l22 2h22l22-3l22-5l44 5v584l-44-2h-44l-22 3l-22 1l-44-2l-44 2l-66-3l-44 2l-66-3l-65 3l-22-1l-22-2l-44 3l-44-3l-66 1l-44-1l-88-1l-44 4h-88l-22-1h-22l-44 2l-88-2l-22-2l-44-7l-44-1l-44 2l-22-2h-22l-21-2l-22-1l-22 3l-22 1l-44-4l-44 4l-22 1l-66-4l-44 1l-44-1l-66 1l-22-3h-22v-627l22-11l22-8h44z"/>
<path fill="#3C6A8E" d="M81 49l7-2l22-1h44l8 3l12 7l7 7l3 7l2 7l-2 7l-4 7l-7 7l-19 10l-44-1l-23-2l-36-14l-20-14l8-7l11-7zM34 315l10-3l22-4l22 2l19 5l25 2l14-2l8-2l22 1l44 6l18 2l70-3l22 3l22 3l22 1l44 4l22-1l21 2l44 1h44l22-3l66-1l22-1l44 3l22-1l22-2l44 4l22-1l22-4l22 1l66 7h66l22-1l66 2l44 2l44-1l22 3l22 1l22 1l44-1l43 4l22 2l44-10l44 10l66 5h66l44 3l44 4l44-1l22-2l44 1v533l-44-3l-44 1l-22 2l-22 1l-44-2l-44 2l-66-2l-44 1l-66-2l-65 2l-44-3l-44 3l-44-2h-66l-44-1l-88-1l-44 4h-88l-22-1l-44 1l-44 1l-66-1l-22-2l-22-5l-22-2l-66-1l-22 1l-22-1h-22l-21-2l-22-1l-22 3h-22l-44-2l-66 4l-66-3h-44l-44-2h-66l-22-2l-22 1v-554z"/>
<path fill="#4A81A2" d="M82 70l6-5l22 4l22-1l22-5l7 7l4 7l-4 7l-7 7l-22-6l-22-3l-8 2l-14 2l-4-2l-6-7zM14 350l52-7l22 1l44 7l22-3l22 1l44 5h22l44-2l22 1l44 5l22-1l44 3l22-3l43 2l22 1l66-5l22 1l22-2l44-2l44 2l44-2l44 3l66-1l110 6l44-2l110 6l44-2l22 3l66 1l22-1l43 4l22 1l44-2l22 1l22 3l44 1l22 2h22l22 2l66 2l44 5l22-1h22l22-1l44 1v490h-22l-22-2l-44 2l-22 2l-110 2l-66-3l-44 1l-66-2h-87l-22-1l-44 2l-44-3l-88 1l-22-1h-44h-44l-44 4l-44 1l-44 1l-22-2l-88 1h-66l-22-3l-22-6l-22-3l-66-1l-22 1l-22-1l-65-2l-22 2l-22 1l-44-2l-66 3l-44-1l-22-1h-44l-44-3h-66l-22-2l-22 2v-509z"/>
<path fill="#5A98B5" d="M0 378v-1l44-2l22-4l22 1l44 7l22-3h22l22 3l44 1l22-2h22l66 5l22-2l44 2l22-4l43 2l22 3l22-3l44-3l22 1l22-2l44-2l44 1l44-2l66 2l66-1l44 2l44 4l44-3l44 4l66 3l44-2l22 2h22l44 1l22-1l43 4l88 2l22 2l44-1l22 2h22l22 3l44 2h22l44 4l22-1l22 2l66-2v456h-22l-22-2l-66 5l-110 3l-44-1l-22-2l-44 1l-110-4l-43 1l-22-1l-44 2l-44-3l-88 1l-22-1l-44 1h-44l-44 4l-44 2h-22l-22-1l-22-2h-154l-22-4l-22-7l-22-4l-66-1l-22 2l-22-2h-22l-21-1l-22-1l-22 2l-22 1l-44-2h-22l-22 3h-22l-22-2l-22 2l-22-3l-44 1l-44-4l-66-1l-22-1l-22 4z"/>
<path fill="#47A1AE" d="M30 399l14-1l22-4l22 2l44 5l22-2l22 1l22 2l44 1l22-2l22-1l66 6l22-3l44 2l22-5h21l44 5l44-5l22-2l22 2l22-3l44-1h44l22-2l44-2l66 2l44-1l44 1l44 4l44-3l44 5l66 3l44-3l22 3l22-1l44 2l22-2l43 4h22l44 3h22l22 1l44-1l22 2l22 1l22 2l44 3h22l44 3h22l22 1l22-1l44 1v421l-22 1l-22-2l-22 2l-44 4l-110 4h-22l-44-4l-44 1l-66-4h-22l-22-2l-43 3h-44l-22 2l-44-4l-88 2l-22-1l-44 1l-22-1l-22 1l-22 2l-22 2l-22 1l-22 2l-22-1l-22-2l-22-3l-44-1l-110 1l-22-5l-22-11l-22-4h-44l-22-2l-22 2l-22-2l-65-2l-22 1h-22l-66-1l-22 1l-44-2l-22 3l-22-3l-44 1l-22-2l-22-3l-88-3l-22 5v-420z"/>
<path fill="#2FADA8" d="M683 413h20l22-3l44-2l66 2l44-2h22l22 1l44 5l44-3l22 3l66 3l22 1l44-3l22 3l22-1l44 2l22-2l43 4h22l44 3l88 1l22 2h22l66 5h22l44 3h22l22 1l22-2l44 3v388l-22 2l-22-4l-22 4l-44 4l-44 2l-22 2l-44 2l-22-1l-44-4l-44 1l-66-3h-22l-22-3l-21 1l-22 3h-44l-22 2l-44-5l-88 2l-22-1l-44 2l-22-2l-22 1l-22 3l-22 2h-22l-22 3l-22-1l-22-3l-22-5l-44-1h-22h-88l-22-5l-22-13l-22-4l-22-1l-22 1l-22-3l-22 2l-22-1l-65-2h-66l-44-2l-22 1l-44-2l-22 2l-22-2l-44 1l-22-1l-22-3l-88-2l-22 5v-380l44-1l22-3l22 1l44 4l22-1l22 1l22 2h22h22l22-2l22 1l66 5l22-3l44 2l22-4l21-1l44 2l66-6l22 1l22-3z"/>
<path fill="#29B69D" d="M711 427l36-4l22-1l66 2l66-1l22 1l44 4l44-2l22 3l66 3l22 1l22-1l22-3l22 4l22-1l44 1l22-1l22 3l21 1h22l44 2h22l66 2l22 2h22l66 4h22l44 2l44 1l22-2l44 3v360l-22 2l-22-4l-22 4l-22 2l-66 4l-22 3l-44 1h-22l-22-2l-22-3h-44l-44-1l-22-2h-22l-22-4l-21 2l-22 4l-44 1l-22 2l-44-6h-22l-22 2l-44 1l-22-2l-44 2l-22-1h-22l-44 5h-22l-22 3l-22-1l-44-7l-22-1l-22-1l-110-2l-22-5l-22-13l-22-6l-22-1l-22 2l-22-4h-22l-109-1l-66-3l-22 1l-22 1l-44-3l-22 2l-22-3l-44 3l-44-4h-22l-44-1l-22-1l-22 4v-343h44l22-2l66 3l22-1l22 1l22 3l44-1l22-1l88 4l22-1l44 2l22-4l21-2h44l66-5h22l22-3l44 1l44-2z"/>
<path fill="#56BF7D" d="M710 441l37-5l22-2l132 3l66 3l44-1l22 3l66 3l44-1l22-2l22 3l66 1l22-1l22 3l21 1h22l44 1h22l66 1l22 2h22l66 4h22l44 2h44l22-2l44 4v333l-22 3l-22-5l-22 5l-22 2l-22 2h-22l-22 2l-22 4l-44 1h-22l-22-2l-22-4h-44l-88-4l-22-4l-21 3l-22 4l-22 2h-22l-22 2l-44-4l-22-1l-22 2l-44 1l-22-2l-44 2l-22-1l-22 1l-22 3l-22 1l-22 1l-22 3l-22-2l-44-7h-22l-22-2l-110-2l-22-6l-22-16l-22-6l-22-1l-22 2l-22-4l-87 2l-22-1l-88-5l-22 1l-22 2l-44-4l-22 1l-22-2l-22 2l-22 1l-44-4l-22 1h-44l-22-1l-22 3v-311l44-1l22-2l88 2l22 1l22 3h22l44-2l88 3l22-2l44 2l22-4l21-1l44-1l66-5l22 1l22-3l44 2z"/>
<path fill="#83C55A" d="M754 448l15-1l88 1l110 5l44-1l22 1l88 3l22-1l22-3l22 4h66l22-1l22 3l21 1h22l44 1h22l66 2l22 1h22l66 5l22-1l22 2h66l22-2l44 4v306l-22 3l-22-7l-22 6l-22 4l-22 1l-22-1l-22 1l-22 6l-22 1h-44l-44-6h-22l-44-1h-22l-22-1l-22-1l-22-4l-21 4l-22 5l-22 2h-22l-22 3l-66-4l-22 2h-44l-22-2l-44 3l-22-2l-22 2l-22 3l-22 1l-22 1l-22 3l-22-2l-44-7h-22l-22-2l-66-1l-44-1l-22-7l-22-17l-22-7l-22-1l-22 2l-22-5l-44 1l-43 2l-22-1l-88-8l-22 1l-22 3l-44-5l-22 2l-22-2l-22 3l-22 1l-44-4l-22 1h-44l-22-2l-22 3v-274l22-2l22-1l22-1h22l22-1l66 3l22 3h22l44-4l88 3l22-2l44 2l22-5l21-2l66-1l44-3l22-1l22-2l22 1l22 2l44-5l22-4z"/>
<path fill="#A4C643" d="M742 462l27-3h22l66 2l22 2l88 3l44-2l22 2l44 2l44 1l22-1l22-5l22 5h66l22-1l22 3l21 2l22-1l44 1l22-1l22 1l44 2l22 2l22-1l22 1l44 4l22-1l22 1h66l22-3l44 5v274l-22 4l-22-8l-22 6l-22 4l-22 2l-22-2h-22l-22 7l-22 1h-22l-22 2l-22-2l-22-4h-22l-44-1l-22 1l-22-1h-22l-22-4l-21 4l-22 6l-22 3l-22-2l-22 5l-44-1l-22-2l-22 3h-22l-22 1l-22-3l-44 3l-22-1l-22 2l-22 3l-22 2l-22 1l-22 3l-22-1l-44-10l-22 1l-22-3l-22 1h-22l-22 1l-44-2l-22-9l-22-19l-22-7l-22-1l-22 1l-22-4h-44l-22 2l-21 1l-22-1l-22-2l-66-10l-22 2l-22 3l-44-5l-22 2l-22-2l-22 4l-22 1l-44-5l-22 1h-22l-22 1l-22-2l-22 2v-239l22-2h22l44-1l22-3l22 1l44 4l22 3l22 2l22-4l22-2h44l44 2l22-3l44 2l22-6l21-2l88-2l22-2l22-1l22-2l22 1l22 2l44-6l22-5z"/>
<path fill="#C4C43A" d="M737 476l32-4h22l66 3l22 4l88 1l22-1l22 1l22 2h22l22 2h22l44-2l22-6l22 6h44l44-2l22 3l21 2l22-2l44 2l22-1h22l66 5l22-2l22 1l44 4l22-1l22 2h66l22-4l44 5v233l-22 5l-22-9l-44 11l-22 2l-22-5l-22-2l-22 7h-44l-14 6l-8 1l-44-3l-22 2l-44-2l-22 2h-22l-22 1l-22-5l-43 16l-22 3l-22-2l-22 5l-44 2l-22-4l-22 4l-44 1l-22-2l-22 1l-22 2l-22-1l-22 3l-22 4l-22 2h-22l-22 5l-22-2l-44-10l-22 1l-22-3l-22 1h-22l-22 1l-44-2l-22-10l-22-20l-22-9l-22-2l-22 1l-10-2l-12-5h-44l-22 4l-21 1l-49-7l-61-13l-44 8l-44-8l-22 4l-22-4l-14 6l-8 2h-22l-44-5l-22 4l-22-2l-22 1l-22-2l-22 1v-201l22-2l22 2l44-3l22-3l22 1l22 3l44 3l22 4l22-4l22-1l44-3l22 3l22 1l22-3l44 2l22-6l21-3l22-1l22-2h44l44-3l22-3h22l22 2l44-5z"/>
<path fill="#E0C233" d="M738 490l31-4h22l44 2l13 2l9 1l22 6l88 1l22-2l44 2h22l22 1l66-2l22-7l22 6l66-1l22-1l22 4l21 1l22-1l44 1l22-2h22l66 4l22-1l22 1l44 4l22-1l22 1l22-1l44 2l22-5l44 6v187l-22 6l-22-8l-22-2l-44 7l-22-9l-22-3h-22l-44 1l-22 9l-22-2l-22 2l-22 6l-22 3l-22-1l-22 4h-22l-22 1l-22-4l-11 10l-20 14l-12 7l-22 5l-22-2l-66 8l-10-4l-12-10l-4 3l-18 7l-44 2l-22-2l-22 1l-22 4h-22l-22 4l-22 6l-22 2l-22 1l-22 4l-22-1l-44-10l-22 1l-22-4l-22 2l-22-1l-22 1l-44-1l-22-12l-11-11l-11-12l-22-14l-22-6l-15-3l-29-9l-22 2l-22-1l-22 5l-21-1l-22-5l-44-4l-22-9l-22-5l-22 7l-22-2l-22-9l-66 1l-22 2l-22-1l-22 3l-44 1l-22-8l-22-2l-22-2l-22-6v-130l22-2l22 3l22-2l44-6l22 1l22 4l22 1h22l22 5l22-4l22 2l44-7l22 5l22 1l22-3l44 3l22-6l21-3l22-1l22-3h44l22-2l22-1l22-4h22l22 1l44-5z"/>
<path fill="#EDB130" d="M744 504l25-3h22l44 5l22 3l22 9l22-1l66-1l22-3l44 3l22-2l22 2l44-2l22-1l22-9l22 6l22-1l66-1l22 4l21 2l22-2l44 1l44-2l66 3l22-2l22 1l44 5l22-2l22 1l22-1l44 3l22-5l44 5v139l-22 6l-22-4l-22-6l-22 2l-22 3l-22-6l-44-4l-22 1l-22 3l-22 5l-22-4l-22 1l-44 13l-22-1l-22 3l-65-6l-23 22l-17 21l-4 3l-22 10l-22 1l-22-6l-13-8l-2-7l-6-35l-1-7l-4-7l-5-7l-13-13l-22-8l-5 7l-10 21l-20 56l-7 14l-2 1l-22 1l-22-2l-22 1l-22 3l-22 2l-22 5l-22 10l-22 4l-22 2l-22 5l-22-1l-22-5l-22-8h-22l-22-6l-22 4h-22l-22 2l-22-1l-22-2l-22-12l-9-10l-13-16l-22-14l-22-9l-22-6l-22-4l-22 1l-22-3l-22 5l-21-3l-22-7l-22 2l-22-1l-15-8l-7-5l-22-5l-3 3l-19 8l-22-5l-6-3l-10-7l-6-7l-13 7l-9 2l-22-6l-9 4l-13 3l-22-4l-22 2l-22 7l-22 1l-22-5l-10-4l-11-7l-1-2l-22-7l-4 2l-18 5l-22-2v-92h22l22 6l22-3l16-5l28-6l22 1l22 5l22 2l22-3l22 8l22-6l22 5l44-11l22 9l22 1l22-4l22 1l22 3l22-6l21-4l22 1l22-5h66l22-2l22-5l22-1h22l22-3l22-1z"/>
<path fill="#F0A12C" d="M717 525l30-4l44-3l66 15l10 6l12 9l22-5l22-2l44-3l22-3l44 7l22-3l22 3l22-4l22 2l22 7l6-15l4-7l12-6l17 6l5 10l17-10l27-2l22 1l22-1l22 6l21 2l22-4h22l22 1l44-3h44l22 2l22-3l22 2l44 6l22-3l22 1l22-1l22 3l22 2l22-6l44 6v99l-22 5l-22-2l-22-10l-22 2l-22 5l-22-5l-22-1l-22-5l-22 2l-44 7l-22-4h-22l-44 8l-22-2h-22l-22-1l-44-9l-8 7l-22 14l-13 10l-11 4l-11 6l-22 15l-17-35l-8-21l-19-25l-4 4l-18 4l-9-4l-7-7l-6-10l-9 10l-7 7l-20 14l-8 9l-29 26l-15 12l-16 16l-28 17l-44 12l-34 20l-10 3l-22 3l-22 7h-22l-22-7l-16-6l-6-4h-22l-22-6l-22 5l-22 1l-22 2h-22l-22-3l-16-9l-6-4l-3-3l-19-24l-22-15l-22-10l-36-7l-8-6l-22-3l-22-18l-4 6l-7 7l-11 7l-21-12l-11-9l-6-7l-5-12l-7 12l-5 7l-10 8l-22 3l-8-11l-6-14l-3-14v-7l5-14l5-7l7-7l22 4l3 3l8 7l6 7l5 9l3-9l4-7l5-7l7-7l3-2l21-12l16 7l6 5l9-12l8-7l5-2h22l44 2l22-2l22-5l22-2l22-1l22-3l22 1zM102 546l8-5l22 3l9 9l5 7l4 7l4 14v7l-2 7l-6 14l-5 7l-9 8l-22 3l-16-11l-6-7l-3-7l-4-14l-1-7l2-7l6-14l6-7zM302 546l6-4l7 11l6 14l3 21l-1 7l-3 14l-6 14l-6 9l-10-9l-5-7l-6-14l-2-14l4-21l8-14zM193 560l5-7l6 14l3 14v7l-2 7l-3 7l-4 8l-6-8l-7-14v-7l1-7l3-7zM241 560l1-2l4 9l3 14v7l-2 7l-5 11l-6-11l-2-7v-7l1-7zM0 567v-5l10 5l8 7l2 7l-11 7l-9 3z"/>
<path fill="#F29329" d="M1516 539l22 2l17 5l5 3l22 6l18-9l4-1l22 1l22-1l6 1l16 6l22 6l4-5l11-7l7-3l21 3l23 4v54l-22 5l-22 1l-13-8l-9-11l-22 6l-7 5l-15 6l-22-5l-22-1l-15-7l-7-5l-22 3l-16 9l-6 1l-22 3l-22-6l-22-1h-44l-22-9l-22-4l-22 1l-22-5l-1-1l1-3l6-4l16-6l22 1l22-6l22-10l22-5l22-3h22zM640 546l41-5l22 2h44l22 2l22-3l30 11l14 3l22 4l13 14l9 14l44-19l44-9l22-1l20 8l9 7l6 7l3 21v21l-16 29l-12 13l-10 8l-9 6l-57 19l-22 3l-9 13l-3 7l-7 7l-3 1h-22l-4-1l-18-11l-22-16l-22 5l-22-5l-22 7l-44 7l-22-1l-22-2l-18-12l-12-14l-14-21l-11-7l-9-7l-6-7l-10-14l-4-7l-5-14l-1-7l2-7l6-14l5-7l13-14l11-7l9-3zM108 581l2-4l7 4v7l-7 4l-2-4z"/>
<path fill="#EC6E2A" d="M654 560l27-4l44 10l22 7l17 8l5 3l22-8l8 5l9 7l5 6l17-6l5-1h22l6 8l5 14l4 14l3 21l1 14l-1 7l-3 14l-5 14l-5 7l-5 4l-22-12l-13-13l-6-7l-3-7l-6 7l-10 7l-6 3l-22-5l-22 13l-44 13h-22l-22-2l-17-15l-27-47l-22-23l-3-7l-1-7l4-10l22-18l22-9zM945 609l22-6l13 6l8 7l2 7l-1 2l-8 5l-14 9l-22 2l-22-4l-2-7l-1-7l3-5z"/>
<path fill="#E8452B" d="M663 574l18-2l28 9l22 14l10 7l15 14l11 7l24 7l-8 7l-14 3l-7 4l-16 14l-31 21l-9 7l-3 1l-22 2l-22-2l-1-1l-6-14l-15-25l-8-17l-7-21l2-7l13-8l22-19zM848 623l9-3l3 10l2 28l-5 16l-11-9l-7-7l-4-18v-10z"/>
<path fill="#DD252B" d="M668 602l13-6l22 8l15 12l11 14l-2 7l-15 14l-9 6l-22 5l-20-11l-6-7l-6-14l1-7l2-7l5-7l2-2z"/>
<path fill="#CF1A38" d="M679 630l2-4l5 4l-5 4z"/>
</g>
</g>
<rect x="324.8" y="0" width="8.6" height="486.4" fill="#0000ff" fill-opacity="0.3"/>
<rect x="325.6" y="0" width="7" height="486.4" fill="#0000ff" fill-opacity="0.62"/>
<rect x="0" y="0" width="879" height="486.4" fill="none" stroke="#1c1c1c" stroke-width="1.7"/>
<path d="M0 486.4v5.6M0 0v-5.6M109.9 486.4v5.6M109.9 0v-5.6M219.8 486.4v5.6M219.8 0v-5.6M329.6 486.4v5.6M329.6 0v-5.6M439.5 486.4v5.6M439.5 0v-5.6M549.4 486.4v5.6M549.4 0v-5.6M659.2 486.4v5.6M659.2 0v-5.6M769.1 486.4v5.6M769.1 0v-5.6M879 486.4v5.6M879 0v-5.6M0 0h-6.4 M879 0h6.4M0 32.8h-3.4 M879 32.8h3.4M0 52h-3.4 M879 52h3.4M0 65.6h-3.4 M879 65.6h3.4M0 76.1h-3.4 M879 76.1h3.4M0 84.7h-3.4 M879 84.7h3.4M0 92h-3.4 M879 92h3.4M0 98.3h-3.4 M879 98.3h3.4M0 103.9h-3.4 M879 103.9h3.4M0 108.9h-6.4 M879 108.9h6.4M0 141.7h-3.4 M879 141.7h3.4M0 160.9h-3.4 M879 160.9h3.4M0 174.5h-3.4 M879 174.5h3.4M0 185h-3.4 M879 185h3.4M0 193.6h-3.4 M879 193.6h3.4M0 200.9h-3.4 M879 200.9h3.4M0 207.2h-3.4 M879 207.2h3.4M0 212.8h-3.4 M879 212.8h3.4M0 217.8h-6.4 M879 217.8h6.4M0 250.6h-3.4 M879 250.6h3.4M0 269.8h-3.4 M879 269.8h3.4M0 283.4h-3.4 M879 283.4h3.4M0 293.9h-3.4 M879 293.9h3.4M0 302.5h-3.4 M879 302.5h3.4M0 309.8h-3.4 M879 309.8h3.4M0 316.1h-3.4 M879 316.1h3.4M0 321.7h-3.4 M879 321.7h3.4M0 326.7h-6.4 M879 326.7h6.4M0 359.5h-3.4 M879 359.5h3.4M0 378.7h-3.4 M879 378.7h3.4M0 392.3h-3.4 M879 392.3h3.4M0 402.8h-3.4 M879 402.8h3.4M0 411.4h-3.4 M879 411.4h3.4M0 418.7h-3.4 M879 418.7h3.4M0 425h-3.4 M879 425h3.4M0 430.6h-3.4 M879 430.6h3.4M0 435.6h-6.4 M879 435.6h6.4M0 468.4h-3.4 M879 468.4h3.4M0 486.4h-6.4M879 486.4h6.4" stroke="#1c1c1c" stroke-width="1.5" fill="none"/>
<text x="0" y="539.6" font-size="37.5" text-anchor="middle">-30</text>
<text x="109.9" y="539.6" font-size="37.5" text-anchor="middle">-20</text>
<text x="219.8" y="539.6" font-size="37.5" text-anchor="middle">-10</text>
<text x="329.6" y="539.6" font-size="37.5" text-anchor="middle">0</text>
<text x="439.5" y="539.6" font-size="37.5" text-anchor="middle">10</text>
<text x="549.4" y="539.6" font-size="37.5" text-anchor="middle">20</text>
<text x="659.2" y="539.6" font-size="37.5" text-anchor="middle">30</text>
<text x="769.1" y="539.6" font-size="37.5" text-anchor="middle">40</text>
<text x="879" y="539.6" font-size="37.5" text-anchor="middle">50</text>
<text x="-20.5" y="13.6" font-size="37.5" text-anchor="end">0.01</text>
<text x="-20.5" y="122.5" font-size="37.5" text-anchor="end">0.1</text>
<text x="-20.5" y="231.4" font-size="37.5" text-anchor="end">1</text>
<text x="-20.5" y="340.3" font-size="37.5" text-anchor="end">10</text>
<text x="-20.5" y="449.2" font-size="37.5" text-anchor="end">100</text>
<text x="-20.5" y="500" font-size="37.5" text-anchor="end">300</text>
<text x="449" y="-13.6" font-size="41.3" text-anchor="middle">(f) MLS ozone at Ny-Ålesund</text>
<text x="439.5" y="101.5" font-size="37.5" text-anchor="middle" transform="translate(0,486.4)">Time lag (days)</text>
</g>
<text x="574.6" y="28" font-size="41.3" font-weight="bold" text-anchor="middle">SSW events</text>
<text x="1607.8" y="28" font-size="41.3" font-weight="bold" text-anchor="middle">FSW events</text>
<g transform="translate(135.1,1954)">
<rect x="0" y="0" width="37.2" height="39.2" fill="#802B70"/>
<rect x="36.6" y="0" width="37.2" height="39.2" fill="#673A7E"/>
<rect x="73.2" y="0" width="37.2" height="39.2" fill="#52477F"/>
<rect x="109.9" y="0" width="37.2" height="39.2" fill="#3B5480"/>
<rect x="146.5" y="0" width="37.2" height="39.2" fill="#3C6A8E"/>
<rect x="183.1" y="0" width="37.2" height="39.2" fill="#4A81A2"/>
<rect x="219.8" y="0" width="37.2" height="39.2" fill="#5A98B5"/>
<rect x="256.4" y="0" width="37.2" height="39.2" fill="#47A1AE"/>
<rect x="293" y="0" width="37.2" height="39.2" fill="#2FADA8"/>
<rect x="329.6" y="0" width="37.2" height="39.2" fill="#29B69D"/>
<rect x="366.2" y="0" width="37.2" height="39.2" fill="#56BF7D"/>
<rect x="402.9" y="0" width="37.2" height="39.2" fill="#83C55A"/>
<rect x="439.5" y="0" width="37.2" height="39.2" fill="#A4C643"/>
<rect x="476.1" y="0" width="37.2" height="39.2" fill="#C4C43A"/>
<rect x="512.8" y="0" width="37.2" height="39.2" fill="#E0C233"/>
<rect x="549.4" y="0" width="37.2" height="39.2" fill="#EDB130"/>
<rect x="586" y="0" width="37.2" height="39.2" fill="#F0A12C"/>
<rect x="622.6" y="0" width="37.2" height="39.2" fill="#F29329"/>
<rect x="659.2" y="0" width="37.2" height="39.2" fill="#EC6E2A"/>
<rect x="695.9" y="0" width="37.2" height="39.2" fill="#E8452B"/>
<rect x="732.5" y="0" width="37.2" height="39.2" fill="#DD252B"/>
<rect x="769.1" y="0" width="37.2" height="39.2" fill="#CF1A38"/>
<rect x="805.8" y="0" width="37.2" height="39.2" fill="#C01043"/>
<rect x="842.4" y="0" width="36.6" height="39.2" fill="#A81552"/>
<rect x="0" y="0" width="879" height="39.2" fill="none" stroke="#1c1c1c" stroke-width="1.7"/>
<path d="M109.9 39.2v-9M219.8 39.2v-9M329.6 39.2v-9M439.5 39.2v-9M549.4 39.2v-9M659.2 39.2v-9M769.1 39.2v-9" stroke="#1c1c1c" stroke-width="1.5" fill="none"/>
<text x="0" y="84.5" font-size="34" text-anchor="middle">0</text>
<text x="109.9" y="84.5" font-size="34" text-anchor="middle">1</text>
<text x="219.8" y="84.5" font-size="34" text-anchor="middle">2</text>
<text x="329.6" y="84.5" font-size="34" text-anchor="middle">3</text>
<text x="439.5" y="84.5" font-size="34" text-anchor="middle">4</text>
<text x="549.4" y="84.5" font-size="34" text-anchor="middle">5</text>
<text x="659.2" y="84.5" font-size="34" text-anchor="middle">6</text>
<text x="769.1" y="84.5" font-size="34" text-anchor="middle">7</text>
<text x="879" y="84.5" font-size="34" text-anchor="middle">8</text>
<text x="439.5" y="127.2" font-size="34" text-anchor="middle">Ozone [ppmv]</text>
</g>
<g transform="translate(1168.3,1954)">
<rect x="0" y="0" width="37.2" height="39.2" fill="#802B70"/>
<rect x="36.6" y="0" width="37.2" height="39.2" fill="#673A7E"/>
<rect x="73.2" y="0" width="37.2" height="39.2" fill="#52477F"/>
<rect x="109.9" y="0" width="37.2" height="39.2" fill="#3B5480"/>
<rect x="146.5" y="0" width="37.2" height="39.2" fill="#3C6A8E"/>
<rect x="183.1" y="0" width="37.2" height="39.2" fill="#4A81A2"/>
<rect x="219.8" y="0" width="37.2" height="39.2" fill="#5A98B5"/>
<rect x="256.4" y="0" width="37.2" height="39.2" fill="#47A1AE"/>
<rect x="293" y="0" width="37.2" height="39.2" fill="#2FADA8"/>
<rect x="329.6" y="0" width="37.2" height="39.2" fill="#29B69D"/>
<rect x="366.2" y="0" width="37.2" height="39.2" fill="#56BF7D"/>
<rect x="402.9" y="0" width="37.2" height="39.2" fill="#83C55A"/>
<rect x="439.5" y="0" width="37.2" height="39.2" fill="#A4C643"/>
<rect x="476.1" y="0" width="37.2" height="39.2" fill="#C4C43A"/>
<rect x="512.8" y="0" width="37.2" height="39.2" fill="#E0C233"/>
<rect x="549.4" y="0" width="37.2" height="39.2" fill="#EDB130"/>
<rect x="586" y="0" width="37.2" height="39.2" fill="#F0A12C"/>
<rect x="622.6" y="0" width="37.2" height="39.2" fill="#F29329"/>
<rect x="659.2" y="0" width="37.2" height="39.2" fill="#EC6E2A"/>
<rect x="695.9" y="0" width="37.2" height="39.2" fill="#E8452B"/>
<rect x="732.5" y="0" width="37.2" height="39.2" fill="#DD252B"/>
<rect x="769.1" y="0" width="37.2" height="39.2" fill="#CF1A38"/>
<rect x="805.8" y="0" width="37.2" height="39.2" fill="#C01043"/>
<rect x="842.4" y="0" width="36.6" height="39.2" fill="#A81552"/>
<rect x="0" y="0" width="879" height="39.2" fill="none" stroke="#1c1c1c" stroke-width="1.7"/>
<path d="M109.9 39.2v-9M219.8 39.2v-9M329.6 39.2v-9M439.5 39.2v-9M549.4 39.2v-9M659.2 39.2v-9M769.1 39.2v-9" stroke="#1c1c1c" stroke-width="1.5" fill="none"/>
<text x="0" y="84.5" font-size="34" text-anchor="middle">0</text>
<text x="109.9" y="84.5" font-size="34" text-anchor="middle">1</text>
<text x="219.8" y="84.5" font-size="34" text-anchor="middle">2</text>
<text x="329.6" y="84.5" font-size="34" text-anchor="middle">3</text>
<text x="439.5" y="84.5" font-size="34" text-anchor="middle">4</text>
<text x="549.4" y="84.5" font-size="34" text-anchor="middle">5</text>
<text x="659.2" y="84.5" font-size="34" text-anchor="middle">6</text>
<text x="769.1" y="84.5" font-size="34" text-anchor="middle">7</text>
<text x="879" y="84.5" font-size="34" text-anchor="middle">8</text>
<text x="439.5" y="127.2" font-size="34" text-anchor="middle">Ozone [ppmv]</text>
</g>
</svg></body></html>
